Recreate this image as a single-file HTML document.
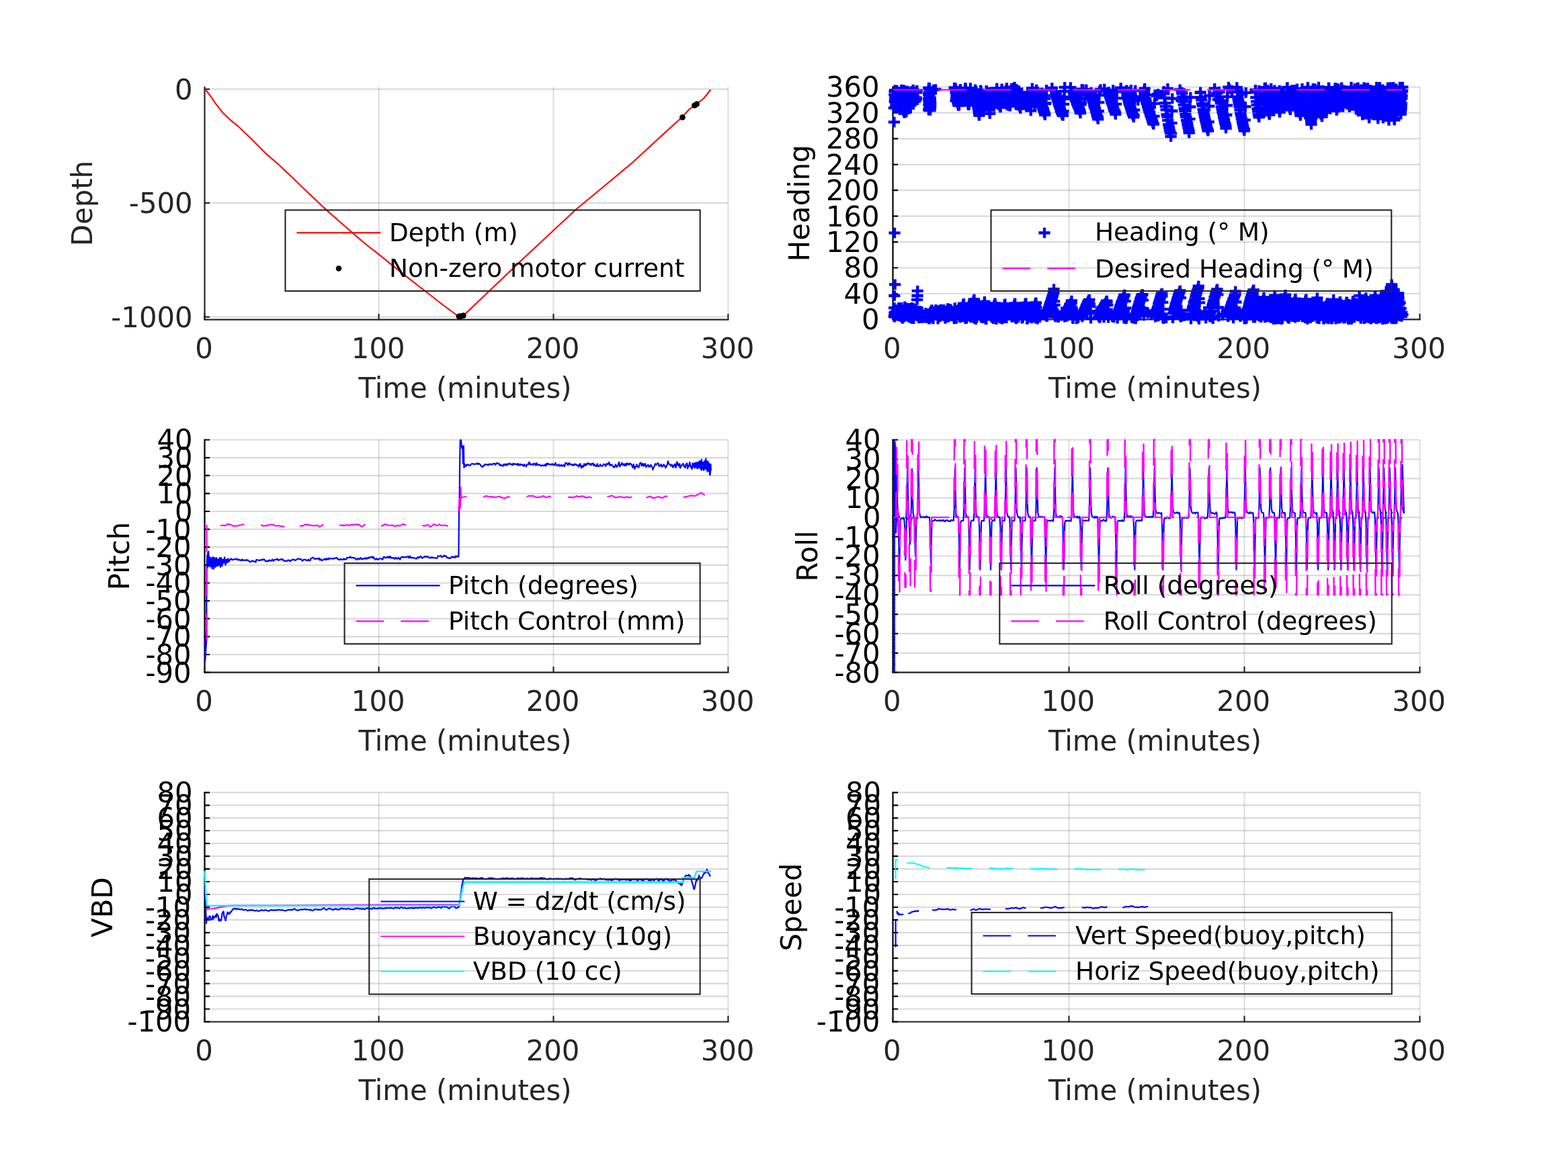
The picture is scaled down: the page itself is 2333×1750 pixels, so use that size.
<!DOCTYPE html>
<html><head><meta charset="utf-8"><title>Dive plots</title>
<style>html,body{margin:0;padding:0;background:#fff}svg{display:block}text{font-family:"DejaVu Sans","Liberation Sans",sans-serif}</style></head><body>
<svg xmlns="http://www.w3.org/2000/svg" width="2333" height="1750" viewBox="0 0 2333 1750">
<rect width="2333" height="1750" fill="#fff"/>
<g id="ax1">
<path d="M563.6 129.6V465.3M823.5 129.6V465.3M1083.4 129.6V465.3" stroke="#262626" stroke-opacity="0.14" stroke-width="2.2" fill="none"/>
<path d="M314.1 132.6H1083.4M314.1 302.1H1083.4M314.1 471.6H1083.4" stroke="#262626" stroke-opacity="0.17" stroke-width="2.2" fill="none"/>
<path d="M304.5 475.6H1083.4" stroke="#262626" stroke-width="2.2" fill="none" stroke-linecap="round"/>
<path d="M304.5 129.6V475.6" stroke="#262626" stroke-width="2.2" fill="none" stroke-linecap="round"/>
<path d="M304.5 475.6v-8.1M563.6 475.6v-8.1M823.5 475.6v-8.1M1083.4 475.6v-8.1" stroke="#262626" stroke-width="2.2" fill="none" stroke-linecap="round"/>
<path d="M304.5 132.6h7.0M304.5 302.1h7.0M304.5 471.6h7.0" stroke="#262626" stroke-width="2.2" fill="none" stroke-linecap="round"/>
<g font-size="41.75" fill="#262626" text-anchor="middle">
<text x="303.6" y="533.2">0</text>
<text x="562.7" y="533.2">100</text>
<text x="822.6" y="533.2">200</text>
<text x="1082.5" y="533.2">300</text>
<text x="692" y="592.4">Time (minutes)</text>
<text transform="translate(137 302.6) rotate(-90)" fill="#262626">Depth</text>
</g>
<g font-size="41.75" fill="#262626" text-anchor="end">
<text x="286.6" y="147.5">0</text>
<text x="286.6" y="317">-500</text>
<text x="286.6" y="486.5">-1000</text>
</g>
<path d="M305.3 132.6L313.6 143.5L321.7 155.3L332.5 168.8L342.5 178.3L354.2 187.8L372.3 205L396.7 229.4L417.5 247.5L439.2 268.3L458.6 287L485.5 312.4L524.3 346.4L543.7 363L563.1 378.2L601.9 409.4L632.4 433L660 454.5L679.5 469L684 471.3L688.5 470.3L692 467.4L727.5 433.5L774.1 389L822.9 343.5L856.6 312L886.9 287L939 243.7L991.1 195.9L1014.9 174.2L1025.8 162.3L1035.6 155.8L1047.5 146L1057.2 133.5" stroke="#f00" stroke-width="2.15" fill="none" stroke-linejoin="round" />
<circle cx="683" cy="470.9" r="4.4" fill="#000"/>
<circle cx="685.5" cy="470.7" r="4.4" fill="#000"/>
<circle cx="689.3" cy="469.6" r="4.4" fill="#000"/>
<circle cx="1015.4" cy="174.6" r="4.4" fill="#000"/>
<circle cx="1033.4" cy="156.8" r="4.4" fill="#000"/>
<circle cx="1036.6" cy="155.0" r="4.4" fill="#000"/>
<rect x="424.5" y="312.6" width="617.2" height="120.5" fill="none" stroke="#262626" stroke-width="2.1"/>
<path d="M441.5 346.3h125" stroke="#f00" stroke-width="2.2" fill="none"/>
<text x="578.9" y="359.3" font-size="37.45" fill="#000">Depth (m)</text>
<circle cx="504" cy="399.5" r="4.3" fill="#000"/>
<text x="578.9" y="412.1" font-size="37.45" fill="#000">Non-zero motor current</text>
</g>
<g id="ax2">
<path d="M1590.5 129.5V465.1M1851.5 129.5V465.1M2112.5 129.5V465.1" stroke="#262626" stroke-opacity="0.14" stroke-width="2.2" fill="none"/>
<path d="M1338.1 475.4H2112.5M1338.1 437H2112.5M1338.1 398.5H2112.5M1338.1 360.1H2112.5M1338.1 321.7H2112.5M1338.1 283.2H2112.5M1338.1 244.8H2112.5M1338.1 206.4H2112.5M1338.1 167.9H2112.5M1338.1 129.5H2112.5" stroke="#262626" stroke-opacity="0.17" stroke-width="2.2" fill="none"/>
<path d="M1328.5 475.4H2112.5" stroke="#262626" stroke-width="2.2" fill="none" stroke-linecap="round"/>
<path d="M1328.5 129.5V475.4" stroke="#000000" stroke-width="2.2" fill="none" stroke-linecap="round"/>
<path d="M1328.5 475.4v-8.1M1590.5 475.4v-8.1M1851.5 475.4v-8.1M2112.5 475.4v-8.1" stroke="#262626" stroke-width="2.2" fill="none" stroke-linecap="round"/>
<path d="M1328.5 475.4h7.0M1328.5 437h7.0M1328.5 398.5h7.0M1328.5 360.1h7.0M1328.5 321.7h7.0M1328.5 283.2h7.0M1328.5 244.8h7.0M1328.5 206.4h7.0M1328.5 167.9h7.0M1328.5 129.5h7.0" stroke="#000000" stroke-width="2.2" fill="none" stroke-linecap="round"/>
<g font-size="41.75" fill="#262626" text-anchor="middle">
<text x="1327.2" y="533">0</text>
<text x="1589.2" y="533">100</text>
<text x="1850.2" y="533">200</text>
<text x="2111.2" y="533">300</text>
<text x="1718.5" y="592.2">Time (minutes)</text>
<text transform="translate(1203.9 302.4) rotate(-90)" fill="#000000">Heading</text>
</g>
<g font-size="41.75" fill="#000000" text-anchor="end">
<text x="1308.7" y="490.3">0</text>
<text x="1308.7" y="451.9">40</text>
<text x="1308.7" y="413.4">80</text>
<text x="1308.7" y="375">120</text>
<text x="1308.7" y="336.6">160</text>
<text x="1308.7" y="298.1">200</text>
<text x="1308.7" y="259.7">240</text>
<text x="1308.7" y="221.3">280</text>
<text x="1308.7" y="182.8">320</text>
<text x="1308.7" y="144.4">360</text>
</g>
<path d="M1326.8 153.6h17.2m-8.6-7.8v15.6M1323.7 148.9h17.2m-8.6-7.8v15.6M1350.1 133.5h17.2m-8.6-7.8v15.6M1346.4 138.8h17.2m-8.6-7.8v15.6M1330.8 142.1h17.2m-8.6-7.8v15.6M1324.8 160.8h17.2m-8.6-7.8v15.6M1341.7 153.4h17.2m-8.6-7.8v15.6M1355.3 137.5h17.2m-8.6-7.8v15.6M1344.8 145.0h17.2m-8.6-7.8v15.6M1330.8 151.3h17.2m-8.6-7.8v15.6M1329.2 157.6h17.2m-8.6-7.8v15.6M1334.9 159.9h17.2m-8.6-7.8v15.6M1342.4 135.9h17.2m-8.6-7.8v15.6M1342.8 155.2h17.2m-8.6-7.8v15.6M1327.7 136.6h17.2m-8.6-7.8v15.6M1329.3 146.5h17.2m-8.6-7.8v15.6M1339.3 145.8h17.2m-8.6-7.8v15.6M1339.8 166.2h17.2m-8.6-7.8v15.6M1339.5 135.3h17.2m-8.6-7.8v15.6M1347.9 154.1h17.2m-8.6-7.8v15.6M1331.7 143.3h17.2m-8.6-7.8v15.6M1346.4 146.4h17.2m-8.6-7.8v15.6M1347.8 152.4h17.2m-8.6-7.8v15.6M1340.6 147.1h17.2m-8.6-7.8v15.6M1337.7 139.1h17.2m-8.6-7.8v15.6M1325.5 141.2h17.2m-8.6-7.8v15.6M1334.0 153.9h17.2m-8.6-7.8v15.6M1336.9 167.6h17.2m-8.6-7.8v15.6M1335.8 133.7h17.2m-8.6-7.8v15.6M1324.7 153.2h17.2m-8.6-7.8v15.6M1339.6 155.3h17.2m-8.6-7.8v15.6M1336.9 168.0h17.2m-8.6-7.8v15.6M1324.9 140.9h17.2m-8.6-7.8v15.6M1350.1 145.6h17.2m-8.6-7.8v15.6M1350.5 142.4h17.2m-8.6-7.8v15.6M1333.7 140.1h17.2m-8.6-7.8v15.6M1324.8 134.4h17.2m-8.6-7.8v15.6M1333.1 134.1h17.2m-8.6-7.8v15.6M1331.7 154.0h17.2m-8.6-7.8v15.6M1349.1 136.0h17.2m-8.6-7.8v15.6M1343.2 153.1h17.2m-8.6-7.8v15.6M1322.6 151.4h17.2m-8.6-7.8v15.6M1339.3 166.9h17.2m-8.6-7.8v15.6M1348.0 136.0h17.2m-8.6-7.8v15.6M1326.1 154.1h17.2m-8.6-7.8v15.6M1332.7 133.5h17.2m-8.6-7.8v15.6M1355.7 134.6h17.2m-8.6-7.8v15.6M1323.1 134.1h17.2m-8.6-7.8v15.6M1354.9 146.0h17.2m-8.6-7.8v15.6M1344.8 147.4h17.2m-8.6-7.8v15.6M1353.0 136.7h17.2m-8.6-7.8v15.6M1330.0 163.2h17.2m-8.6-7.8v15.6M1345.7 138.8h17.2m-8.6-7.8v15.6M1337.7 138.7h17.2m-8.6-7.8v15.6M1327.6 139.8h17.2m-8.6-7.8v15.6M1334.1 147.3h17.2m-8.6-7.8v15.6M1331.7 151.5h17.2m-8.6-7.8v15.6M1346.4 148.0h17.2m-8.6-7.8v15.6M1325.2 150.5h17.2m-8.6-7.8v15.6M1339.4 163.2h17.2m-8.6-7.8v15.6M1350.7 143.0h17.2m-8.6-7.8v15.6M1342.4 137.6h17.2m-8.6-7.8v15.6M1322.2 141.0h17.2m-8.6-7.8v15.6M1349.2 136.8h17.2m-8.6-7.8v15.6M1325.5 134.5h17.2m-8.6-7.8v15.6M1325.2 155.6h17.2m-8.6-7.8v15.6M1349.1 153.9h17.2m-8.6-7.8v15.6M1324.3 152.2h17.2m-8.6-7.8v15.6M1350.1 154.2h17.2m-8.6-7.8v15.6M1343.3 142.3h17.2m-8.6-7.8v15.6M1348.7 149.3h17.2m-8.6-7.8v15.6M1347.5 136.7h17.2m-8.6-7.8v15.6M1334.3 151.5h17.2m-8.6-7.8v15.6M1346.6 140.2h17.2m-8.6-7.8v15.6M1346.7 143.5h17.2m-8.6-7.8v15.6M1353.8 145.5h17.2m-8.6-7.8v15.6M1343.9 138.0h17.2m-8.6-7.8v15.6M1335.4 148.6h17.2m-8.6-7.8v15.6M1326.4 158.4h17.2m-8.6-7.8v15.6M1322.8 148.5h17.2m-8.6-7.8v15.6M1344.9 155.2h17.2m-8.6-7.8v15.6M1348.4 153.6h17.2m-8.6-7.8v15.6M1342.1 147.5h17.2m-8.6-7.8v15.6M1321.7 160.6h17.2m-8.6-7.8v15.6M1339.4 166.8h17.2m-8.6-7.8v15.6M1322.4 136.1h17.2m-8.6-7.8v15.6M1323.9 159.4h17.2m-8.6-7.8v15.6M1349.8 147.0h17.2m-8.6-7.8v15.6M1323.2 144.9h17.2m-8.6-7.8v15.6M1334.3 141.8h17.2m-8.6-7.8v15.6M1330.2 146.4h17.2m-8.6-7.8v15.6M1341.4 142.1h17.2m-8.6-7.8v15.6M1341.0 146.1h17.2m-8.6-7.8v15.6M1354.7 148.3h17.2m-8.6-7.8v15.6M1326.7 156.4h17.2m-8.6-7.8v15.6M1327.9 157.9h17.2m-8.6-7.8v15.6M1352.9 150.9h17.2m-8.6-7.8v15.6M1348.9 136.2h17.2m-8.6-7.8v15.6M1331.1 148.8h17.2m-8.6-7.8v15.6M1347.8 153.1h17.2m-8.6-7.8v15.6M1347.9 143.9h17.2m-8.6-7.8v15.6M1327.0 148.0h17.2m-8.6-7.8v15.6M1345.6 149.9h17.2m-8.6-7.8v15.6M1324.1 147.8h17.2m-8.6-7.8v15.6M1328.6 137.6h17.2m-8.6-7.8v15.6M1326.9 154.0h17.2m-8.6-7.8v15.6M1335.3 164.6h17.2m-8.6-7.8v15.6M1334.5 148.1h17.2m-8.6-7.8v15.6M1346.0 141.9h17.2m-8.6-7.8v15.6M1349.7 137.4h17.2m-8.6-7.8v15.6M1329.4 141.7h17.2m-8.6-7.8v15.6M1334.3 146.7h17.2m-8.6-7.8v15.6M1324.3 156.5h17.2m-8.6-7.8v15.6M1343.8 161.0h17.2m-8.6-7.8v15.6M1327.6 157.1h17.2m-8.6-7.8v15.6M1350.3 145.6h17.2m-8.6-7.8v15.6M1332.3 141.0h17.2m-8.6-7.8v15.6M1352.1 145.5h17.2m-8.6-7.8v15.6M1338.7 163.9h17.2m-8.6-7.8v15.6M1346.1 142.2h17.2m-8.6-7.8v15.6M1375.6 145.6h17.2m-8.6-7.8v15.6M1373.1 146.6h17.2m-8.6-7.8v15.6M1373.3 149.5h17.2m-8.6-7.8v15.6M1375.7 149.3h17.2m-8.6-7.8v15.6M1375.9 160.3h17.2m-8.6-7.8v15.6M1374.1 141.5h17.2m-8.6-7.8v15.6M1374.2 133.4h17.2m-8.6-7.8v15.6M1374.5 160.8h17.2m-8.6-7.8v15.6M1374.0 148.9h17.2m-8.6-7.8v15.6M1373.8 162.1h17.2m-8.6-7.8v15.6M1373.7 161.3h17.2m-8.6-7.8v15.6M1373.1 140.6h17.2m-8.6-7.8v15.6M1373.9 164.0h17.2m-8.6-7.8v15.6M1373.3 156.1h17.2m-8.6-7.8v15.6M1373.4 139.4h17.2m-8.6-7.8v15.6M1374.4 162.1h17.2m-8.6-7.8v15.6M1373.2 163.6h17.2m-8.6-7.8v15.6M1374.4 132.4h17.2m-8.6-7.8v15.6M1373.6 150.8h17.2m-8.6-7.8v15.6M1374.1 130.6h17.2m-8.6-7.8v15.6M1373.8 152.0h17.2m-8.6-7.8v15.6M1375.3 164.1h17.2m-8.6-7.8v15.6M1373.5 138.3h17.2m-8.6-7.8v15.6M1374.3 137.9h17.2m-8.6-7.8v15.6M1375.0 158.3h17.2m-8.6-7.8v15.6M1374.3 155.7h17.2m-8.6-7.8v15.6M1374.6 139.3h17.2m-8.6-7.8v15.6M1374.6 139.7h17.2m-8.6-7.8v15.6M1375.4 164.3h17.2m-8.6-7.8v15.6M1375.2 159.8h17.2m-8.6-7.8v15.6M1376.1 157.4h17.2m-8.6-7.8v15.6M1375.0 164.2h17.2m-8.6-7.8v15.6M1373.2 130.8h17.2m-8.6-7.8v15.6M1376.1 153.1h17.2m-8.6-7.8v15.6M1375.8 158.5h17.2m-8.6-7.8v15.6M1374.2 145.7h17.2m-8.6-7.8v15.6M1374.6 150.2h17.2m-8.6-7.8v15.6M1373.3 146.9h17.2m-8.6-7.8v15.6M1375.1 138.6h17.2m-8.6-7.8v15.6M1374.8 138.5h17.2m-8.6-7.8v15.6M1324.6 465.4h17.2m-8.6-7.8v15.6M1327.2 464.1h17.2m-8.6-7.8v15.6M1336.5 471.7h17.2m-8.6-7.8v15.6M1344.4 458.9h17.2m-8.6-7.8v15.6M1329.3 460.8h17.2m-8.6-7.8v15.6M1334.9 470.8h17.2m-8.6-7.8v15.6M1347.9 460.9h17.2m-8.6-7.8v15.6M1347.6 460.9h17.2m-8.6-7.8v15.6M1348.0 465.3h17.2m-8.6-7.8v15.6M1325.8 465.0h17.2m-8.6-7.8v15.6M1329.7 470.0h17.2m-8.6-7.8v15.6M1342.0 467.0h17.2m-8.6-7.8v15.6M1342.9 464.0h17.2m-8.6-7.8v15.6M1345.0 459.9h17.2m-8.6-7.8v15.6M1335.2 460.7h17.2m-8.6-7.8v15.6M1341.0 470.2h17.2m-8.6-7.8v15.6M1335.4 470.1h17.2m-8.6-7.8v15.6M1333.1 463.1h17.2m-8.6-7.8v15.6M1354.3 467.8h17.2m-8.6-7.8v15.6M1339.6 460.4h17.2m-8.6-7.8v15.6M1351.3 459.0h17.2m-8.6-7.8v15.6M1327.8 469.9h17.2m-8.6-7.8v15.6M1322.0 458.1h17.2m-8.6-7.8v15.6M1328.4 458.5h17.2m-8.6-7.8v15.6M1350.1 462.3h17.2m-8.6-7.8v15.6M1335.3 472.0h17.2m-8.6-7.8v15.6M1344.9 472.1h17.2m-8.6-7.8v15.6M1347.2 473.9h17.2m-8.6-7.8v15.6M1353.6 462.9h17.2m-8.6-7.8v15.6M1340.3 463.8h17.2m-8.6-7.8v15.6M1334.1 474.0h17.2m-8.6-7.8v15.6M1350.7 474.2h17.2m-8.6-7.8v15.6M1328.9 465.6h17.2m-8.6-7.8v15.6M1327.9 462.7h17.2m-8.6-7.8v15.6M1341.7 468.1h17.2m-8.6-7.8v15.6M1339.3 460.0h17.2m-8.6-7.8v15.6M1329.0 467.2h17.2m-8.6-7.8v15.6M1331.4 468.7h17.2m-8.6-7.8v15.6M1343.7 471.9h17.2m-8.6-7.8v15.6M1346.4 464.1h17.2m-8.6-7.8v15.6M1354.2 461.1h17.2m-8.6-7.8v15.6M1327.2 461.6h17.2m-8.6-7.8v15.6M1332.4 468.2h17.2m-8.6-7.8v15.6M1348.7 462.7h17.2m-8.6-7.8v15.6M1353.4 466.5h17.2m-8.6-7.8v15.6M1348.7 472.7h17.2m-8.6-7.8v15.6M1336.1 467.9h17.2m-8.6-7.8v15.6M1337.7 456.4h17.2m-8.6-7.8v15.6M1323.9 464.9h17.2m-8.6-7.8v15.6M1325.6 467.2h17.2m-8.6-7.8v15.6M1322.9 464.7h17.2m-8.6-7.8v15.6M1353.5 466.4h17.2m-8.6-7.8v15.6M1354.4 468.3h17.2m-8.6-7.8v15.6M1324.8 467.2h17.2m-8.6-7.8v15.6M1329.5 460.8h17.2m-8.6-7.8v15.6M1332.0 460.9h17.2m-8.6-7.8v15.6M1324.0 465.6h17.2m-8.6-7.8v15.6M1325.8 463.0h17.2m-8.6-7.8v15.6M1331.1 457.7h17.2m-8.6-7.8v15.6M1340.0 458.3h17.2m-8.6-7.8v15.6M1332.8 457.8h17.2m-8.6-7.8v15.6M1355.0 465.3h17.2m-8.6-7.8v15.6M1326.7 461.0h17.2m-8.6-7.8v15.6M1346.2 461.8h17.2m-8.6-7.8v15.6M1322.7 467.0h17.2m-8.6-7.8v15.6M1336.1 467.5h17.2m-8.6-7.8v15.6M1329.7 458.1h17.2m-8.6-7.8v15.6M1343.7 463.2h17.2m-8.6-7.8v15.6M1322.6 471.6h17.2m-8.6-7.8v15.6M1348.0 464.3h17.2m-8.6-7.8v15.6M1331.6 459.0h17.2m-8.6-7.8v15.6M1332.4 463.3h17.2m-8.6-7.8v15.6M1328.3 463.3h17.2m-8.6-7.8v15.6M1329.0 457.7h17.2m-8.6-7.8v15.6M1331.6 471.1h17.2m-8.6-7.8v15.6M1347.2 467.2h17.2m-8.6-7.8v15.6M1348.2 457.9h17.2m-8.6-7.8v15.6M1322.3 466.1h17.2m-8.6-7.8v15.6M1326.3 461.0h17.2m-8.6-7.8v15.6M1343.3 467.3h17.2m-8.6-7.8v15.6M1346.8 459.3h17.2m-8.6-7.8v15.6M1350.1 470.3h17.2m-8.6-7.8v15.6M1326.3 464.8h17.2m-8.6-7.8v15.6M1321.6 470.7h17.2m-8.6-7.8v15.6M1347.5 461.5h17.2m-8.6-7.8v15.6M1364.4 468.9h17.2m-8.6-7.8v15.6M1374.1 468.6h17.2m-8.6-7.8v15.6M1357.9 469.6h17.2m-8.6-7.8v15.6M1361.5 470.8h17.2m-8.6-7.8v15.6M1375.2 471.9h17.2m-8.6-7.8v15.6M1375.6 468.1h17.2m-8.6-7.8v15.6M1377.2 462.6h17.2m-8.6-7.8v15.6M1363.2 473.0h17.2m-8.6-7.8v15.6M1374.3 474.6h17.2m-8.6-7.8v15.6M1360.2 465.4h17.2m-8.6-7.8v15.6M1356.5 463.3h17.2m-8.6-7.8v15.6M1368.7 465.7h17.2m-8.6-7.8v15.6M1359.6 468.8h17.2m-8.6-7.8v15.6M1371.3 472.6h17.2m-8.6-7.8v15.6M1360.6 463.1h17.2m-8.6-7.8v15.6M1372.0 472.0h17.2m-8.6-7.8v15.6M1370.7 471.3h17.2m-8.6-7.8v15.6M1359.0 468.7h17.2m-8.6-7.8v15.6M1372.7 467.9h17.2m-8.6-7.8v15.6M1373.7 466.7h17.2m-8.6-7.8v15.6M1367.1 472.7h17.2m-8.6-7.8v15.6M1371.9 473.5h17.2m-8.6-7.8v15.6M1374.6 472.6h17.2m-8.6-7.8v15.6M1356.0 466.3h17.2m-8.6-7.8v15.6M1358.8 473.4h17.2m-8.6-7.8v15.6M1363.0 464.4h17.2m-8.6-7.8v15.6M1368.9 470.6h17.2m-8.6-7.8v15.6M1371.4 466.8h17.2m-8.6-7.8v15.6M1362.0 463.9h17.2m-8.6-7.8v15.6M1362.4 468.2h17.2m-8.6-7.8v15.6M1375.7 464.2h17.2m-8.6-7.8v15.6M1366.5 468.9h17.2m-8.6-7.8v15.6M1360.4 463.0h17.2m-8.6-7.8v15.6M1368.3 471.5h17.2m-8.6-7.8v15.6M1356.3 464.6h17.2m-8.6-7.8v15.6M1369.1 467.4h17.2m-8.6-7.8v15.6M1360.7 467.1h17.2m-8.6-7.8v15.6M1370.2 469.8h17.2m-8.6-7.8v15.6M1358.1 470.3h17.2m-8.6-7.8v15.6M1356.0 470.4h17.2m-8.6-7.8v15.6M1359.7 470.5h17.2m-8.6-7.8v15.6M1359.9 469.9h17.2m-8.6-7.8v15.6M1361.8 463.8h17.2m-8.6-7.8v15.6M1368.2 471.9h17.2m-8.6-7.8v15.6M1369.8 470.1h17.2m-8.6-7.8v15.6M1362.0 469.2h17.2m-8.6-7.8v15.6M1356.3 462.8h17.2m-8.6-7.8v15.6M1366.7 469.7h17.2m-8.6-7.8v15.6M1371.3 467.9h17.2m-8.6-7.8v15.6M1374.4 467.5h17.2m-8.6-7.8v15.6M1395.3 460.8h17.2m-8.6-7.8v15.6M1392.0 465.7h17.2m-8.6-7.8v15.6M1396.5 470.5h17.2m-8.6-7.8v15.6M1396.3 466.1h17.2m-8.6-7.8v15.6M1407.7 470.1h17.2m-8.6-7.8v15.6M1390.2 470.3h17.2m-8.6-7.8v15.6M1412.1 458.1h17.2m-8.6-7.8v15.6M1381.7 467.3h17.2m-8.6-7.8v15.6M1399.2 465.0h17.2m-8.6-7.8v15.6M1393.7 466.1h17.2m-8.6-7.8v15.6M1404.0 463.6h17.2m-8.6-7.8v15.6M1408.5 468.3h17.2m-8.6-7.8v15.6M1411.2 474.4h17.2m-8.6-7.8v15.6M1405.5 460.0h17.2m-8.6-7.8v15.6M1400.3 463.6h17.2m-8.6-7.8v15.6M1384.8 465.2h17.2m-8.6-7.8v15.6M1409.3 463.6h17.2m-8.6-7.8v15.6M1384.5 468.2h17.2m-8.6-7.8v15.6M1385.7 462.7h17.2m-8.6-7.8v15.6M1405.2 468.1h17.2m-8.6-7.8v15.6M1396.1 467.0h17.2m-8.6-7.8v15.6M1390.9 470.8h17.2m-8.6-7.8v15.6M1400.1 467.8h17.2m-8.6-7.8v15.6M1391.9 468.4h17.2m-8.6-7.8v15.6M1380.9 466.0h17.2m-8.6-7.8v15.6M1411.9 461.3h17.2m-8.6-7.8v15.6M1404.9 467.8h17.2m-8.6-7.8v15.6M1387.6 463.3h17.2m-8.6-7.8v15.6M1401.1 469.5h17.2m-8.6-7.8v15.6M1400.1 470.4h17.2m-8.6-7.8v15.6M1396.6 468.5h17.2m-8.6-7.8v15.6M1406.5 461.7h17.2m-8.6-7.8v15.6M1397.7 464.0h17.2m-8.6-7.8v15.6M1382.1 463.5h17.2m-8.6-7.8v15.6M1383.8 460.9h17.2m-8.6-7.8v15.6M1391.1 460.5h17.2m-8.6-7.8v15.6M1402.7 465.3h17.2m-8.6-7.8v15.6M1402.4 459.7h17.2m-8.6-7.8v15.6M1390.3 463.8h17.2m-8.6-7.8v15.6M1412.0 460.6h17.2m-8.6-7.8v15.6M1387.7 464.3h17.2m-8.6-7.8v15.6M1389.7 463.8h17.2m-8.6-7.8v15.6M1402.3 471.9h17.2m-8.6-7.8v15.6M1396.7 464.7h17.2m-8.6-7.8v15.6M1384.5 465.5h17.2m-8.6-7.8v15.6M1399.9 465.0h17.2m-8.6-7.8v15.6M1403.4 469.9h17.2m-8.6-7.8v15.6M1377.8 461.1h17.2m-8.6-7.8v15.6M1400.6 469.6h17.2m-8.6-7.8v15.6M1411.3 469.7h17.2m-8.6-7.8v15.6M1393.3 468.8h17.2m-8.6-7.8v15.6M1389.2 467.9h17.2m-8.6-7.8v15.6M1401.5 459.1h17.2m-8.6-7.8v15.6M1406.1 466.1h17.2m-8.6-7.8v15.6M1398.4 462.5h17.2m-8.6-7.8v15.6M1390.3 471.2h17.2m-8.6-7.8v15.6M1408.4 464.0h17.2m-8.6-7.8v15.6M1385.9 464.0h17.2m-8.6-7.8v15.6M1402.0 461.1h17.2m-8.6-7.8v15.6M1379.8 474.4h17.2m-8.6-7.8v15.6M1399.5 466.0h17.2m-8.6-7.8v15.6M1395.9 464.9h17.2m-8.6-7.8v15.6M1407.8 466.1h17.2m-8.6-7.8v15.6M1378.7 471.8h17.2m-8.6-7.8v15.6M1392.4 465.4h17.2m-8.6-7.8v15.6M1383.8 462.7h17.2m-8.6-7.8v15.6M1389.8 461.9h17.2m-8.6-7.8v15.6M1397.9 473.9h17.2m-8.6-7.8v15.6M1387.4 466.9h17.2m-8.6-7.8v15.6M1385.2 462.1h17.2m-8.6-7.8v15.6M1321.8 181.6h17.2m-8.6-7.8v15.6M1322.4 346.6h17.2m-8.6-7.8v15.6M1323.0 423.4h17.2m-8.6-7.8v15.6M1322.2 440.0h17.2m-8.6-7.8v15.6M1356.6 432.8h17.2m-8.6-7.8v15.6M1356.4 440.0h17.2m-8.6-7.8v15.6M1356.0 446.0h17.2m-8.6-7.8v15.6M1387.0 474.7h17.2m-8.6-7.8v15.6M1383.4 133.0h17.2m-8.6-7.8v15.6M1380.4 133.5h17.2m-8.6-7.8v15.6M1411.0 471.9h17.2m-8.6-7.8v15.6M1411.4 130.8h17.2m-8.6-7.8v15.6M1411.8 473.3h17.2m-8.6-7.8v15.6M1412.2 130.5h17.2m-8.6-7.8v15.6M1412.6 130.9h17.2m-8.6-7.8v15.6M1413.0 132.8h17.2m-8.6-7.8v15.6M1413.4 136.3h17.2m-8.6-7.8v15.6M1413.8 134.0h17.2m-8.6-7.8v15.6M1413.8 137.4h17.2m-8.6-7.8v15.6M1414.2 141.4h17.2m-8.6-7.8v15.6M1414.7 143.8h17.2m-8.6-7.8v15.6M1415.1 146.7h17.2m-8.6-7.8v15.6M1415.5 147.7h17.2m-8.6-7.8v15.6M1416.0 150.5h17.2m-8.6-7.8v15.6M1416.4 153.2h17.2m-8.6-7.8v15.6M1416.8 154.4h17.2m-8.6-7.8v15.6M1417.3 156.9h17.2m-8.6-7.8v15.6M1417.7 157.2h17.2m-8.6-7.8v15.6M1417.9 152.5h17.2m-8.6-7.8v15.6M1418.3 156.7h17.2m-8.6-7.8v15.6M1418.7 146.1h17.2m-8.6-7.8v15.6M1419.1 144.8h17.2m-8.6-7.8v15.6M1419.5 135.6h17.2m-8.6-7.8v15.6M1419.9 137.4h17.2m-8.6-7.8v15.6M1420.3 132.8h17.2m-8.6-7.8v15.6M1420.7 470.6h17.2m-8.6-7.8v15.6M1420.7 472.5h17.2m-8.6-7.8v15.6M1421.2 468.0h17.2m-8.6-7.8v15.6M1421.6 465.7h17.2m-8.6-7.8v15.6M1422.1 463.9h17.2m-8.6-7.8v15.6M1422.6 462.6h17.2m-8.6-7.8v15.6M1422.9 460.6h17.2m-8.6-7.8v15.6M1423.4 458.6h17.2m-8.6-7.8v15.6M1423.9 456.5h17.2m-8.6-7.8v15.6M1424.4 454.9h17.2m-8.6-7.8v15.6M1424.8 452.9h17.2m-8.6-7.8v15.6M1425.3 451.7h17.2m-8.6-7.8v15.6M1425.5 455.9h17.2m-8.6-7.8v15.6M1425.9 458.6h17.2m-8.6-7.8v15.6M1426.3 462.4h17.2m-8.6-7.8v15.6M1426.7 465.0h17.2m-8.6-7.8v15.6M1427.1 471.6h17.2m-8.6-7.8v15.6M1427.5 131.4h17.2m-8.6-7.8v15.6M1427.9 130.8h17.2m-8.6-7.8v15.6M1428.3 133.4h17.2m-8.6-7.8v15.6M1428.3 137.1h17.2m-8.6-7.8v15.6M1428.8 139.6h17.2m-8.6-7.8v15.6M1429.2 143.1h17.2m-8.6-7.8v15.6M1429.7 145.2h17.2m-8.6-7.8v15.6M1430.1 145.4h17.2m-8.6-7.8v15.6M1430.5 148.5h17.2m-8.6-7.8v15.6M1430.9 149.5h17.2m-8.6-7.8v15.6M1431.4 151.3h17.2m-8.6-7.8v15.6M1431.9 154.0h17.2m-8.6-7.8v15.6M1432.2 155.8h17.2m-8.6-7.8v15.6M1432.7 156.5h17.2m-8.6-7.8v15.6M1432.9 155.3h17.2m-8.6-7.8v15.6M1433.3 154.3h17.2m-8.6-7.8v15.6M1433.7 147.9h17.2m-8.6-7.8v15.6M1434.1 139.8h17.2m-8.6-7.8v15.6M1434.5 139.8h17.2m-8.6-7.8v15.6M1434.9 136.5h17.2m-8.6-7.8v15.6M1435.3 131.1h17.2m-8.6-7.8v15.6M1435.7 472.5h17.2m-8.6-7.8v15.6M1435.7 471.7h17.2m-8.6-7.8v15.6M1436.2 467.8h17.2m-8.6-7.8v15.6M1436.6 464.3h17.2m-8.6-7.8v15.6M1437.0 462.3h17.2m-8.6-7.8v15.6M1437.5 460.5h17.2m-8.6-7.8v15.6M1438.0 457.3h17.2m-8.6-7.8v15.6M1438.5 455.1h17.2m-8.6-7.8v15.6M1438.9 452.6h17.2m-8.6-7.8v15.6M1439.3 451.3h17.2m-8.6-7.8v15.6M1439.8 449.1h17.2m-8.6-7.8v15.6M1440.2 448.2h17.2m-8.6-7.8v15.6M1440.7 445.5h17.2m-8.6-7.8v15.6M1440.9 446.8h17.2m-8.6-7.8v15.6M1441.3 456.6h17.2m-8.6-7.8v15.6M1441.7 454.8h17.2m-8.6-7.8v15.6M1442.1 459.5h17.2m-8.6-7.8v15.6M1442.5 466.7h17.2m-8.6-7.8v15.6M1442.9 473.1h17.2m-8.6-7.8v15.6M1443.3 475.1h17.2m-8.6-7.8v15.6M1443.7 135.9h17.2m-8.6-7.8v15.6M1443.7 137.9h17.2m-8.6-7.8v15.6M1444.2 143.3h17.2m-8.6-7.8v15.6M1444.6 146.0h17.2m-8.6-7.8v15.6M1445.0 149.7h17.2m-8.6-7.8v15.6M1445.5 154.3h17.2m-8.6-7.8v15.6M1446.0 157.4h17.2m-8.6-7.8v15.6M1446.5 159.6h17.2m-8.6-7.8v15.6M1446.9 162.7h17.2m-8.6-7.8v15.6M1447.4 165.3h17.2m-8.6-7.8v15.6M1447.8 168.4h17.2m-8.6-7.8v15.6M1448.3 171.9h17.2m-8.6-7.8v15.6M1448.5 164.5h17.2m-8.6-7.8v15.6M1448.9 166.7h17.2m-8.6-7.8v15.6M1449.3 158.8h17.2m-8.6-7.8v15.6M1449.7 153.3h17.2m-8.6-7.8v15.6M1450.1 146.1h17.2m-8.6-7.8v15.6M1450.5 134.4h17.2m-8.6-7.8v15.6M1450.9 136.1h17.2m-8.6-7.8v15.6M1451.3 472.5h17.2m-8.6-7.8v15.6M1451.3 471.7h17.2m-8.6-7.8v15.6M1451.8 469.1h17.2m-8.6-7.8v15.6M1452.3 465.2h17.2m-8.6-7.8v15.6M1452.7 464.6h17.2m-8.6-7.8v15.6M1453.2 461.8h17.2m-8.6-7.8v15.6M1453.7 460.9h17.2m-8.6-7.8v15.6M1454.2 458.4h17.2m-8.6-7.8v15.6M1454.6 456.3h17.2m-8.6-7.8v15.6M1455.1 456.0h17.2m-8.6-7.8v15.6M1455.6 453.6h17.2m-8.6-7.8v15.6M1456.1 452.3h17.2m-8.6-7.8v15.6M1456.3 448.8h17.2m-8.6-7.8v15.6M1456.7 453.3h17.2m-8.6-7.8v15.6M1457.3 461.2h17.2m-8.6-7.8v15.6M1457.7 469.8h17.2m-8.6-7.8v15.6M1458.1 475.0h17.2m-8.6-7.8v15.6M1458.7 475.3h17.2m-8.6-7.8v15.6M1459.1 134.9h17.2m-8.6-7.8v15.6M1459.1 136.9h17.2m-8.6-7.8v15.6M1459.5 141.7h17.2m-8.6-7.8v15.6M1460.1 145.2h17.2m-8.6-7.8v15.6M1460.6 147.4h17.2m-8.6-7.8v15.6M1461.1 150.1h17.2m-8.6-7.8v15.6M1461.5 152.8h17.2m-8.6-7.8v15.6M1462.0 155.3h17.2m-8.6-7.8v15.6M1462.4 157.4h17.2m-8.6-7.8v15.6M1463.0 160.1h17.2m-8.6-7.8v15.6M1463.5 163.2h17.2m-8.6-7.8v15.6M1463.9 164.3h17.2m-8.6-7.8v15.6M1464.1 169.2h17.2m-8.6-7.8v15.6M1464.5 158.4h17.2m-8.6-7.8v15.6M1465.1 145.0h17.2m-8.6-7.8v15.6M1465.5 140.2h17.2m-8.6-7.8v15.6M1466.0 139.1h17.2m-8.6-7.8v15.6M1466.4 137.4h17.2m-8.6-7.8v15.6M1466.9 472.2h17.2m-8.6-7.8v15.6M1466.9 471.1h17.2m-8.6-7.8v15.6M1467.3 467.6h17.2m-8.6-7.8v15.6M1467.8 466.0h17.2m-8.6-7.8v15.6M1468.3 463.7h17.2m-8.6-7.8v15.6M1468.9 462.4h17.2m-8.6-7.8v15.6M1469.3 460.4h17.2m-8.6-7.8v15.6M1469.8 458.4h17.2m-8.6-7.8v15.6M1470.3 456.2h17.2m-8.6-7.8v15.6M1470.8 455.0h17.2m-8.6-7.8v15.6M1471.2 453.7h17.2m-8.6-7.8v15.6M1471.7 451.7h17.2m-8.6-7.8v15.6M1471.9 451.3h17.2m-8.6-7.8v15.6M1472.4 454.4h17.2m-8.6-7.8v15.6M1472.9 462.7h17.2m-8.6-7.8v15.6M1473.3 467.4h17.2m-8.6-7.8v15.6M1473.8 475.3h17.2m-8.6-7.8v15.6M1474.2 136.7h17.2m-8.6-7.8v15.6M1474.7 139.0h17.2m-8.6-7.8v15.6M1474.7 136.9h17.2m-8.6-7.8v15.6M1475.2 141.4h17.2m-8.6-7.8v15.6M1475.8 144.6h17.2m-8.6-7.8v15.6M1476.3 147.0h17.2m-8.6-7.8v15.6M1476.9 149.5h17.2m-8.6-7.8v15.6M1477.3 151.5h17.2m-8.6-7.8v15.6M1477.9 153.2h17.2m-8.6-7.8v15.6M1478.5 155.3h17.2m-8.6-7.8v15.6M1479.0 157.2h17.2m-8.6-7.8v15.6M1479.5 159.8h17.2m-8.6-7.8v15.6M1479.7 159.7h17.2m-8.6-7.8v15.6M1480.1 159.6h17.2m-8.6-7.8v15.6M1480.7 143.6h17.2m-8.6-7.8v15.6M1481.1 143.8h17.2m-8.6-7.8v15.6M1481.6 136.4h17.2m-8.6-7.8v15.6M1482.0 132.3h17.2m-8.6-7.8v15.6M1482.5 474.7h17.2m-8.6-7.8v15.6M1482.5 471.6h17.2m-8.6-7.8v15.6M1483.0 467.7h17.2m-8.6-7.8v15.6M1483.5 465.1h17.2m-8.6-7.8v15.6M1484.1 462.2h17.2m-8.6-7.8v15.6M1484.6 460.2h17.2m-8.6-7.8v15.6M1485.1 458.2h17.2m-8.6-7.8v15.6M1485.6 456.6h17.2m-8.6-7.8v15.6M1486.2 454.1h17.2m-8.6-7.8v15.6M1486.7 452.2h17.2m-8.6-7.8v15.6M1486.9 455.2h17.2m-8.6-7.8v15.6M1487.3 460.8h17.2m-8.6-7.8v15.6M1487.9 460.3h17.2m-8.6-7.8v15.6M1488.3 468.2h17.2m-8.6-7.8v15.6M1488.8 470.3h17.2m-8.6-7.8v15.6M1489.3 130.8h17.2m-8.6-7.8v15.6M1489.7 135.9h17.2m-8.6-7.8v15.6M1489.8 137.4h17.2m-8.6-7.8v15.6M1490.2 140.3h17.2m-8.6-7.8v15.6M1490.8 144.5h17.2m-8.6-7.8v15.6M1491.3 146.9h17.2m-8.6-7.8v15.6M1491.9 149.4h17.2m-8.6-7.8v15.6M1492.4 152.2h17.2m-8.6-7.8v15.6M1492.9 153.8h17.2m-8.6-7.8v15.6M1493.5 155.9h17.2m-8.6-7.8v15.6M1494.0 158.0h17.2m-8.6-7.8v15.6M1494.2 156.7h17.2m-8.6-7.8v15.6M1494.6 155.6h17.2m-8.6-7.8v15.6M1495.2 146.0h17.2m-8.6-7.8v15.6M1495.7 137.5h17.2m-8.6-7.8v15.6M1496.1 136.6h17.2m-8.6-7.8v15.6M1496.6 131.6h17.2m-8.6-7.8v15.6M1497.0 467.9h17.2m-8.6-7.8v15.6M1497.1 471.9h17.2m-8.6-7.8v15.6M1497.5 468.0h17.2m-8.6-7.8v15.6M1498.1 464.6h17.2m-8.6-7.8v15.6M1498.7 462.8h17.2m-8.6-7.8v15.6M1499.1 460.2h17.2m-8.6-7.8v15.6M1499.8 457.7h17.2m-8.6-7.8v15.6M1500.4 455.4h17.2m-8.6-7.8v15.6M1500.9 453.5h17.2m-8.6-7.8v15.6M1501.4 451.4h17.2m-8.6-7.8v15.6M1501.6 453.5h17.2m-8.6-7.8v15.6M1502.1 458.1h17.2m-8.6-7.8v15.6M1502.5 464.7h17.2m-8.6-7.8v15.6M1503.0 465.4h17.2m-8.6-7.8v15.6M1503.5 474.4h17.2m-8.6-7.8v15.6M1504.0 133.1h17.2m-8.6-7.8v15.6M1504.4 134.9h17.2m-8.6-7.8v15.6M1504.4 136.9h17.2m-8.6-7.8v15.6M1504.9 140.2h17.2m-8.6-7.8v15.6M1505.5 143.6h17.2m-8.6-7.8v15.6M1506.0 145.9h17.2m-8.6-7.8v15.6M1506.5 149.9h17.2m-8.6-7.8v15.6M1507.0 151.1h17.2m-8.6-7.8v15.6M1507.5 152.7h17.2m-8.6-7.8v15.6M1508.1 155.3h17.2m-8.6-7.8v15.6M1508.6 158.1h17.2m-8.6-7.8v15.6M1509.1 158.6h17.2m-8.6-7.8v15.6M1509.6 161.5h17.2m-8.6-7.8v15.6M1509.8 158.5h17.2m-8.6-7.8v15.6M1510.3 154.6h17.2m-8.6-7.8v15.6M1510.7 147.0h17.2m-8.6-7.8v15.6M1511.2 147.4h17.2m-8.6-7.8v15.6M1511.6 138.1h17.2m-8.6-7.8v15.6M1512.2 473.8h17.2m-8.6-7.8v15.6M1512.5 473.0h17.2m-8.6-7.8v15.6M1512.6 471.7h17.2m-8.6-7.8v15.6M1513.1 468.7h17.2m-8.6-7.8v15.6M1513.6 466.7h17.2m-8.6-7.8v15.6M1514.2 463.3h17.2m-8.6-7.8v15.6M1514.8 461.7h17.2m-8.6-7.8v15.6M1515.3 460.2h17.2m-8.6-7.8v15.6M1515.8 457.7h17.2m-8.6-7.8v15.6M1516.4 455.5h17.2m-8.6-7.8v15.6M1517.0 452.8h17.2m-8.6-7.8v15.6M1517.5 452.7h17.2m-8.6-7.8v15.6M1517.7 451.0h17.2m-8.6-7.8v15.6M1518.2 459.3h17.2m-8.6-7.8v15.6M1518.6 463.6h17.2m-8.6-7.8v15.6M1519.1 463.4h17.2m-8.6-7.8v15.6M1519.5 474.9h17.2m-8.6-7.8v15.6M1520.0 474.1h17.2m-8.6-7.8v15.6M1520.4 140.6h17.2m-8.6-7.8v15.6M1520.5 137.3h17.2m-8.6-7.8v15.6M1521.1 140.5h17.2m-8.6-7.8v15.6M1521.6 143.6h17.2m-8.6-7.8v15.6M1522.1 146.6h17.2m-8.6-7.8v15.6M1522.7 149.8h17.2m-8.6-7.8v15.6M1523.2 151.6h17.2m-8.6-7.8v15.6M1523.7 153.6h17.2m-8.6-7.8v15.6M1524.3 156.5h17.2m-8.6-7.8v15.6M1524.8 158.1h17.2m-8.6-7.8v15.6M1525.1 164.7h17.2m-8.6-7.8v15.6M1525.6 147.7h17.2m-8.6-7.8v15.6M1526.2 143.5h17.2m-8.6-7.8v15.6M1526.6 141.5h17.2m-8.6-7.8v15.6M1527.2 131.2h17.2m-8.6-7.8v15.6M1527.8 471.1h17.2m-8.6-7.8v15.6M1527.8 471.2h17.2m-8.6-7.8v15.6M1528.4 467.3h17.2m-8.6-7.8v15.6M1529.0 463.9h17.2m-8.6-7.8v15.6M1529.6 461.5h17.2m-8.6-7.8v15.6M1530.2 459.2h17.2m-8.6-7.8v15.6M1530.8 456.6h17.2m-8.6-7.8v15.6M1531.5 454.4h17.2m-8.6-7.8v15.6M1532.0 452.2h17.2m-8.6-7.8v15.6M1532.6 450.3h17.2m-8.6-7.8v15.6M1532.9 450.7h17.2m-8.6-7.8v15.6M1533.4 457.5h17.2m-8.6-7.8v15.6M1534.0 465.5h17.2m-8.6-7.8v15.6M1534.5 468.0h17.2m-8.6-7.8v15.6M1535.0 474.7h17.2m-8.6-7.8v15.6M1535.5 136.9h17.2m-8.6-7.8v15.6M1535.6 137.7h17.2m-8.6-7.8v15.6M1536.2 140.6h17.2m-8.6-7.8v15.6M1536.7 143.9h17.2m-8.6-7.8v15.6M1537.4 144.9h17.2m-8.6-7.8v15.6M1537.9 145.9h17.2m-8.6-7.8v15.6M1538.4 148.3h17.2m-8.6-7.8v15.6M1539.0 149.9h17.2m-8.6-7.8v15.6M1539.7 152.5h17.2m-8.6-7.8v15.6M1540.2 154.5h17.2m-8.6-7.8v15.6M1540.7 155.5h17.2m-8.6-7.8v15.6M1541.4 158.0h17.2m-8.6-7.8v15.6M1542.0 159.2h17.2m-8.6-7.8v15.6M1542.5 160.0h17.2m-8.6-7.8v15.6M1543.2 162.2h17.2m-8.6-7.8v15.6M1543.7 161.7h17.2m-8.6-7.8v15.6M1544.2 164.7h17.2m-8.6-7.8v15.6M1544.9 166.5h17.2m-8.6-7.8v15.6M1545.4 167.9h17.2m-8.6-7.8v15.6M1546.0 169.0h17.2m-8.6-7.8v15.6M1546.2 171.2h17.2m-8.6-7.8v15.6M1546.8 154.4h17.2m-8.6-7.8v15.6M1547.4 153.4h17.2m-8.6-7.8v15.6M1547.9 142.4h17.2m-8.6-7.8v15.6M1548.4 133.9h17.2m-8.6-7.8v15.6M1549.0 471.1h17.2m-8.6-7.8v15.6M1549.1 470.4h17.2m-8.6-7.8v15.6M1549.6 468.0h17.2m-8.6-7.8v15.6M1550.2 464.5h17.2m-8.6-7.8v15.6M1550.8 462.2h17.2m-8.6-7.8v15.6M1551.4 459.9h17.2m-8.6-7.8v15.6M1552.0 457.3h17.2m-8.6-7.8v15.6M1552.6 455.7h17.2m-8.6-7.8v15.6M1553.2 454.0h17.2m-8.6-7.8v15.6M1553.7 451.5h17.2m-8.6-7.8v15.6M1554.4 450.1h17.2m-8.6-7.8v15.6M1555.1 448.1h17.2m-8.6-7.8v15.6M1555.7 446.4h17.2m-8.6-7.8v15.6M1556.3 443.9h17.2m-8.6-7.8v15.6M1556.8 443.3h17.2m-8.6-7.8v15.6M1557.4 440.5h17.2m-8.6-7.8v15.6M1557.9 439.8h17.2m-8.6-7.8v15.6M1558.7 436.5h17.2m-8.6-7.8v15.6M1559.2 435.8h17.2m-8.6-7.8v15.6M1559.4 430.2h17.2m-8.6-7.8v15.6M1560.0 448.3h17.2m-8.6-7.8v15.6M1560.5 453.8h17.2m-8.6-7.8v15.6M1561.1 464.1h17.2m-8.6-7.8v15.6M1561.6 471.5h17.2m-8.6-7.8v15.6M1562.2 136.3h17.2m-8.6-7.8v15.6M1562.2 137.5h17.2m-8.6-7.8v15.6M1562.8 141.3h17.2m-8.6-7.8v15.6M1563.5 143.8h17.2m-8.6-7.8v15.6M1564.1 146.7h17.2m-8.6-7.8v15.6M1564.7 148.6h17.2m-8.6-7.8v15.6M1565.2 149.9h17.2m-8.6-7.8v15.6M1565.8 151.6h17.2m-8.6-7.8v15.6M1566.5 154.7h17.2m-8.6-7.8v15.6M1567.1 156.7h17.2m-8.6-7.8v15.6M1567.6 157.8h17.2m-8.6-7.8v15.6M1568.3 160.1h17.2m-8.6-7.8v15.6M1569.0 161.9h17.2m-8.6-7.8v15.6M1569.6 164.8h17.2m-8.6-7.8v15.6M1570.1 165.7h17.2m-8.6-7.8v15.6M1570.8 167.5h17.2m-8.6-7.8v15.6M1571.4 169.6h17.2m-8.6-7.8v15.6M1572.0 169.7h17.2m-8.6-7.8v15.6M1572.6 172.0h17.2m-8.6-7.8v15.6M1572.9 171.7h17.2m-8.6-7.8v15.6M1573.3 165.4h17.2m-8.6-7.8v15.6M1573.9 155.2h17.2m-8.6-7.8v15.6M1574.4 147.1h17.2m-8.6-7.8v15.6M1575.1 135.8h17.2m-8.6-7.8v15.6M1575.6 129.8h17.2m-8.6-7.8v15.6M1575.6 471.8h17.2m-8.6-7.8v15.6M1576.3 468.4h17.2m-8.6-7.8v15.6M1576.9 467.4h17.2m-8.6-7.8v15.6M1577.5 466.1h17.2m-8.6-7.8v15.6M1578.1 464.4h17.2m-8.6-7.8v15.6M1578.7 463.3h17.2m-8.6-7.8v15.6M1579.3 462.5h17.2m-8.6-7.8v15.6M1579.9 460.6h17.2m-8.6-7.8v15.6M1580.7 458.7h17.2m-8.6-7.8v15.6M1581.2 458.5h17.2m-8.6-7.8v15.6M1581.9 456.8h17.2m-8.6-7.8v15.6M1582.4 455.9h17.2m-8.6-7.8v15.6M1583.1 453.0h17.2m-8.6-7.8v15.6M1583.8 452.6h17.2m-8.6-7.8v15.6M1584.3 452.6h17.2m-8.6-7.8v15.6M1584.9 451.5h17.2m-8.6-7.8v15.6M1585.6 450.3h17.2m-8.6-7.8v15.6M1585.8 447.5h17.2m-8.6-7.8v15.6M1586.3 457.5h17.2m-8.6-7.8v15.6M1586.9 460.9h17.2m-8.6-7.8v15.6M1587.5 473.3h17.2m-8.6-7.8v15.6M1588.0 474.3h17.2m-8.6-7.8v15.6M1588.6 137.6h17.2m-8.6-7.8v15.6M1588.6 136.3h17.2m-8.6-7.8v15.6M1589.2 140.5h17.2m-8.6-7.8v15.6M1589.9 142.6h17.2m-8.6-7.8v15.6M1590.5 144.3h17.2m-8.6-7.8v15.6M1591.2 146.7h17.2m-8.6-7.8v15.6M1591.8 148.8h17.2m-8.6-7.8v15.6M1592.3 150.3h17.2m-8.6-7.8v15.6M1593.0 151.5h17.2m-8.6-7.8v15.6M1593.7 154.6h17.2m-8.6-7.8v15.6M1594.3 155.4h17.2m-8.6-7.8v15.6M1594.9 156.8h17.2m-8.6-7.8v15.6M1595.5 158.9h17.2m-8.6-7.8v15.6M1596.2 160.3h17.2m-8.6-7.8v15.6M1596.8 160.6h17.2m-8.6-7.8v15.6M1597.5 163.3h17.2m-8.6-7.8v15.6M1598.0 164.0h17.2m-8.6-7.8v15.6M1598.7 166.5h17.2m-8.6-7.8v15.6M1598.9 168.4h17.2m-8.6-7.8v15.6M1599.5 155.6h17.2m-8.6-7.8v15.6M1600.0 152.6h17.2m-8.6-7.8v15.6M1600.5 140.9h17.2m-8.6-7.8v15.6M1601.2 132.7h17.2m-8.6-7.8v15.6M1601.7 466.2h17.2m-8.6-7.8v15.6M1601.7 471.5h17.2m-8.6-7.8v15.6M1602.4 469.0h17.2m-8.6-7.8v15.6M1603.0 466.4h17.2m-8.6-7.8v15.6M1603.6 464.9h17.2m-8.6-7.8v15.6M1604.3 462.8h17.2m-8.6-7.8v15.6M1604.9 461.5h17.2m-8.6-7.8v15.6M1605.6 459.9h17.2m-8.6-7.8v15.6M1606.2 458.5h17.2m-8.6-7.8v15.6M1606.8 457.4h17.2m-8.6-7.8v15.6M1607.6 454.7h17.2m-8.6-7.8v15.6M1608.2 454.0h17.2m-8.6-7.8v15.6M1608.7 452.7h17.2m-8.6-7.8v15.6M1609.4 451.2h17.2m-8.6-7.8v15.6M1610.1 449.4h17.2m-8.6-7.8v15.6M1610.7 448.5h17.2m-8.6-7.8v15.6M1611.4 446.9h17.2m-8.6-7.8v15.6M1612.0 445.9h17.2m-8.6-7.8v15.6M1612.2 446.4h17.2m-8.6-7.8v15.6M1612.7 451.8h17.2m-8.6-7.8v15.6M1613.3 456.1h17.2m-8.6-7.8v15.6M1613.9 466.0h17.2m-8.6-7.8v15.6M1614.4 473.8h17.2m-8.6-7.8v15.6M1615.0 143.8h17.2m-8.6-7.8v15.6M1615.0 137.6h17.2m-8.6-7.8v15.6M1615.6 141.6h17.2m-8.6-7.8v15.6M1616.4 145.2h17.2m-8.6-7.8v15.6M1617.0 148.6h17.2m-8.6-7.8v15.6M1617.6 150.2h17.2m-8.6-7.8v15.6M1618.2 152.5h17.2m-8.6-7.8v15.6M1619.0 156.3h17.2m-8.6-7.8v15.6M1619.6 159.3h17.2m-8.6-7.8v15.6M1620.3 160.3h17.2m-8.6-7.8v15.6M1620.9 161.6h17.2m-8.6-7.8v15.6M1621.7 164.7h17.2m-8.6-7.8v15.6M1622.2 166.9h17.2m-8.6-7.8v15.6M1622.9 168.9h17.2m-8.6-7.8v15.6M1623.6 172.6h17.2m-8.6-7.8v15.6M1624.2 173.3h17.2m-8.6-7.8v15.6M1624.9 175.5h17.2m-8.6-7.8v15.6M1625.1 177.3h17.2m-8.6-7.8v15.6M1625.7 165.3h17.2m-8.6-7.8v15.6M1626.2 152.4h17.2m-8.6-7.8v15.6M1626.8 141.6h17.2m-8.6-7.8v15.6M1627.4 135.7h17.2m-8.6-7.8v15.6M1627.9 465.7h17.2m-8.6-7.8v15.6M1628.0 470.9h17.2m-8.6-7.8v15.6M1628.7 468.7h17.2m-8.6-7.8v15.6M1629.4 466.6h17.2m-8.6-7.8v15.6M1630.0 464.4h17.2m-8.6-7.8v15.6M1630.7 463.4h17.2m-8.6-7.8v15.6M1631.3 461.4h17.2m-8.6-7.8v15.6M1632.0 460.7h17.2m-8.6-7.8v15.6M1632.6 459.0h17.2m-8.6-7.8v15.6M1633.4 457.3h17.2m-8.6-7.8v15.6M1634.1 455.4h17.2m-8.6-7.8v15.6M1634.8 453.9h17.2m-8.6-7.8v15.6M1635.4 452.6h17.2m-8.6-7.8v15.6M1636.1 451.5h17.2m-8.6-7.8v15.6M1636.8 451.3h17.2m-8.6-7.8v15.6M1637.4 448.8h17.2m-8.6-7.8v15.6M1638.1 447.6h17.2m-8.6-7.8v15.6M1638.4 449.2h17.2m-8.6-7.8v15.6M1639.1 454.0h17.2m-8.6-7.8v15.6M1639.9 464.2h17.2m-8.6-7.8v15.6M1640.4 472.7h17.2m-8.6-7.8v15.6M1641.1 137.1h17.2m-8.6-7.8v15.6M1641.2 137.4h17.2m-8.6-7.8v15.6M1641.9 141.2h17.2m-8.6-7.8v15.6M1642.6 143.6h17.2m-8.6-7.8v15.6M1643.2 145.5h17.2m-8.6-7.8v15.6M1644.0 148.0h17.2m-8.6-7.8v15.6M1644.8 150.2h17.2m-8.6-7.8v15.6M1645.3 152.8h17.2m-8.6-7.8v15.6M1646.2 154.8h17.2m-8.6-7.8v15.6M1646.7 155.9h17.2m-8.6-7.8v15.6M1647.5 158.6h17.2m-8.6-7.8v15.6M1648.2 161.1h17.2m-8.6-7.8v15.6M1649.0 164.4h17.2m-8.6-7.8v15.6M1649.6 164.5h17.2m-8.6-7.8v15.6M1650.3 165.5h17.2m-8.6-7.8v15.6M1651.0 168.0h17.2m-8.6-7.8v15.6M1651.2 170.2h17.2m-8.6-7.8v15.6M1651.9 154.9h17.2m-8.6-7.8v15.6M1652.6 146.1h17.2m-8.6-7.8v15.6M1653.2 136.3h17.2m-8.6-7.8v15.6M1654.0 473.6h17.2m-8.6-7.8v15.6M1654.1 471.7h17.2m-8.6-7.8v15.6M1654.6 467.9h17.2m-8.6-7.8v15.6M1655.5 464.2h17.2m-8.6-7.8v15.6M1656.2 462.4h17.2m-8.6-7.8v15.6M1656.8 459.8h17.2m-8.6-7.8v15.6M1657.5 458.4h17.2m-8.6-7.8v15.6M1658.2 455.0h17.2m-8.6-7.8v15.6M1658.9 453.8h17.2m-8.6-7.8v15.6M1659.7 451.3h17.2m-8.6-7.8v15.6M1660.3 449.5h17.2m-8.6-7.8v15.6M1661.1 447.8h17.2m-8.6-7.8v15.6M1661.8 446.7h17.2m-8.6-7.8v15.6M1662.5 444.0h17.2m-8.6-7.8v15.6M1663.1 442.5h17.2m-8.6-7.8v15.6M1663.9 440.1h17.2m-8.6-7.8v15.6M1664.5 438.6h17.2m-8.6-7.8v15.6M1664.7 439.1h17.2m-8.6-7.8v15.6M1665.5 448.2h17.2m-8.6-7.8v15.6M1666.1 458.5h17.2m-8.6-7.8v15.6M1666.9 474.4h17.2m-8.6-7.8v15.6M1667.5 136.9h17.2m-8.6-7.8v15.6M1667.5 137.1h17.2m-8.6-7.8v15.6M1668.3 141.4h17.2m-8.6-7.8v15.6M1668.9 144.7h17.2m-8.6-7.8v15.6M1669.7 147.3h17.2m-8.6-7.8v15.6M1670.3 149.5h17.2m-8.6-7.8v15.6M1671.1 153.3h17.2m-8.6-7.8v15.6M1671.8 155.1h17.2m-8.6-7.8v15.6M1672.4 156.6h17.2m-8.6-7.8v15.6M1673.1 159.1h17.2m-8.6-7.8v15.6M1673.9 161.7h17.2m-8.6-7.8v15.6M1674.6 163.5h17.2m-8.6-7.8v15.6M1675.4 166.5h17.2m-8.6-7.8v15.6M1676.1 168.2h17.2m-8.6-7.8v15.6M1676.8 170.8h17.2m-8.6-7.8v15.6M1677.5 171.6h17.2m-8.6-7.8v15.6M1678.1 174.4h17.2m-8.6-7.8v15.6M1678.5 171.3h17.2m-8.6-7.8v15.6M1679.1 163.6h17.2m-8.6-7.8v15.6M1679.8 148.5h17.2m-8.6-7.8v15.6M1680.6 134.6h17.2m-8.6-7.8v15.6M1681.1 474.4h17.2m-8.6-7.8v15.6M1681.2 471.4h17.2m-8.6-7.8v15.6M1681.9 466.6h17.2m-8.6-7.8v15.6M1682.8 463.4h17.2m-8.6-7.8v15.6M1683.5 460.9h17.2m-8.6-7.8v15.6M1684.2 457.5h17.2m-8.6-7.8v15.6M1685.0 455.6h17.2m-8.6-7.8v15.6M1685.7 453.5h17.2m-8.6-7.8v15.6M1686.5 450.2h17.2m-8.6-7.8v15.6M1687.3 448.3h17.2m-8.6-7.8v15.6M1688.0 445.0h17.2m-8.6-7.8v15.6M1688.8 443.2h17.2m-8.6-7.8v15.6M1689.5 441.7h17.2m-8.6-7.8v15.6M1690.2 439.4h17.2m-8.6-7.8v15.6M1691.0 438.1h17.2m-8.6-7.8v15.6M1691.3 438.3h17.2m-8.6-7.8v15.6M1691.9 446.7h17.2m-8.6-7.8v15.6M1692.6 459.4h17.2m-8.6-7.8v15.6M1693.3 469.5h17.2m-8.6-7.8v15.6M1694.0 134.2h17.2m-8.6-7.8v15.6M1694.0 137.4h17.2m-8.6-7.8v15.6M1694.8 141.2h17.2m-8.6-7.8v15.6M1695.5 146.5h17.2m-8.6-7.8v15.6M1696.3 149.0h17.2m-8.6-7.8v15.6M1697.3 152.6h17.2m-8.6-7.8v15.6M1698.0 154.9h17.2m-8.6-7.8v15.6M1698.9 158.9h17.2m-8.6-7.8v15.6M1699.6 159.5h17.2m-8.6-7.8v15.6M1700.3 163.3h17.2m-8.6-7.8v15.6M1701.2 166.0h17.2m-8.6-7.8v15.6M1701.9 167.9h17.2m-8.6-7.8v15.6M1702.9 171.3h17.2m-8.6-7.8v15.6M1703.5 172.8h17.2m-8.6-7.8v15.6M1704.4 175.4h17.2m-8.6-7.8v15.6M1705.3 177.5h17.2m-8.6-7.8v15.6M1706.0 180.4h17.2m-8.6-7.8v15.6M1706.8 182.8h17.2m-8.6-7.8v15.6M1707.6 184.9h17.2m-8.6-7.8v15.6M1707.8 184.1h17.2m-8.6-7.8v15.6M1708.4 172.8h17.2m-8.6-7.8v15.6M1709.2 154.2h17.2m-8.6-7.8v15.6M1709.9 141.1h17.2m-8.6-7.8v15.6M1710.6 471.7h17.2m-8.6-7.8v15.6M1710.7 470.9h17.2m-8.6-7.8v15.6M1711.5 466.7h17.2m-8.6-7.8v15.6M1712.4 462.0h17.2m-8.6-7.8v15.6M1713.3 459.0h17.2m-8.6-7.8v15.6M1714.0 456.6h17.2m-8.6-7.8v15.6M1715.1 452.2h17.2m-8.6-7.8v15.6M1715.9 449.7h17.2m-8.6-7.8v15.6M1716.7 447.3h17.2m-8.6-7.8v15.6M1717.5 444.4h17.2m-8.6-7.8v15.6M1718.4 441.4h17.2m-8.6-7.8v15.6M1719.3 437.8h17.2m-8.6-7.8v15.6M1720.2 436.5h17.2m-8.6-7.8v15.6M1720.4 440.6h17.2m-8.6-7.8v15.6M1721.2 449.8h17.2m-8.6-7.8v15.6M1721.8 460.1h17.2m-8.6-7.8v15.6M1722.6 474.0h17.2m-8.6-7.8v15.6M1723.2 135.9h17.2m-8.6-7.8v15.6M1723.3 139.3h17.2m-8.6-7.8v15.6M1724.0 145.7h17.2m-8.6-7.8v15.6M1724.9 153.4h17.2m-8.6-7.8v15.6M1725.8 158.4h17.2m-8.6-7.8v15.6M1726.5 163.4h17.2m-8.6-7.8v15.6M1727.5 170.7h17.2m-8.6-7.8v15.6M1728.3 173.8h17.2m-8.6-7.8v15.6M1729.1 179.1h17.2m-8.6-7.8v15.6M1730.0 185.5h17.2m-8.6-7.8v15.6M1731.0 189.9h17.2m-8.6-7.8v15.6M1731.8 194.1h17.2m-8.6-7.8v15.6M1732.6 197.5h17.2m-8.6-7.8v15.6M1733.5 203.2h17.2m-8.6-7.8v15.6M1733.8 198.4h17.2m-8.6-7.8v15.6M1734.4 183.2h17.2m-8.6-7.8v15.6M1735.1 165.0h17.2m-8.6-7.8v15.6M1735.7 146.6h17.2m-8.6-7.8v15.6M1736.4 473.2h17.2m-8.6-7.8v15.6M1736.5 471.3h17.2m-8.6-7.8v15.6M1737.3 466.2h17.2m-8.6-7.8v15.6M1738.2 461.8h17.2m-8.6-7.8v15.6M1739.0 459.1h17.2m-8.6-7.8v15.6M1739.7 456.5h17.2m-8.6-7.8v15.6M1740.6 452.5h17.2m-8.6-7.8v15.6M1741.3 451.3h17.2m-8.6-7.8v15.6M1742.2 448.1h17.2m-8.6-7.8v15.6M1743.1 444.8h17.2m-8.6-7.8v15.6M1743.8 443.0h17.2m-8.6-7.8v15.6M1744.7 439.7h17.2m-8.6-7.8v15.6M1745.5 437.3h17.2m-8.6-7.8v15.6M1746.3 434.7h17.2m-8.6-7.8v15.6M1747.0 433.2h17.2m-8.6-7.8v15.6M1747.3 432.5h17.2m-8.6-7.8v15.6M1747.9 443.2h17.2m-8.6-7.8v15.6M1748.8 461.6h17.2m-8.6-7.8v15.6M1749.4 470.9h17.2m-8.6-7.8v15.6M1750.1 138.8h17.2m-8.6-7.8v15.6M1750.1 137.5h17.2m-8.6-7.8v15.6M1750.9 143.9h17.2m-8.6-7.8v15.6M1751.9 151.2h17.2m-8.6-7.8v15.6M1752.6 156.1h17.2m-8.6-7.8v15.6M1753.5 161.3h17.2m-8.6-7.8v15.6M1754.3 165.1h17.2m-8.6-7.8v15.6M1755.3 170.2h17.2m-8.6-7.8v15.6M1756.1 173.8h17.2m-8.6-7.8v15.6M1756.9 178.8h17.2m-8.6-7.8v15.6M1757.9 183.0h17.2m-8.6-7.8v15.6M1758.6 186.8h17.2m-8.6-7.8v15.6M1759.5 190.9h17.2m-8.6-7.8v15.6M1760.4 194.2h17.2m-8.6-7.8v15.6M1760.6 197.7h17.2m-8.6-7.8v15.6M1761.3 177.2h17.2m-8.6-7.8v15.6M1762.0 159.0h17.2m-8.6-7.8v15.6M1762.7 144.8h17.2m-8.6-7.8v15.6M1763.4 474.8h17.2m-8.6-7.8v15.6M1763.4 471.1h17.2m-8.6-7.8v15.6M1764.2 466.9h17.2m-8.6-7.8v15.6M1765.0 462.0h17.2m-8.6-7.8v15.6M1765.9 457.5h17.2m-8.6-7.8v15.6M1766.9 454.4h17.2m-8.6-7.8v15.6M1767.7 449.9h17.2m-8.6-7.8v15.6M1768.5 448.4h17.2m-8.6-7.8v15.6M1769.3 445.6h17.2m-8.6-7.8v15.6M1770.3 441.2h17.2m-8.6-7.8v15.6M1771.2 438.1h17.2m-8.6-7.8v15.6M1772.0 435.2h17.2m-8.6-7.8v15.6M1772.9 432.4h17.2m-8.6-7.8v15.6M1773.7 430.6h17.2m-8.6-7.8v15.6M1774.5 427.9h17.2m-8.6-7.8v15.6M1774.7 425.6h17.2m-8.6-7.8v15.6M1775.4 444.5h17.2m-8.6-7.8v15.6M1776.0 450.4h17.2m-8.6-7.8v15.6M1776.8 467.4h17.2m-8.6-7.8v15.6M1777.5 137.8h17.2m-8.6-7.8v15.6M1777.5 137.2h17.2m-8.6-7.8v15.6M1778.4 144.9h17.2m-8.6-7.8v15.6M1779.1 148.9h17.2m-8.6-7.8v15.6M1779.9 154.2h17.2m-8.6-7.8v15.6M1780.7 157.3h17.2m-8.6-7.8v15.6M1781.5 162.9h17.2m-8.6-7.8v15.6M1782.3 166.5h17.2m-8.6-7.8v15.6M1783.1 170.1h17.2m-8.6-7.8v15.6M1783.8 174.1h17.2m-8.6-7.8v15.6M1784.7 178.5h17.2m-8.6-7.8v15.6M1785.5 181.8h17.2m-8.6-7.8v15.6M1786.4 185.1h17.2m-8.6-7.8v15.6M1787.2 189.1h17.2m-8.6-7.8v15.6M1787.9 191.8h17.2m-8.6-7.8v15.6M1788.6 194.8h17.2m-8.6-7.8v15.6M1789.0 193.8h17.2m-8.6-7.8v15.6M1789.6 181.3h17.2m-8.6-7.8v15.6M1790.2 158.0h17.2m-8.6-7.8v15.6M1791.0 142.4h17.2m-8.6-7.8v15.6M1791.7 471.8h17.2m-8.6-7.8v15.6M1791.7 470.9h17.2m-8.6-7.8v15.6M1792.6 465.5h17.2m-8.6-7.8v15.6M1793.3 462.8h17.2m-8.6-7.8v15.6M1794.3 458.1h17.2m-8.6-7.8v15.6M1795.1 455.0h17.2m-8.6-7.8v15.6M1795.9 452.4h17.2m-8.6-7.8v15.6M1796.7 449.2h17.2m-8.6-7.8v15.6M1797.5 446.9h17.2m-8.6-7.8v15.6M1798.4 442.4h17.2m-8.6-7.8v15.6M1799.1 441.3h17.2m-8.6-7.8v15.6M1800.0 437.7h17.2m-8.6-7.8v15.6M1800.7 436.4h17.2m-8.6-7.8v15.6M1801.5 432.6h17.2m-8.6-7.8v15.6M1802.3 430.4h17.2m-8.6-7.8v15.6M1802.6 432.1h17.2m-8.6-7.8v15.6M1803.2 438.3h17.2m-8.6-7.8v15.6M1804.0 457.5h17.2m-8.6-7.8v15.6M1804.7 470.7h17.2m-8.6-7.8v15.6M1805.4 136.6h17.2m-8.6-7.8v15.6M1805.4 137.1h17.2m-8.6-7.8v15.6M1806.2 143.8h17.2m-8.6-7.8v15.6M1807.0 149.6h17.2m-8.6-7.8v15.6M1807.8 153.4h17.2m-8.6-7.8v15.6M1808.8 158.6h17.2m-8.6-7.8v15.6M1809.6 162.8h17.2m-8.6-7.8v15.6M1810.3 166.5h17.2m-8.6-7.8v15.6M1811.2 170.1h17.2m-8.6-7.8v15.6M1812.0 174.5h17.2m-8.6-7.8v15.6M1812.9 177.9h17.2m-8.6-7.8v15.6M1813.7 182.2h17.2m-8.6-7.8v15.6M1814.4 184.5h17.2m-8.6-7.8v15.6M1815.3 187.7h17.2m-8.6-7.8v15.6M1815.5 190.8h17.2m-8.6-7.8v15.6M1816.2 171.1h17.2m-8.6-7.8v15.6M1816.9 156.8h17.2m-8.6-7.8v15.6M1817.6 143.9h17.2m-8.6-7.8v15.6M1818.3 469.0h17.2m-8.6-7.8v15.6M1818.4 471.2h17.2m-8.6-7.8v15.6M1819.0 467.9h17.2m-8.6-7.8v15.6M1819.9 464.3h17.2m-8.6-7.8v15.6M1820.7 461.9h17.2m-8.6-7.8v15.6M1821.4 459.1h17.2m-8.6-7.8v15.6M1822.2 456.6h17.2m-8.6-7.8v15.6M1823.1 454.4h17.2m-8.6-7.8v15.6M1823.9 451.3h17.2m-8.6-7.8v15.6M1824.7 449.8h17.2m-8.6-7.8v15.6M1825.4 448.0h17.2m-8.6-7.8v15.6M1826.3 445.2h17.2m-8.6-7.8v15.6M1826.9 444.2h17.2m-8.6-7.8v15.6M1827.9 441.6h17.2m-8.6-7.8v15.6M1828.5 439.8h17.2m-8.6-7.8v15.6M1829.4 438.4h17.2m-8.6-7.8v15.6M1829.6 433.5h17.2m-8.6-7.8v15.6M1830.4 449.5h17.2m-8.6-7.8v15.6M1831.0 461.1h17.2m-8.6-7.8v15.6M1831.7 130.1h17.2m-8.6-7.8v15.6M1832.4 134.6h17.2m-8.6-7.8v15.6M1832.4 136.9h17.2m-8.6-7.8v15.6M1833.1 144.2h17.2m-8.6-7.8v15.6M1834.1 151.0h17.2m-8.6-7.8v15.6M1834.9 155.1h17.2m-8.6-7.8v15.6M1835.6 159.1h17.2m-8.6-7.8v15.6M1836.4 163.7h17.2m-8.6-7.8v15.6M1837.2 168.7h17.2m-8.6-7.8v15.6M1837.9 171.9h17.2m-8.6-7.8v15.6M1838.7 176.2h17.2m-8.6-7.8v15.6M1839.6 180.4h17.2m-8.6-7.8v15.6M1840.3 183.6h17.2m-8.6-7.8v15.6M1841.0 187.1h17.2m-8.6-7.8v15.6M1841.8 190.7h17.2m-8.6-7.8v15.6M1842.7 194.5h17.2m-8.6-7.8v15.6M1842.9 192.3h17.2m-8.6-7.8v15.6M1843.6 178.7h17.2m-8.6-7.8v15.6M1844.3 158.7h17.2m-8.6-7.8v15.6M1845.1 137.9h17.2m-8.6-7.8v15.6M1845.6 472.7h17.2m-8.6-7.8v15.6M1845.7 471.9h17.2m-8.6-7.8v15.6M1846.6 466.0h17.2m-8.6-7.8v15.6M1847.4 462.4h17.2m-8.6-7.8v15.6M1848.1 459.4h17.2m-8.6-7.8v15.6M1849.0 456.3h17.2m-8.6-7.8v15.6M1849.9 452.4h17.2m-8.6-7.8v15.6M1850.7 449.5h17.2m-8.6-7.8v15.6M1851.5 446.9h17.2m-8.6-7.8v15.6M1852.4 443.2h17.2m-8.6-7.8v15.6M1853.3 440.6h17.2m-8.6-7.8v15.6M1853.9 438.6h17.2m-8.6-7.8v15.6M1854.8 435.5h17.2m-8.6-7.8v15.6M1855.7 433.5h17.2m-8.6-7.8v15.6M1856.5 431.3h17.2m-8.6-7.8v15.6M1856.7 431.4h17.2m-8.6-7.8v15.6M1857.4 446.9h17.2m-8.6-7.8v15.6M1858.1 457.2h17.2m-8.6-7.8v15.6M1858.9 469.0h17.2m-8.6-7.8v15.6M1859.5 134.9h17.2m-8.6-7.8v15.6M1859.5 137.3h17.2m-8.6-7.8v15.6M1860.2 145.0h17.2m-8.6-7.8v15.6M1860.9 151.2h17.2m-8.6-7.8v15.6M1861.7 156.2h17.2m-8.6-7.8v15.6M1862.4 161.9h17.2m-8.6-7.8v15.6M1863.1 165.6h17.2m-8.6-7.8v15.6M1863.7 170.4h17.2m-8.6-7.8v15.6M1864.5 174.4h17.2m-8.6-7.8v15.6M1864.7 173.9h17.2m-8.6-7.8v15.6M1865.3 160.9h17.2m-8.6-7.8v15.6M1865.8 153.7h17.2m-8.6-7.8v15.6M1866.4 146.4h17.2m-8.6-7.8v15.6M1867.0 139.0h17.2m-8.6-7.8v15.6M1867.5 472.3h17.2m-8.6-7.8v15.6M1867.5 472.3h17.2m-8.6-7.8v15.6M1868.2 465.0h17.2m-8.6-7.8v15.6M1868.7 460.8h17.2m-8.6-7.8v15.6M1869.5 456.1h17.2m-8.6-7.8v15.6M1870.1 452.8h17.2m-8.6-7.8v15.6M1870.6 449.9h17.2m-8.6-7.8v15.6M1871.2 446.1h17.2m-8.6-7.8v15.6M1871.9 442.5h17.2m-8.6-7.8v15.6M1872.1 444.0h17.2m-8.6-7.8v15.6M1872.7 449.5h17.2m-8.6-7.8v15.6M1873.2 451.3h17.2m-8.6-7.8v15.6M1873.8 464.5h17.2m-8.6-7.8v15.6M1874.3 130.2h17.2m-8.6-7.8v15.6M1874.9 134.6h17.2m-8.6-7.8v15.6M1874.9 138.1h17.2m-8.6-7.8v15.6M1875.4 142.9h17.2m-8.6-7.8v15.6M1876.1 146.7h17.2m-8.6-7.8v15.6M1876.7 151.5h17.2m-8.6-7.8v15.6M1877.2 155.0h17.2m-8.6-7.8v15.6M1877.8 158.5h17.2m-8.6-7.8v15.6M1878.4 162.0h17.2m-8.6-7.8v15.6M1879.0 165.9h17.2m-8.6-7.8v15.6M1879.5 168.4h17.2m-8.6-7.8v15.6M1880.0 170.8h17.2m-8.6-7.8v15.6M1880.3 169.8h17.2m-8.6-7.8v15.6M1880.9 161.4h17.2m-8.6-7.8v15.6M1881.5 150.4h17.2m-8.6-7.8v15.6M1881.9 145.1h17.2m-8.6-7.8v15.6M1882.6 131.5h17.2m-8.6-7.8v15.6M1883.1 470.8h17.2m-8.6-7.8v15.6M1883.1 471.8h17.2m-8.6-7.8v15.6M1883.6 467.3h17.2m-8.6-7.8v15.6M1884.2 463.0h17.2m-8.6-7.8v15.6M1884.7 460.1h17.2m-8.6-7.8v15.6M1885.2 456.4h17.2m-8.6-7.8v15.6M1885.8 453.9h17.2m-8.6-7.8v15.6M1886.3 451.5h17.2m-8.6-7.8v15.6M1886.9 448.5h17.2m-8.6-7.8v15.6M1887.4 445.6h17.2m-8.6-7.8v15.6M1887.9 443.3h17.2m-8.6-7.8v15.6M1888.1 439.6h17.2m-8.6-7.8v15.6M1888.6 449.2h17.2m-8.6-7.8v15.6M1889.0 457.6h17.2m-8.6-7.8v15.6M1889.5 467.7h17.2m-8.6-7.8v15.6M1890.0 471.8h17.2m-8.6-7.8v15.6M1890.4 474.6h17.2m-8.6-7.8v15.6M1890.9 138.1h17.2m-8.6-7.8v15.6M1890.9 137.4h17.2m-8.6-7.8v15.6M1891.4 143.0h17.2m-8.6-7.8v15.6M1891.9 145.8h17.2m-8.6-7.8v15.6M1892.4 149.3h17.2m-8.6-7.8v15.6M1892.9 152.1h17.2m-8.6-7.8v15.6M1893.5 156.2h17.2m-8.6-7.8v15.6M1893.9 158.9h17.2m-8.6-7.8v15.6M1894.5 161.6h17.2m-8.6-7.8v15.6M1895.0 164.8h17.2m-8.6-7.8v15.6M1895.5 167.2h17.2m-8.6-7.8v15.6M1895.8 164.3h17.2m-8.6-7.8v15.6M1896.2 157.1h17.2m-8.6-7.8v15.6M1896.7 155.0h17.2m-8.6-7.8v15.6M1897.1 146.1h17.2m-8.6-7.8v15.6M1897.6 144.3h17.2m-8.6-7.8v15.6M1898.0 475.3h17.2m-8.6-7.8v15.6M1898.5 468.7h17.2m-8.6-7.8v15.6M1898.5 471.9h17.2m-8.6-7.8v15.6M1899.0 467.3h17.2m-8.6-7.8v15.6M1899.4 463.6h17.2m-8.6-7.8v15.6M1900.0 460.6h17.2m-8.6-7.8v15.6M1900.4 457.4h17.2m-8.6-7.8v15.6M1900.9 453.6h17.2m-8.6-7.8v15.6M1901.4 451.8h17.2m-8.6-7.8v15.6M1901.8 449.2h17.2m-8.6-7.8v15.6M1902.3 446.7h17.2m-8.6-7.8v15.6M1902.9 444.6h17.2m-8.6-7.8v15.6M1903.3 442.1h17.2m-8.6-7.8v15.6M1903.8 439.9h17.2m-8.6-7.8v15.6M1904.0 438.7h17.2m-8.6-7.8v15.6M1904.4 445.3h17.2m-8.6-7.8v15.6M1904.8 451.8h17.2m-8.6-7.8v15.6M1905.2 459.8h17.2m-8.6-7.8v15.6M1905.6 466.7h17.2m-8.6-7.8v15.6M1906.0 469.2h17.2m-8.6-7.8v15.6M1906.4 130.1h17.2m-8.6-7.8v15.6M1906.8 130.0h17.2m-8.6-7.8v15.6M1906.8 136.9h17.2m-8.6-7.8v15.6M1907.3 141.5h17.2m-8.6-7.8v15.6M1907.8 144.7h17.2m-8.6-7.8v15.6M1908.3 149.1h17.2m-8.6-7.8v15.6M1908.7 150.9h17.2m-8.6-7.8v15.6M1909.2 152.4h17.2m-8.6-7.8v15.6M1909.7 156.8h17.2m-8.6-7.8v15.6M1910.1 158.9h17.2m-8.6-7.8v15.6M1910.6 161.1h17.2m-8.6-7.8v15.6M1911.0 162.7h17.2m-8.6-7.8v15.6M1911.3 163.5h17.2m-8.6-7.8v15.6M1911.7 155.9h17.2m-8.6-7.8v15.6M1912.1 153.1h17.2m-8.6-7.8v15.6M1912.5 151.4h17.2m-8.6-7.8v15.6M1912.9 142.1h17.2m-8.6-7.8v15.6M1913.3 138.1h17.2m-8.6-7.8v15.6M1913.7 134.1h17.2m-8.6-7.8v15.6M1914.1 466.8h17.2m-8.6-7.8v15.6M1914.1 471.1h17.2m-8.6-7.8v15.6M1914.6 467.3h17.2m-8.6-7.8v15.6M1915.0 464.6h17.2m-8.6-7.8v15.6M1915.5 461.4h17.2m-8.6-7.8v15.6M1916.0 458.7h17.2m-8.6-7.8v15.6M1916.4 456.3h17.2m-8.6-7.8v15.6M1916.8 454.6h17.2m-8.6-7.8v15.6M1917.4 451.9h17.2m-8.6-7.8v15.6M1917.7 449.0h17.2m-8.6-7.8v15.6M1918.3 447.1h17.2m-8.6-7.8v15.6M1918.7 445.1h17.2m-8.6-7.8v15.6M1918.9 444.7h17.2m-8.6-7.8v15.6M1919.3 449.2h17.2m-8.6-7.8v15.6M1919.7 457.5h17.2m-8.6-7.8v15.6M1920.1 462.7h17.2m-8.6-7.8v15.6M1920.5 465.5h17.2m-8.6-7.8v15.6M1920.9 470.5h17.2m-8.6-7.8v15.6M1921.3 132.2h17.2m-8.6-7.8v15.6M1921.7 140.1h17.2m-8.6-7.8v15.6M1921.7 137.7h17.2m-8.6-7.8v15.6M1922.2 143.5h17.2m-8.6-7.8v15.6M1922.6 146.1h17.2m-8.6-7.8v15.6M1923.0 150.0h17.2m-8.6-7.8v15.6M1923.6 153.3h17.2m-8.6-7.8v15.6M1924.0 157.6h17.2m-8.6-7.8v15.6M1924.5 160.4h17.2m-8.6-7.8v15.6M1924.9 162.4h17.2m-8.6-7.8v15.6M1925.3 165.4h17.2m-8.6-7.8v15.6M1925.8 169.1h17.2m-8.6-7.8v15.6M1926.3 172.0h17.2m-8.6-7.8v15.6M1926.5 168.4h17.2m-8.6-7.8v15.6M1926.9 164.4h17.2m-8.6-7.8v15.6M1927.3 164.1h17.2m-8.6-7.8v15.6M1927.7 150.9h17.2m-8.6-7.8v15.6M1928.1 149.8h17.2m-8.6-7.8v15.6M1928.5 136.3h17.2m-8.6-7.8v15.6M1928.9 131.9h17.2m-8.6-7.8v15.6M1929.3 466.5h17.2m-8.6-7.8v15.6M1929.3 471.6h17.2m-8.6-7.8v15.6M1929.7 467.9h17.2m-8.6-7.8v15.6M1930.1 465.9h17.2m-8.6-7.8v15.6M1930.6 464.3h17.2m-8.6-7.8v15.6M1931.1 460.5h17.2m-8.6-7.8v15.6M1931.5 458.7h17.2m-8.6-7.8v15.6M1931.9 456.4h17.2m-8.6-7.8v15.6M1932.4 454.4h17.2m-8.6-7.8v15.6M1932.8 452.8h17.2m-8.6-7.8v15.6M1933.3 451.0h17.2m-8.6-7.8v15.6M1933.7 448.6h17.2m-8.6-7.8v15.6M1934.1 447.4h17.2m-8.6-7.8v15.6M1934.6 445.4h17.2m-8.6-7.8v15.6M1934.8 445.8h17.2m-8.6-7.8v15.6M1935.2 451.5h17.2m-8.6-7.8v15.6M1935.6 453.1h17.2m-8.6-7.8v15.6M1936.0 464.0h17.2m-8.6-7.8v15.6M1936.4 462.3h17.2m-8.6-7.8v15.6M1936.8 475.0h17.2m-8.6-7.8v15.6M1937.2 129.8h17.2m-8.6-7.8v15.6M1937.6 132.5h17.2m-8.6-7.8v15.6M1937.7 138.9h17.2m-8.6-7.8v15.6M1938.0 144.2h17.2m-8.6-7.8v15.6M1938.4 148.2h17.2m-8.6-7.8v15.6M1938.8 152.2h17.2m-8.6-7.8v15.6M1939.3 157.3h17.2m-8.6-7.8v15.6M1939.7 160.9h17.2m-8.6-7.8v15.6M1940.1 165.2h17.2m-8.6-7.8v15.6M1940.5 168.5h17.2m-8.6-7.8v15.6M1941.0 171.6h17.2m-8.6-7.8v15.6M1941.3 175.7h17.2m-8.6-7.8v15.6M1941.8 179.0h17.2m-8.6-7.8v15.6M1942.2 181.9h17.2m-8.6-7.8v15.6M1942.4 185.1h17.2m-8.6-7.8v15.6M1942.7 176.6h17.2m-8.6-7.8v15.6M1943.1 166.2h17.2m-8.6-7.8v15.6M1943.4 164.8h17.2m-8.6-7.8v15.6M1943.8 150.8h17.2m-8.6-7.8v15.6M1944.1 151.4h17.2m-8.6-7.8v15.6M1944.5 140.5h17.2m-8.6-7.8v15.6M1944.9 134.4h17.2m-8.6-7.8v15.6M1945.2 131.8h17.2m-8.6-7.8v15.6M1945.2 470.9h17.2m-8.6-7.8v15.6M1945.5 468.8h17.2m-8.6-7.8v15.6M1946.0 467.0h17.2m-8.6-7.8v15.6M1946.4 464.6h17.2m-8.6-7.8v15.6M1946.8 462.4h17.2m-8.6-7.8v15.6M1947.1 461.6h17.2m-8.6-7.8v15.6M1947.6 459.1h17.2m-8.6-7.8v15.6M1948.0 457.8h17.2m-8.6-7.8v15.6M1948.4 456.3h17.2m-8.6-7.8v15.6M1948.8 455.1h17.2m-8.6-7.8v15.6M1949.1 454.2h17.2m-8.6-7.8v15.6M1949.5 452.3h17.2m-8.6-7.8v15.6M1949.9 450.1h17.2m-8.6-7.8v15.6M1950.4 449.9h17.2m-8.6-7.8v15.6M1950.7 447.7h17.2m-8.6-7.8v15.6M1951.1 447.1h17.2m-8.6-7.8v15.6M1951.3 443.3h17.2m-8.6-7.8v15.6M1951.7 450.8h17.2m-8.6-7.8v15.6M1952.0 460.4h17.2m-8.6-7.8v15.6M1952.3 457.0h17.2m-8.6-7.8v15.6M1952.7 465.9h17.2m-8.6-7.8v15.6M1953.1 468.2h17.2m-8.6-7.8v15.6M1953.4 129.5h17.2m-8.6-7.8v15.6M1953.7 135.1h17.2m-8.6-7.8v15.6M1954.1 141.2h17.2m-8.6-7.8v15.6M1954.1 137.3h17.2m-8.6-7.8v15.6M1954.5 142.0h17.2m-8.6-7.8v15.6M1954.9 146.4h17.2m-8.6-7.8v15.6M1955.2 150.9h17.2m-8.6-7.8v15.6M1955.6 153.8h17.2m-8.6-7.8v15.6M1956.0 156.6h17.2m-8.6-7.8v15.6M1956.3 160.4h17.2m-8.6-7.8v15.6M1956.7 162.7h17.2m-8.6-7.8v15.6M1957.1 165.4h17.2m-8.6-7.8v15.6M1957.4 167.4h17.2m-8.6-7.8v15.6M1957.9 169.9h17.2m-8.6-7.8v15.6M1958.2 173.3h17.2m-8.6-7.8v15.6M1958.4 173.8h17.2m-8.6-7.8v15.6M1958.7 169.9h17.2m-8.6-7.8v15.6M1959.1 159.2h17.2m-8.6-7.8v15.6M1959.4 158.5h17.2m-8.6-7.8v15.6M1959.8 149.1h17.2m-8.6-7.8v15.6M1960.2 137.0h17.2m-8.6-7.8v15.6M1960.5 137.5h17.2m-8.6-7.8v15.6M1960.8 475.0h17.2m-8.6-7.8v15.6M1961.2 471.7h17.2m-8.6-7.8v15.6M1961.2 471.6h17.2m-8.6-7.8v15.6M1961.5 470.2h17.2m-8.6-7.8v15.6M1961.9 467.7h17.2m-8.6-7.8v15.6M1962.3 465.1h17.2m-8.6-7.8v15.6M1962.7 464.9h17.2m-8.6-7.8v15.6M1963.1 463.8h17.2m-8.6-7.8v15.6M1963.5 461.7h17.2m-8.6-7.8v15.6M1963.8 460.3h17.2m-8.6-7.8v15.6M1964.2 460.0h17.2m-8.6-7.8v15.6M1964.5 457.1h17.2m-8.6-7.8v15.6M1964.9 456.8h17.2m-8.6-7.8v15.6M1965.3 455.1h17.2m-8.6-7.8v15.6M1965.6 453.9h17.2m-8.6-7.8v15.6M1966.0 453.1h17.2m-8.6-7.8v15.6M1966.2 451.1h17.2m-8.6-7.8v15.6M1966.5 460.7h17.2m-8.6-7.8v15.6M1966.8 460.1h17.2m-8.6-7.8v15.6M1967.1 460.2h17.2m-8.6-7.8v15.6M1967.4 465.3h17.2m-8.6-7.8v15.6M1967.7 468.6h17.2m-8.6-7.8v15.6M1968.0 474.5h17.2m-8.6-7.8v15.6M1968.4 130.2h17.2m-8.6-7.8v15.6M1968.7 132.1h17.2m-8.6-7.8v15.6M1969.0 138.5h17.2m-8.6-7.8v15.6M1969.0 136.9h17.2m-8.6-7.8v15.6M1969.4 145.8h17.2m-8.6-7.8v15.6M1969.7 151.0h17.2m-8.6-7.8v15.6M1970.0 156.9h17.2m-8.6-7.8v15.6M1970.4 162.3h17.2m-8.6-7.8v15.6M1970.6 161.8h17.2m-8.6-7.8v15.6M1970.9 158.0h17.2m-8.6-7.8v15.6M1971.2 153.9h17.2m-8.6-7.8v15.6M1971.6 146.5h17.2m-8.6-7.8v15.6M1971.9 144.0h17.2m-8.6-7.8v15.6M1972.1 142.5h17.2m-8.6-7.8v15.6M1972.4 144.6h17.2m-8.6-7.8v15.6M1972.7 474.6h17.2m-8.6-7.8v15.6M1973.1 469.5h17.2m-8.6-7.8v15.6M1973.4 473.8h17.2m-8.6-7.8v15.6M1973.4 471.8h17.2m-8.6-7.8v15.6M1973.7 467.9h17.2m-8.6-7.8v15.6M1974.1 462.8h17.2m-8.6-7.8v15.6M1974.4 458.9h17.2m-8.6-7.8v15.6M1974.7 456.4h17.2m-8.6-7.8v15.6M1975.1 452.6h17.2m-8.6-7.8v15.6M1975.4 449.9h17.2m-8.6-7.8v15.6M1975.6 445.8h17.2m-8.6-7.8v15.6M1975.9 456.5h17.2m-8.6-7.8v15.6M1976.2 461.4h17.2m-8.6-7.8v15.6M1976.6 459.6h17.2m-8.6-7.8v15.6M1976.8 461.8h17.2m-8.6-7.8v15.6M1977.1 465.4h17.2m-8.6-7.8v15.6M1977.5 467.3h17.2m-8.6-7.8v15.6M1977.8 131.6h17.2m-8.6-7.8v15.6M1978.1 134.0h17.2m-8.6-7.8v15.6M1978.4 130.7h17.2m-8.6-7.8v15.6M1978.4 137.7h17.2m-8.6-7.8v15.6M1978.7 144.3h17.2m-8.6-7.8v15.6M1979.1 150.3h17.2m-8.6-7.8v15.6M1979.4 153.8h17.2m-8.6-7.8v15.6M1979.7 159.2h17.2m-8.6-7.8v15.6M1980.1 164.0h17.2m-8.6-7.8v15.6M1980.3 164.1h17.2m-8.6-7.8v15.6M1980.5 161.4h17.2m-8.6-7.8v15.6M1980.9 156.0h17.2m-8.6-7.8v15.6M1981.1 148.3h17.2m-8.6-7.8v15.6M1981.4 145.9h17.2m-8.6-7.8v15.6M1981.7 146.7h17.2m-8.6-7.8v15.6M1982.0 142.3h17.2m-8.6-7.8v15.6M1982.3 136.6h17.2m-8.6-7.8v15.6M1982.5 132.1h17.2m-8.6-7.8v15.6M1982.8 132.3h17.2m-8.6-7.8v15.6M1983.1 469.9h17.2m-8.6-7.8v15.6M1983.1 471.5h17.2m-8.6-7.8v15.6M1983.4 466.6h17.2m-8.6-7.8v15.6M1983.8 462.4h17.2m-8.6-7.8v15.6M1984.1 458.5h17.2m-8.6-7.8v15.6M1984.5 455.9h17.2m-8.6-7.8v15.6M1984.8 452.7h17.2m-8.6-7.8v15.6M1985.1 449.6h17.2m-8.6-7.8v15.6M1985.3 448.7h17.2m-8.6-7.8v15.6M1985.6 451.4h17.2m-8.6-7.8v15.6M1985.9 456.7h17.2m-8.6-7.8v15.6M1986.2 460.2h17.2m-8.6-7.8v15.6M1986.4 463.3h17.2m-8.6-7.8v15.6M1986.7 465.5h17.2m-8.6-7.8v15.6M1987.0 470.5h17.2m-8.6-7.8v15.6M1987.2 470.9h17.2m-8.6-7.8v15.6M1987.6 133.5h17.2m-8.6-7.8v15.6M1987.8 133.6h17.2m-8.6-7.8v15.6M1988.1 136.9h17.2m-8.6-7.8v15.6M1988.1 137.4h17.2m-8.6-7.8v15.6M1988.4 142.9h17.2m-8.6-7.8v15.6M1988.6 147.8h17.2m-8.6-7.8v15.6M1988.9 151.7h17.2m-8.6-7.8v15.6M1989.2 154.8h17.2m-8.6-7.8v15.6M1989.5 159.0h17.2m-8.6-7.8v15.6M1989.7 157.6h17.2m-8.6-7.8v15.6M1990.0 153.1h17.2m-8.6-7.8v15.6M1990.3 149.2h17.2m-8.6-7.8v15.6M1990.5 150.5h17.2m-8.6-7.8v15.6M1990.8 144.5h17.2m-8.6-7.8v15.6M1991.1 142.2h17.2m-8.6-7.8v15.6M1991.4 136.8h17.2m-8.6-7.8v15.6M1991.6 136.1h17.2m-8.6-7.8v15.6M1992.0 134.5h17.2m-8.6-7.8v15.6M1992.2 473.3h17.2m-8.6-7.8v15.6M1992.5 473.2h17.2m-8.6-7.8v15.6M1992.5 470.9h17.2m-8.6-7.8v15.6M1992.8 467.0h17.2m-8.6-7.8v15.6M1993.1 463.6h17.2m-8.6-7.8v15.6M1993.4 461.4h17.2m-8.6-7.8v15.6M1993.8 457.9h17.2m-8.6-7.8v15.6M1994.1 455.7h17.2m-8.6-7.8v15.6M1994.3 453.6h17.2m-8.6-7.8v15.6M1994.7 451.1h17.2m-8.6-7.8v15.6M1995.0 449.3h17.2m-8.6-7.8v15.6M1995.2 451.2h17.2m-8.6-7.8v15.6M1995.5 449.5h17.2m-8.6-7.8v15.6M1995.7 455.8h17.2m-8.6-7.8v15.6M1995.9 456.6h17.2m-8.6-7.8v15.6M1996.2 464.2h17.2m-8.6-7.8v15.6M1996.5 465.7h17.2m-8.6-7.8v15.6M1996.7 463.0h17.2m-8.6-7.8v15.6M1997.0 467.4h17.2m-8.6-7.8v15.6M1997.2 468.9h17.2m-8.6-7.8v15.6M1997.5 475.3h17.2m-8.6-7.8v15.6M1997.7 137.0h17.2m-8.6-7.8v15.6M1998.0 136.1h17.2m-8.6-7.8v15.6M1998.0 137.6h17.2m-8.6-7.8v15.6M1998.3 144.6h17.2m-8.6-7.8v15.6M1998.6 149.5h17.2m-8.6-7.8v15.6M1998.9 154.0h17.2m-8.6-7.8v15.6M1999.2 158.7h17.2m-8.6-7.8v15.6M1999.4 159.2h17.2m-8.6-7.8v15.6M1999.7 157.2h17.2m-8.6-7.8v15.6M1999.9 154.8h17.2m-8.6-7.8v15.6M2000.2 149.0h17.2m-8.6-7.8v15.6M2000.4 147.1h17.2m-8.6-7.8v15.6M2000.7 145.5h17.2m-8.6-7.8v15.6M2000.9 141.3h17.2m-8.6-7.8v15.6M2001.2 140.6h17.2m-8.6-7.8v15.6M2001.4 136.3h17.2m-8.6-7.8v15.6M2001.7 475.1h17.2m-8.6-7.8v15.6M2001.9 129.6h17.2m-8.6-7.8v15.6M2002.2 474.8h17.2m-8.6-7.8v15.6M2002.2 471.4h17.2m-8.6-7.8v15.6M2002.5 467.8h17.2m-8.6-7.8v15.6M2002.8 463.6h17.2m-8.6-7.8v15.6M2003.0 460.8h17.2m-8.6-7.8v15.6M2003.3 458.1h17.2m-8.6-7.8v15.6M2003.6 455.0h17.2m-8.6-7.8v15.6M2003.9 453.2h17.2m-8.6-7.8v15.6M2004.1 450.6h17.2m-8.6-7.8v15.6M2004.4 448.3h17.2m-8.6-7.8v15.6M2004.6 447.9h17.2m-8.6-7.8v15.6M2004.8 452.1h17.2m-8.6-7.8v15.6M2005.1 453.7h17.2m-8.6-7.8v15.6M2005.3 457.6h17.2m-8.6-7.8v15.6M2005.6 462.0h17.2m-8.6-7.8v15.6M2005.9 460.2h17.2m-8.6-7.8v15.6M2006.1 464.4h17.2m-8.6-7.8v15.6M2006.4 472.8h17.2m-8.6-7.8v15.6M2006.6 468.4h17.2m-8.6-7.8v15.6M2006.9 134.2h17.2m-8.6-7.8v15.6M2007.1 131.8h17.2m-8.6-7.8v15.6M2007.4 138.2h17.2m-8.6-7.8v15.6M2007.4 137.0h17.2m-8.6-7.8v15.6M2007.7 142.8h17.2m-8.6-7.8v15.6M2008.0 147.7h17.2m-8.6-7.8v15.6M2008.3 151.8h17.2m-8.6-7.8v15.6M2008.5 155.8h17.2m-8.6-7.8v15.6M2008.8 158.8h17.2m-8.6-7.8v15.6M2009.1 162.6h17.2m-8.6-7.8v15.6M2009.3 160.3h17.2m-8.6-7.8v15.6M2009.6 153.7h17.2m-8.6-7.8v15.6M2009.8 155.2h17.2m-8.6-7.8v15.6M2010.1 153.1h17.2m-8.6-7.8v15.6M2010.3 150.2h17.2m-8.6-7.8v15.6M2010.6 147.8h17.2m-8.6-7.8v15.6M2010.8 141.7h17.2m-8.6-7.8v15.6M2011.1 139.3h17.2m-8.6-7.8v15.6M2011.3 134.3h17.2m-8.6-7.8v15.6M2011.6 130.7h17.2m-8.6-7.8v15.6M2011.9 130.2h17.2m-8.6-7.8v15.6M2012.1 469.1h17.2m-8.6-7.8v15.6M2012.1 470.5h17.2m-8.6-7.8v15.6M2012.4 465.6h17.2m-8.6-7.8v15.6M2012.7 460.8h17.2m-8.6-7.8v15.6M2013.0 456.1h17.2m-8.6-7.8v15.6M2013.2 453.0h17.2m-8.6-7.8v15.6M2013.5 449.8h17.2m-8.6-7.8v15.6M2013.8 446.3h17.2m-8.6-7.8v15.6M2014.0 440.2h17.2m-8.6-7.8v15.6M2014.2 449.2h17.2m-8.6-7.8v15.6M2014.5 449.5h17.2m-8.6-7.8v15.6M2014.8 455.1h17.2m-8.6-7.8v15.6M2015.0 463.0h17.2m-8.6-7.8v15.6M2015.3 463.3h17.2m-8.6-7.8v15.6M2015.5 465.2h17.2m-8.6-7.8v15.6M2015.8 468.3h17.2m-8.6-7.8v15.6M2016.1 473.8h17.2m-8.6-7.8v15.6M2016.3 473.4h17.2m-8.6-7.8v15.6M2016.5 133.3h17.2m-8.6-7.8v15.6M2016.8 138.7h17.2m-8.6-7.8v15.6M2016.8 137.7h17.2m-8.6-7.8v15.6M2017.1 145.3h17.2m-8.6-7.8v15.6M2017.3 149.3h17.2m-8.6-7.8v15.6M2017.6 155.2h17.2m-8.6-7.8v15.6M2018.0 160.3h17.2m-8.6-7.8v15.6M2018.2 165.4h17.2m-8.6-7.8v15.6M2018.5 169.2h17.2m-8.6-7.8v15.6M2018.7 171.1h17.2m-8.6-7.8v15.6M2019.0 164.9h17.2m-8.6-7.8v15.6M2019.2 159.2h17.2m-8.6-7.8v15.6M2019.5 159.1h17.2m-8.6-7.8v15.6M2019.7 152.4h17.2m-8.6-7.8v15.6M2020.0 152.0h17.2m-8.6-7.8v15.6M2020.2 148.0h17.2m-8.6-7.8v15.6M2020.5 145.5h17.2m-8.6-7.8v15.6M2020.7 135.0h17.2m-8.6-7.8v15.6M2021.0 130.1h17.2m-8.6-7.8v15.6M2021.3 133.0h17.2m-8.6-7.8v15.6M2021.5 474.3h17.2m-8.6-7.8v15.6M2021.5 471.1h17.2m-8.6-7.8v15.6M2021.8 466.8h17.2m-8.6-7.8v15.6M2022.0 462.5h17.2m-8.6-7.8v15.6M2022.3 459.0h17.2m-8.6-7.8v15.6M2022.6 454.5h17.2m-8.6-7.8v15.6M2022.9 451.8h17.2m-8.6-7.8v15.6M2023.1 449.3h17.2m-8.6-7.8v15.6M2023.4 445.9h17.2m-8.6-7.8v15.6M2023.7 443.0h17.2m-8.6-7.8v15.6M2023.9 446.2h17.2m-8.6-7.8v15.6M2024.1 446.2h17.2m-8.6-7.8v15.6M2024.4 447.3h17.2m-8.6-7.8v15.6M2024.6 453.0h17.2m-8.6-7.8v15.6M2024.9 455.4h17.2m-8.6-7.8v15.6M2025.1 461.1h17.2m-8.6-7.8v15.6M2025.3 464.1h17.2m-8.6-7.8v15.6M2025.5 466.6h17.2m-8.6-7.8v15.6M2025.8 469.1h17.2m-8.6-7.8v15.6M2026.0 471.1h17.2m-8.6-7.8v15.6M2026.3 130.8h17.2m-8.6-7.8v15.6M2026.5 133.1h17.2m-8.6-7.8v15.6M2026.7 136.1h17.2m-8.6-7.8v15.6M2026.7 138.1h17.2m-8.6-7.8v15.6M2027.0 146.4h17.2m-8.6-7.8v15.6M2027.2 151.6h17.2m-8.6-7.8v15.6M2027.5 157.9h17.2m-8.6-7.8v15.6M2027.8 165.1h17.2m-8.6-7.8v15.6M2028.1 170.2h17.2m-8.6-7.8v15.6M2028.4 174.3h17.2m-8.6-7.8v15.6M2028.6 175.6h17.2m-8.6-7.8v15.6M2028.8 172.9h17.2m-8.6-7.8v15.6M2029.1 163.5h17.2m-8.6-7.8v15.6M2029.3 163.4h17.2m-8.6-7.8v15.6M2029.6 158.5h17.2m-8.6-7.8v15.6M2029.8 153.6h17.2m-8.6-7.8v15.6M2030.0 150.9h17.2m-8.6-7.8v15.6M2030.2 143.2h17.2m-8.6-7.8v15.6M2030.4 140.9h17.2m-8.6-7.8v15.6M2030.7 135.5h17.2m-8.6-7.8v15.6M2030.9 134.1h17.2m-8.6-7.8v15.6M2031.2 474.6h17.2m-8.6-7.8v15.6M2031.4 471.4h17.2m-8.6-7.8v15.6M2031.4 470.8h17.2m-8.6-7.8v15.6M2031.7 469.5h17.2m-8.6-7.8v15.6M2031.9 466.9h17.2m-8.6-7.8v15.6M2032.2 466.5h17.2m-8.6-7.8v15.6M2032.4 466.1h17.2m-8.6-7.8v15.6M2032.7 462.7h17.2m-8.6-7.8v15.6M2033.0 462.0h17.2m-8.6-7.8v15.6M2033.2 459.4h17.2m-8.6-7.8v15.6M2033.5 459.1h17.2m-8.6-7.8v15.6M2033.7 458.1h17.2m-8.6-7.8v15.6M2033.9 457.0h17.2m-8.6-7.8v15.6M2034.2 455.7h17.2m-8.6-7.8v15.6M2034.5 454.6h17.2m-8.6-7.8v15.6M2034.7 454.0h17.2m-8.6-7.8v15.6M2035.0 452.5h17.2m-8.6-7.8v15.6M2035.3 451.0h17.2m-8.6-7.8v15.6M2035.5 450.2h17.2m-8.6-7.8v15.6M2035.8 449.0h17.2m-8.6-7.8v15.6M2036.0 448.2h17.2m-8.6-7.8v15.6M2036.3 447.8h17.2m-8.6-7.8v15.6M2036.6 445.9h17.2m-8.6-7.8v15.6M2036.8 444.7h17.2m-8.6-7.8v15.6M2037.1 444.5h17.2m-8.6-7.8v15.6M2037.3 443.3h17.2m-8.6-7.8v15.6M2037.5 440.0h17.2m-8.6-7.8v15.6M2037.7 443.9h17.2m-8.6-7.8v15.6M2038.0 451.1h17.2m-8.6-7.8v15.6M2038.2 451.9h17.2m-8.6-7.8v15.6M2038.4 454.7h17.2m-8.6-7.8v15.6M2038.7 461.2h17.2m-8.6-7.8v15.6M2038.9 460.8h17.2m-8.6-7.8v15.6M2039.1 465.6h17.2m-8.6-7.8v15.6M2039.4 470.5h17.2m-8.6-7.8v15.6M2039.6 129.5h17.2m-8.6-7.8v15.6M2039.8 130.8h17.2m-8.6-7.8v15.6M2040.1 134.0h17.2m-8.6-7.8v15.6M2040.3 138.0h17.2m-8.6-7.8v15.6M2040.3 137.1h17.2m-8.6-7.8v15.6M2040.5 146.9h17.2m-8.6-7.8v15.6M2040.8 155.1h17.2m-8.6-7.8v15.6M2041.0 162.2h17.2m-8.6-7.8v15.6M2041.3 168.8h17.2m-8.6-7.8v15.6M2041.5 172.8h17.2m-8.6-7.8v15.6M2041.7 176.8h17.2m-8.6-7.8v15.6M2041.9 170.6h17.2m-8.6-7.8v15.6M2042.1 170.0h17.2m-8.6-7.8v15.6M2042.4 161.9h17.2m-8.6-7.8v15.6M2042.6 154.2h17.2m-8.6-7.8v15.6M2042.9 151.6h17.2m-8.6-7.8v15.6M2043.1 149.8h17.2m-8.6-7.8v15.6M2043.3 145.7h17.2m-8.6-7.8v15.6M2043.5 144.3h17.2m-8.6-7.8v15.6M2043.8 137.6h17.2m-8.6-7.8v15.6M2044.0 137.2h17.2m-8.6-7.8v15.6M2044.2 129.7h17.2m-8.6-7.8v15.6M2044.5 469.2h17.2m-8.6-7.8v15.6M2044.5 471.9h17.2m-8.6-7.8v15.6M2044.8 465.7h17.2m-8.6-7.8v15.6M2045.0 461.5h17.2m-8.6-7.8v15.6M2045.2 457.5h17.2m-8.6-7.8v15.6M2045.5 454.3h17.2m-8.6-7.8v15.6M2045.7 450.5h17.2m-8.6-7.8v15.6M2046.0 447.0h17.2m-8.6-7.8v15.6M2046.2 444.3h17.2m-8.6-7.8v15.6M2046.4 440.7h17.2m-8.6-7.8v15.6M2046.6 444.8h17.2m-8.6-7.8v15.6M2046.9 450.3h17.2m-8.6-7.8v15.6M2047.1 454.8h17.2m-8.6-7.8v15.6M2047.3 460.5h17.2m-8.6-7.8v15.6M2047.6 460.4h17.2m-8.6-7.8v15.6M2047.8 463.8h17.2m-8.6-7.8v15.6M2048.1 464.0h17.2m-8.6-7.8v15.6M2048.3 470.7h17.2m-8.6-7.8v15.6M2048.5 475.3h17.2m-8.6-7.8v15.6M2048.7 133.2h17.2m-8.6-7.8v15.6M2049.0 136.8h17.2m-8.6-7.8v15.6M2049.2 138.7h17.2m-8.6-7.8v15.6M2049.3 175.7h17.2m-8.6-7.8v15.6M2049.5 167.7h17.2m-8.6-7.8v15.6M2049.7 166.5h17.2m-8.6-7.8v15.6M2049.9 165.6h17.2m-8.6-7.8v15.6M2050.1 158.5h17.2m-8.6-7.8v15.6M2050.4 158.7h17.2m-8.6-7.8v15.6M2050.6 152.3h17.2m-8.6-7.8v15.6M2050.8 149.2h17.2m-8.6-7.8v15.6M2051.0 146.2h17.2m-8.6-7.8v15.6M2051.3 142.6h17.2m-8.6-7.8v15.6M2051.5 136.8h17.2m-8.6-7.8v15.6M2051.7 473.8h17.2m-8.6-7.8v15.6M2051.9 471.6h17.2m-8.6-7.8v15.6M2052.1 473.8h17.2m-8.6-7.8v15.6M2052.1 471.3h17.2m-8.6-7.8v15.6M2052.3 464.4h17.2m-8.6-7.8v15.6M2052.6 458.2h17.2m-8.6-7.8v15.6M2052.9 453.4h17.2m-8.6-7.8v15.6M2053.1 449.9h17.2m-8.6-7.8v15.6M2053.3 444.1h17.2m-8.6-7.8v15.6M2053.6 440.4h17.2m-8.6-7.8v15.6M2053.8 437.0h17.2m-8.6-7.8v15.6M2054.0 433.4h17.2m-8.6-7.8v15.6M2054.2 439.4h17.2m-8.6-7.8v15.6M2054.4 442.9h17.2m-8.6-7.8v15.6M2054.6 449.4h17.2m-8.6-7.8v15.6M2054.9 454.1h17.2m-8.6-7.8v15.6M2055.1 457.3h17.2m-8.6-7.8v15.6M2055.3 456.9h17.2m-8.6-7.8v15.6M2055.5 460.1h17.2m-8.6-7.8v15.6M2055.7 464.0h17.2m-8.6-7.8v15.6M2055.9 468.0h17.2m-8.6-7.8v15.6M2056.1 473.7h17.2m-8.6-7.8v15.6M2056.3 130.2h17.2m-8.6-7.8v15.6M2056.6 133.2h17.2m-8.6-7.8v15.6M2056.8 137.0h17.2m-8.6-7.8v15.6M2056.8 138.1h17.2m-8.6-7.8v15.6M2057.0 149.1h17.2m-8.6-7.8v15.6M2057.3 159.9h17.2m-8.6-7.8v15.6M2057.5 168.0h17.2m-8.6-7.8v15.6M2057.7 175.8h17.2m-8.6-7.8v15.6M2057.9 179.1h17.2m-8.6-7.8v15.6M2058.1 172.7h17.2m-8.6-7.8v15.6M2058.3 167.7h17.2m-8.6-7.8v15.6M2058.6 160.6h17.2m-8.6-7.8v15.6M2058.8 164.2h17.2m-8.6-7.8v15.6M2059.0 153.7h17.2m-8.6-7.8v15.6M2059.2 151.8h17.2m-8.6-7.8v15.6M2059.4 148.7h17.2m-8.6-7.8v15.6M2059.6 142.9h17.2m-8.6-7.8v15.6M2059.9 143.3h17.2m-8.6-7.8v15.6M2060.1 138.4h17.2m-8.6-7.8v15.6M2060.3 132.8h17.2m-8.6-7.8v15.6M2060.5 134.6h17.2m-8.6-7.8v15.6M2060.7 470.0h17.2m-8.6-7.8v15.6M2060.7 470.6h17.2m-8.6-7.8v15.6M2061.0 457.6h17.2m-8.6-7.8v15.6M2061.2 446.8h17.2m-8.6-7.8v15.6M2061.4 439.8h17.2m-8.6-7.8v15.6M2061.7 431.2h17.2m-8.6-7.8v15.6M2061.9 423.4h17.2m-8.6-7.8v15.6M2062.1 429.6h17.2m-8.6-7.8v15.6M2062.3 425.6h17.2m-8.6-7.8v15.6M2062.6 434.8h17.2m-8.6-7.8v15.6M2062.7 436.2h17.2m-8.6-7.8v15.6M2063.0 441.3h17.2m-8.6-7.8v15.6M2063.2 447.4h17.2m-8.6-7.8v15.6M2063.4 452.2h17.2m-8.6-7.8v15.6M2063.6 453.9h17.2m-8.6-7.8v15.6M2063.8 458.2h17.2m-8.6-7.8v15.6M2064.0 459.6h17.2m-8.6-7.8v15.6M2064.3 469.6h17.2m-8.6-7.8v15.6M2064.4 130.5h17.2m-8.6-7.8v15.6M2064.7 129.9h17.2m-8.6-7.8v15.6M2064.9 140.3h17.2m-8.6-7.8v15.6M2064.9 137.2h17.2m-8.6-7.8v15.6M2065.1 146.6h17.2m-8.6-7.8v15.6M2065.3 156.5h17.2m-8.6-7.8v15.6M2065.6 164.2h17.2m-8.6-7.8v15.6M2065.8 170.2h17.2m-8.6-7.8v15.6M2066.0 177.1h17.2m-8.6-7.8v15.6M2066.2 178.7h17.2m-8.6-7.8v15.6M2066.4 175.7h17.2m-8.6-7.8v15.6M2066.7 169.9h17.2m-8.6-7.8v15.6M2066.8 166.4h17.2m-8.6-7.8v15.6M2067.1 161.7h17.2m-8.6-7.8v15.6M2067.3 158.5h17.2m-8.6-7.8v15.6M2067.5 153.6h17.2m-8.6-7.8v15.6M2067.7 151.6h17.2m-8.6-7.8v15.6M2067.9 145.8h17.2m-8.6-7.8v15.6M2068.1 138.9h17.2m-8.6-7.8v15.6M2068.3 135.6h17.2m-8.6-7.8v15.6M2068.6 132.3h17.2m-8.6-7.8v15.6M2068.8 132.6h17.2m-8.6-7.8v15.6M2069.0 473.3h17.2m-8.6-7.8v15.6M2069.0 471.0h17.2m-8.6-7.8v15.6M2069.2 467.1h17.2m-8.6-7.8v15.6M2069.5 463.0h17.2m-8.6-7.8v15.6M2069.7 460.2h17.2m-8.6-7.8v15.6M2069.9 457.0h17.2m-8.6-7.8v15.6M2070.1 453.8h17.2m-8.6-7.8v15.6M2070.4 451.4h17.2m-8.6-7.8v15.6M2070.6 449.3h17.2m-8.6-7.8v15.6M2070.8 447.7h17.2m-8.6-7.8v15.6M2071.1 444.6h17.2m-8.6-7.8v15.6M2071.3 442.2h17.2m-8.6-7.8v15.6M2071.6 439.6h17.2m-8.6-7.8v15.6M2071.8 437.7h17.2m-8.6-7.8v15.6M2072.0 436.5h17.2m-8.6-7.8v15.6M2072.2 442.1h17.2m-8.6-7.8v15.6M2072.4 444.4h17.2m-8.6-7.8v15.6M2072.6 452.0h17.2m-8.6-7.8v15.6M2072.8 449.1h17.2m-8.6-7.8v15.6M2073.0 453.2h17.2m-8.6-7.8v15.6M2073.2 458.4h17.2m-8.6-7.8v15.6M2073.4 460.3h17.2m-8.6-7.8v15.6M2073.6 463.2h17.2m-8.6-7.8v15.6M2073.8 466.7h17.2m-8.6-7.8v15.6M2074.0 470.3h17.2m-8.6-7.8v15.6M2074.2 133.0h17.2m-8.6-7.8v15.6M2074.4 129.5h17.2m-8.6-7.8v15.6M2074.6 138.3h17.2m-8.6-7.8v15.6M2074.8 139.0h17.2m-8.6-7.8v15.6M2074.8 137.4h17.2m-8.6-7.8v15.6M2075.0 150.2h17.2m-8.6-7.8v15.6M2075.2 159.4h17.2m-8.6-7.8v15.6M2075.4 168.2h17.2m-8.6-7.8v15.6M2075.6 170.0h17.2m-8.6-7.8v15.6M2075.8 167.1h17.2m-8.6-7.8v15.6M2076.0 162.8h17.2m-8.6-7.8v15.6M2076.2 163.7h17.2m-8.6-7.8v15.6M2076.4 158.5h17.2m-8.6-7.8v15.6M2076.6 155.1h17.2m-8.6-7.8v15.6M2076.8 154.0h17.2m-8.6-7.8v15.6M2077.0 146.8h17.2m-8.6-7.8v15.6M2077.2 144.4h17.2m-8.6-7.8v15.6M2077.4 142.4h17.2m-8.6-7.8v15.6M2077.6 136.3h17.2m-8.6-7.8v15.6M2077.8 134.8h17.2m-8.6-7.8v15.6M2078.0 134.8h17.2m-8.6-7.8v15.6M2078.2 129.6h17.2m-8.6-7.8v15.6M2078.4 468.1h17.2m-8.6-7.8v15.6M1412.6 471.1h17.2m-8.6-7.8v15.6M1414.1 473.9h17.2m-8.6-7.8v15.6M1415.4 463.2h17.2m-8.6-7.8v15.6M1416.3 465.6h17.2m-8.6-7.8v15.6M1417.2 136.2h17.2m-8.6-7.8v15.6M1419.2 471.9h17.2m-8.6-7.8v15.6M1421.0 136.9h17.2m-8.6-7.8v15.6M1422.4 466.1h17.2m-8.6-7.8v15.6M1422.9 141.8h17.2m-8.6-7.8v15.6M1424.2 471.3h17.2m-8.6-7.8v15.6M1424.6 463.2h17.2m-8.6-7.8v15.6M1425.5 463.8h17.2m-8.6-7.8v15.6M1427.9 474.1h17.2m-8.6-7.8v15.6M1428.0 149.4h17.2m-8.6-7.8v15.6M1429.1 474.2h17.2m-8.6-7.8v15.6M1432.9 470.5h17.2m-8.6-7.8v15.6M1432.6 143.2h17.2m-8.6-7.8v15.6M1434.3 465.1h17.2m-8.6-7.8v15.6M1434.1 138.0h17.2m-8.6-7.8v15.6M1434.6 464.5h17.2m-8.6-7.8v15.6M1436.1 471.8h17.2m-8.6-7.8v15.6M1436.0 139.5h17.2m-8.6-7.8v15.6M1439.5 466.3h17.2m-8.6-7.8v15.6M1440.6 473.8h17.2m-8.6-7.8v15.6M1442.3 145.1h17.2m-8.6-7.8v15.6M1443.2 137.4h17.2m-8.6-7.8v15.6M1442.5 133.3h17.2m-8.6-7.8v15.6M1444.6 472.5h17.2m-8.6-7.8v15.6M1446.8 468.2h17.2m-8.6-7.8v15.6M1448.1 463.5h17.2m-8.6-7.8v15.6M1449.9 465.3h17.2m-8.6-7.8v15.6M1449.8 146.2h17.2m-8.6-7.8v15.6M1451.3 466.6h17.2m-8.6-7.8v15.6M1452.9 139.6h17.2m-8.6-7.8v15.6M1454.3 466.6h17.2m-8.6-7.8v15.6M1454.4 140.8h17.2m-8.6-7.8v15.6M1456.9 473.3h17.2m-8.6-7.8v15.6M1460.5 466.1h17.2m-8.6-7.8v15.6M1462.1 137.5h17.2m-8.6-7.8v15.6M1463.1 467.1h17.2m-8.6-7.8v15.6M1464.1 465.9h17.2m-8.6-7.8v15.6M1464.5 149.3h17.2m-8.6-7.8v15.6M1465.9 145.9h17.2m-8.6-7.8v15.6M1469.3 474.1h17.2m-8.6-7.8v15.6M1470.3 138.9h17.2m-8.6-7.8v15.6M1474.6 131.3h17.2m-8.6-7.8v15.6M1476.2 468.3h17.2m-8.6-7.8v15.6M1477.3 472.1h17.2m-8.6-7.8v15.6M1477.3 139.7h17.2m-8.6-7.8v15.6M1480.0 473.7h17.2m-8.6-7.8v15.6M1480.7 467.9h17.2m-8.6-7.8v15.6M1483.3 140.6h17.2m-8.6-7.8v15.6M1483.8 468.2h17.2m-8.6-7.8v15.6M1484.7 464.4h17.2m-8.6-7.8v15.6M1486.4 473.3h17.2m-8.6-7.8v15.6M1488.1 134.4h17.2m-8.6-7.8v15.6M1489.0 464.5h17.2m-8.6-7.8v15.6M1489.7 464.6h17.2m-8.6-7.8v15.6M1492.4 135.4h17.2m-8.6-7.8v15.6M1492.9 469.0h17.2m-8.6-7.8v15.6M1493.0 144.4h17.2m-8.6-7.8v15.6M1497.0 472.0h17.2m-8.6-7.8v15.6M1498.2 468.2h17.2m-8.6-7.8v15.6M1499.0 470.3h17.2m-8.6-7.8v15.6M1499.9 131.1h17.2m-8.6-7.8v15.6M1500.9 129.5h17.2m-8.6-7.8v15.6M1502.0 472.6h17.2m-8.6-7.8v15.6M1504.7 471.3h17.2m-8.6-7.8v15.6M1506.6 472.1h17.2m-8.6-7.8v15.6M1509.6 468.8h17.2m-8.6-7.8v15.6M1511.9 145.6h17.2m-8.6-7.8v15.6M1513.0 472.1h17.2m-8.6-7.8v15.6M1517.5 465.9h17.2m-8.6-7.8v15.6M1519.8 464.3h17.2m-8.6-7.8v15.6M1523.4 470.6h17.2m-8.6-7.8v15.6M1524.0 472.1h17.2m-8.6-7.8v15.6M1523.7 137.4h17.2m-8.6-7.8v15.6M1526.6 473.5h17.2m-8.6-7.8v15.6M1527.1 138.4h17.2m-8.6-7.8v15.6M1527.8 149.7h17.2m-8.6-7.8v15.6M1530.3 141.8h17.2m-8.6-7.8v15.6M1532.7 473.1h17.2m-8.6-7.8v15.6M1534.0 464.5h17.2m-8.6-7.8v15.6M1533.5 133.6h17.2m-8.6-7.8v15.6M1535.3 464.5h17.2m-8.6-7.8v15.6M1536.0 468.6h17.2m-8.6-7.8v15.6M1537.5 472.1h17.2m-8.6-7.8v15.6M1538.5 472.0h17.2m-8.6-7.8v15.6M1539.6 468.1h17.2m-8.6-7.8v15.6M1541.4 138.2h17.2m-8.6-7.8v15.6M1543.9 467.2h17.2m-8.6-7.8v15.6M1546.4 465.1h17.2m-8.6-7.8v15.6M1546.2 146.9h17.2m-8.6-7.8v15.6M1547.7 470.0h17.2m-8.6-7.8v15.6M1556.7 130.8h17.2m-8.6-7.8v15.6M1561.5 466.4h17.2m-8.6-7.8v15.6M1562.8 463.9h17.2m-8.6-7.8v15.6M1564.6 466.6h17.2m-8.6-7.8v15.6M1566.1 472.2h17.2m-8.6-7.8v15.6M1570.7 469.7h17.2m-8.6-7.8v15.6M1571.5 464.2h17.2m-8.6-7.8v15.6M1574.9 144.5h17.2m-8.6-7.8v15.6M1579.2 470.7h17.2m-8.6-7.8v15.6M1584.2 130.1h17.2m-8.6-7.8v15.6M1585.8 468.7h17.2m-8.6-7.8v15.6M1591.2 467.4h17.2m-8.6-7.8v15.6M1593.2 474.4h17.2m-8.6-7.8v15.6M1594.0 470.1h17.2m-8.6-7.8v15.6M1595.6 472.9h17.2m-8.6-7.8v15.6M1598.5 138.6h17.2m-8.6-7.8v15.6M1599.8 468.0h17.2m-8.6-7.8v15.6M1602.8 133.5h17.2m-8.6-7.8v15.6M1605.3 147.0h17.2m-8.6-7.8v15.6M1607.7 133.2h17.2m-8.6-7.8v15.6M1623.2 465.8h17.2m-8.6-7.8v15.6M1624.8 462.9h17.2m-8.6-7.8v15.6M1626.2 471.0h17.2m-8.6-7.8v15.6M1627.6 472.9h17.2m-8.6-7.8v15.6M1628.8 133.0h17.2m-8.6-7.8v15.6M1633.8 472.4h17.2m-8.6-7.8v15.6M1634.6 135.4h17.2m-8.6-7.8v15.6M1634.6 132.5h17.2m-8.6-7.8v15.6M1636.8 463.1h17.2m-8.6-7.8v15.6M1637.8 468.1h17.2m-8.6-7.8v15.6M1640.8 466.2h17.2m-8.6-7.8v15.6M1643.1 468.3h17.2m-8.6-7.8v15.6M1645.0 466.2h17.2m-8.6-7.8v15.6M1646.5 471.2h17.2m-8.6-7.8v15.6M1647.7 134.0h17.2m-8.6-7.8v15.6M1648.6 472.4h17.2m-8.6-7.8v15.6M1653.2 465.7h17.2m-8.6-7.8v15.6M1655.1 468.6h17.2m-8.6-7.8v15.6M1659.0 130.7h17.2m-8.6-7.8v15.6M1663.8 473.8h17.2m-8.6-7.8v15.6M1667.7 471.6h17.2m-8.6-7.8v15.6M1667.7 134.3h17.2m-8.6-7.8v15.6M1669.3 468.4h17.2m-8.6-7.8v15.6M1670.2 468.0h17.2m-8.6-7.8v15.6M1672.1 136.9h17.2m-8.6-7.8v15.6M1674.2 133.8h17.2m-8.6-7.8v15.6M1675.3 472.6h17.2m-8.6-7.8v15.6M1674.8 142.3h17.2m-8.6-7.8v15.6M1676.4 144.6h17.2m-8.6-7.8v15.6M1677.5 473.8h17.2m-8.6-7.8v15.6M1683.5 470.2h17.2m-8.6-7.8v15.6M1684.7 149.5h17.2m-8.6-7.8v15.6M1693.2 143.6h17.2m-8.6-7.8v15.6M1693.6 463.4h17.2m-8.6-7.8v15.6M1694.6 131.6h17.2m-8.6-7.8v15.6M1696.8 464.2h17.2m-8.6-7.8v15.6M1699.2 465.9h17.2m-8.6-7.8v15.6M1704.1 467.9h17.2m-8.6-7.8v15.6M1712.5 142.7h17.2m-8.6-7.8v15.6M1714.2 467.0h17.2m-8.6-7.8v15.6M1714.4 139.9h17.2m-8.6-7.8v15.6M1714.7 470.5h17.2m-8.6-7.8v15.6M1717.5 467.1h17.2m-8.6-7.8v15.6M1721.8 473.2h17.2m-8.6-7.8v15.6M1722.8 474.1h17.2m-8.6-7.8v15.6M1726.5 473.1h17.2m-8.6-7.8v15.6M1728.8 131.9h17.2m-8.6-7.8v15.6M1744.4 466.8h17.2m-8.6-7.8v15.6M1746.9 464.7h17.2m-8.6-7.8v15.6M1747.0 133.3h17.2m-8.6-7.8v15.6M1747.9 471.8h17.2m-8.6-7.8v15.6M1749.5 149.8h17.2m-8.6-7.8v15.6M1753.3 146.4h17.2m-8.6-7.8v15.6M1753.5 469.9h17.2m-8.6-7.8v15.6M1768.9 469.9h17.2m-8.6-7.8v15.6M1771.9 469.8h17.2m-8.6-7.8v15.6M1773.9 471.8h17.2m-8.6-7.8v15.6M1774.7 465.7h17.2m-8.6-7.8v15.6M1775.4 474.9h17.2m-8.6-7.8v15.6M1783.7 463.6h17.2m-8.6-7.8v15.6M1785.6 473.5h17.2m-8.6-7.8v15.6M1790.8 468.2h17.2m-8.6-7.8v15.6M1796.1 474.3h17.2m-8.6-7.8v15.6M1798.6 131.7h17.2m-8.6-7.8v15.6M1802.1 138.7h17.2m-8.6-7.8v15.6M1803.8 148.2h17.2m-8.6-7.8v15.6M1810.1 469.2h17.2m-8.6-7.8v15.6M1810.7 467.6h17.2m-8.6-7.8v15.6M1819.3 129.6h17.2m-8.6-7.8v15.6M1820.5 469.2h17.2m-8.6-7.8v15.6M1820.6 132.2h17.2m-8.6-7.8v15.6M1824.6 134.9h17.2m-8.6-7.8v15.6M1826.5 473.4h17.2m-8.6-7.8v15.6M1827.7 465.5h17.2m-8.6-7.8v15.6M1830.4 467.6h17.2m-8.6-7.8v15.6M1833.6 147.8h17.2m-8.6-7.8v15.6M1835.3 463.6h17.2m-8.6-7.8v15.6M1835.5 467.4h17.2m-8.6-7.8v15.6M1836.9 471.2h17.2m-8.6-7.8v15.6M1839.2 139.8h17.2m-8.6-7.8v15.6M1843.1 474.8h17.2m-8.6-7.8v15.6M1845.4 474.4h17.2m-8.6-7.8v15.6M1845.9 473.1h17.2m-8.6-7.8v15.6M1851.1 463.2h17.2m-8.6-7.8v15.6M1853.0 467.3h17.2m-8.6-7.8v15.6M1856.3 472.5h17.2m-8.6-7.8v15.6M1858.4 472.7h17.2m-8.6-7.8v15.6M1859.4 133.7h17.2m-8.6-7.8v15.6M1864.5 470.5h17.2m-8.6-7.8v15.6M1864.8 134.9h17.2m-8.6-7.8v15.6M1869.3 469.2h17.2m-8.6-7.8v15.6M1870.0 464.0h17.2m-8.6-7.8v15.6M1870.9 467.6h17.2m-8.6-7.8v15.6M1873.3 471.5h17.2m-8.6-7.8v15.6M1873.1 130.9h17.2m-8.6-7.8v15.6M1873.8 472.4h17.2m-8.6-7.8v15.6M1877.2 471.4h17.2m-8.6-7.8v15.6M1877.5 134.1h17.2m-8.6-7.8v15.6M1880.3 471.0h17.2m-8.6-7.8v15.6M1882.2 473.0h17.2m-8.6-7.8v15.6M1883.7 471.9h17.2m-8.6-7.8v15.6M1884.4 472.9h17.2m-8.6-7.8v15.6M1884.8 149.8h17.2m-8.6-7.8v15.6M1885.6 468.2h17.2m-8.6-7.8v15.6M1886.9 468.6h17.2m-8.6-7.8v15.6M1887.7 134.2h17.2m-8.6-7.8v15.6M1890.1 467.7h17.2m-8.6-7.8v15.6M1891.9 466.7h17.2m-8.6-7.8v15.6M1894.1 143.2h17.2m-8.6-7.8v15.6M1895.1 134.6h17.2m-8.6-7.8v15.6M1895.6 145.0h17.2m-8.6-7.8v15.6M1897.4 465.4h17.2m-8.6-7.8v15.6M1896.7 142.0h17.2m-8.6-7.8v15.6M1898.2 145.3h17.2m-8.6-7.8v15.6M1899.4 474.2h17.2m-8.6-7.8v15.6M1900.1 137.4h17.2m-8.6-7.8v15.6M1904.0 463.0h17.2m-8.6-7.8v15.6M1905.1 469.4h17.2m-8.6-7.8v15.6M1906.2 471.0h17.2m-8.6-7.8v15.6M1907.9 468.7h17.2m-8.6-7.8v15.6M1909.2 474.0h17.2m-8.6-7.8v15.6M1909.2 142.0h17.2m-8.6-7.8v15.6M1910.0 465.1h17.2m-8.6-7.8v15.6M1911.0 469.4h17.2m-8.6-7.8v15.6M1911.6 142.2h17.2m-8.6-7.8v15.6M1912.8 144.3h17.2m-8.6-7.8v15.6M1914.1 466.7h17.2m-8.6-7.8v15.6M1914.5 145.2h17.2m-8.6-7.8v15.6M1917.1 471.2h17.2m-8.6-7.8v15.6M1917.0 149.5h17.2m-8.6-7.8v15.6M1918.4 472.8h17.2m-8.6-7.8v15.6M1918.0 133.7h17.2m-8.6-7.8v15.6M1920.0 471.0h17.2m-8.6-7.8v15.6M1923.4 471.2h17.2m-8.6-7.8v15.6M1925.5 144.7h17.2m-8.6-7.8v15.6M1927.0 468.8h17.2m-8.6-7.8v15.6M1928.3 463.2h17.2m-8.6-7.8v15.6M1929.8 145.6h17.2m-8.6-7.8v15.6M1930.5 471.7h17.2m-8.6-7.8v15.6M1931.1 136.0h17.2m-8.6-7.8v15.6M1932.7 145.6h17.2m-8.6-7.8v15.6M1934.0 139.4h17.2m-8.6-7.8v15.6M1935.2 466.4h17.2m-8.6-7.8v15.6M1937.4 464.8h17.2m-8.6-7.8v15.6M1938.7 465.8h17.2m-8.6-7.8v15.6M1941.1 473.1h17.2m-8.6-7.8v15.6M1942.2 463.6h17.2m-8.6-7.8v15.6M1942.4 147.6h17.2m-8.6-7.8v15.6M1943.1 471.2h17.2m-8.6-7.8v15.6M1943.3 142.0h17.2m-8.6-7.8v15.6M1943.7 465.7h17.2m-8.6-7.8v15.6M1946.5 149.1h17.2m-8.6-7.8v15.6M1947.7 469.4h17.2m-8.6-7.8v15.6M1948.2 132.2h17.2m-8.6-7.8v15.6M1950.9 473.8h17.2m-8.6-7.8v15.6M1951.0 143.1h17.2m-8.6-7.8v15.6M1952.2 150.2h17.2m-8.6-7.8v15.6M1953.2 472.6h17.2m-8.6-7.8v15.6M1953.9 474.4h17.2m-8.6-7.8v15.6M1954.3 148.2h17.2m-8.6-7.8v15.6M1954.6 467.2h17.2m-8.6-7.8v15.6M1956.1 140.1h17.2m-8.6-7.8v15.6M1956.7 470.0h17.2m-8.6-7.8v15.6M1960.2 467.5h17.2m-8.6-7.8v15.6M1960.1 134.7h17.2m-8.6-7.8v15.6M1962.4 469.7h17.2m-8.6-7.8v15.6M1962.1 139.4h17.2m-8.6-7.8v15.6M1963.0 143.3h17.2m-8.6-7.8v15.6M1964.0 473.5h17.2m-8.6-7.8v15.6M1965.0 471.7h17.2m-8.6-7.8v15.6M1966.3 467.4h17.2m-8.6-7.8v15.6M1967.1 470.3h17.2m-8.6-7.8v15.6M1966.6 135.5h17.2m-8.6-7.8v15.6M1968.1 465.7h17.2m-8.6-7.8v15.6M1970.3 471.5h17.2m-8.6-7.8v15.6M1971.4 471.1h17.2m-8.6-7.8v15.6M1971.5 138.3h17.2m-8.6-7.8v15.6M1973.3 474.2h17.2m-8.6-7.8v15.6M1974.6 140.5h17.2m-8.6-7.8v15.6M1976.2 470.7h17.2m-8.6-7.8v15.6M1976.1 148.3h17.2m-8.6-7.8v15.6M1977.7 469.8h17.2m-8.6-7.8v15.6M1978.0 137.3h17.2m-8.6-7.8v15.6M1980.1 463.6h17.2m-8.6-7.8v15.6M1981.3 473.0h17.2m-8.6-7.8v15.6M1982.1 473.7h17.2m-8.6-7.8v15.6M1982.2 142.0h17.2m-8.6-7.8v15.6M1982.8 467.3h17.2m-8.6-7.8v15.6M1982.8 140.6h17.2m-8.6-7.8v15.6M1983.7 473.8h17.2m-8.6-7.8v15.6M1983.9 136.4h17.2m-8.6-7.8v15.6M1985.0 148.0h17.2m-8.6-7.8v15.6M1985.9 472.7h17.2m-8.6-7.8v15.6M1985.5 136.6h17.2m-8.6-7.8v15.6M1986.9 147.8h17.2m-8.6-7.8v15.6M1987.9 466.6h17.2m-8.6-7.8v15.6M1987.6 130.4h17.2m-8.6-7.8v15.6M1989.2 466.2h17.2m-8.6-7.8v15.6M1989.8 469.4h17.2m-8.6-7.8v15.6M1989.4 138.8h17.2m-8.6-7.8v15.6M1990.9 473.8h17.2m-8.6-7.8v15.6M1992.1 467.1h17.2m-8.6-7.8v15.6M1992.8 464.8h17.2m-8.6-7.8v15.6M1994.0 465.0h17.2m-8.6-7.8v15.6M1994.3 136.5h17.2m-8.6-7.8v15.6M1996.0 469.5h17.2m-8.6-7.8v15.6M1995.6 145.0h17.2m-8.6-7.8v15.6M1998.3 466.3h17.2m-8.6-7.8v15.6M1998.1 149.1h17.2m-8.6-7.8v15.6M1998.5 463.9h17.2m-8.6-7.8v15.6M1998.6 145.5h17.2m-8.6-7.8v15.6M1999.5 472.3h17.2m-8.6-7.8v15.6M2001.0 467.6h17.2m-8.6-7.8v15.6M2001.8 466.9h17.2m-8.6-7.8v15.6M2003.1 472.6h17.2m-8.6-7.8v15.6M2004.4 471.7h17.2m-8.6-7.8v15.6M2004.9 471.8h17.2m-8.6-7.8v15.6M2004.6 139.7h17.2m-8.6-7.8v15.6M2005.6 466.6h17.2m-8.6-7.8v15.6M2007.2 467.4h17.2m-8.6-7.8v15.6M2007.6 464.2h17.2m-8.6-7.8v15.6M2008.4 466.1h17.2m-8.6-7.8v15.6M2011.3 469.4h17.2m-8.6-7.8v15.6M2010.6 142.6h17.2m-8.6-7.8v15.6M2011.7 466.1h17.2m-8.6-7.8v15.6M2012.4 137.0h17.2m-8.6-7.8v15.6M2013.6 466.6h17.2m-8.6-7.8v15.6M2013.5 145.6h17.2m-8.6-7.8v15.6M2015.2 467.7h17.2m-8.6-7.8v15.6M2015.2 137.2h17.2m-8.6-7.8v15.6M2016.1 469.9h17.2m-8.6-7.8v15.6M2016.0 135.9h17.2m-8.6-7.8v15.6M2016.9 150.4h17.2m-8.6-7.8v15.6M2018.8 468.9h17.2m-8.6-7.8v15.6M2020.3 465.6h17.2m-8.6-7.8v15.6M2019.9 142.0h17.2m-8.6-7.8v15.6M2020.6 134.9h17.2m-8.6-7.8v15.6M2021.9 464.3h17.2m-8.6-7.8v15.6M2021.6 133.7h17.2m-8.6-7.8v15.6M2023.4 463.6h17.2m-8.6-7.8v15.6M2023.5 467.3h17.2m-8.6-7.8v15.6M2023.9 147.0h17.2m-8.6-7.8v15.6M2025.3 467.5h17.2m-8.6-7.8v15.6M2026.1 470.1h17.2m-8.6-7.8v15.6M2026.0 142.1h17.2m-8.6-7.8v15.6M2025.5 131.8h17.2m-8.6-7.8v15.6M2028.1 473.1h17.2m-8.6-7.8v15.6M2027.5 138.5h17.2m-8.6-7.8v15.6M2028.9 470.1h17.2m-8.6-7.8v15.6M2030.1 466.5h17.2m-8.6-7.8v15.6M2031.1 141.4h17.2m-8.6-7.8v15.6M2032.1 467.2h17.2m-8.6-7.8v15.6M2032.2 136.8h17.2m-8.6-7.8v15.6M2032.4 471.4h17.2m-8.6-7.8v15.6M2032.9 137.6h17.2m-8.6-7.8v15.6M2033.7 463.3h17.2m-8.6-7.8v15.6M2035.3 472.8h17.2m-8.6-7.8v15.6M2035.3 135.0h17.2m-8.6-7.8v15.6M2035.5 472.5h17.2m-8.6-7.8v15.6M2036.9 471.7h17.2m-8.6-7.8v15.6M2038.2 463.0h17.2m-8.6-7.8v15.6M2037.4 135.9h17.2m-8.6-7.8v15.6M2039.3 474.4h17.2m-8.6-7.8v15.6M2039.1 145.3h17.2m-8.6-7.8v15.6M2041.9 464.9h17.2m-8.6-7.8v15.6M2042.2 136.0h17.2m-8.6-7.8v15.6M2043.3 473.0h17.2m-8.6-7.8v15.6M2043.9 149.2h17.2m-8.6-7.8v15.6M2046.2 464.7h17.2m-8.6-7.8v15.6M2045.6 146.3h17.2m-8.6-7.8v15.6M2046.7 465.8h17.2m-8.6-7.8v15.6M2047.0 146.0h17.2m-8.6-7.8v15.6M2048.0 149.7h17.2m-8.6-7.8v15.6M2048.8 467.9h17.2m-8.6-7.8v15.6M2048.9 140.2h17.2m-8.6-7.8v15.6M2051.3 473.5h17.2m-8.6-7.8v15.6M2051.4 149.1h17.2m-8.6-7.8v15.6M2051.6 472.9h17.2m-8.6-7.8v15.6M2052.0 149.3h17.2m-8.6-7.8v15.6M2052.7 466.4h17.2m-8.6-7.8v15.6M2052.9 474.6h17.2m-8.6-7.8v15.6M2053.6 469.1h17.2m-8.6-7.8v15.6M2054.6 463.2h17.2m-8.6-7.8v15.6M2055.1 150.2h17.2m-8.6-7.8v15.6M2056.4 141.1h17.2m-8.6-7.8v15.6M2057.0 464.3h17.2m-8.6-7.8v15.6M2058.0 471.3h17.2m-8.6-7.8v15.6M2059.8 467.9h17.2m-8.6-7.8v15.6M2060.0 130.0h17.2m-8.6-7.8v15.6M2060.7 463.9h17.2m-8.6-7.8v15.6M2061.9 473.6h17.2m-8.6-7.8v15.6M2062.8 467.5h17.2m-8.6-7.8v15.6M2062.5 148.0h17.2m-8.6-7.8v15.6M2063.3 474.5h17.2m-8.6-7.8v15.6M2063.8 466.7h17.2m-8.6-7.8v15.6M2063.5 146.6h17.2m-8.6-7.8v15.6M2064.6 145.1h17.2m-8.6-7.8v15.6M2066.2 470.7h17.2m-8.6-7.8v15.6M2065.8 136.5h17.2m-8.6-7.8v15.6M2067.4 138.2h17.2m-8.6-7.8v15.6M2067.5 474.4h17.2m-8.6-7.8v15.6M2068.1 144.1h17.2m-8.6-7.8v15.6M2068.9 473.6h17.2m-8.6-7.8v15.6M2069.8 467.8h17.2m-8.6-7.8v15.6M2070.1 150.1h17.2m-8.6-7.8v15.6M2070.9 467.1h17.2m-8.6-7.8v15.6M2070.8 138.3h17.2m-8.6-7.8v15.6M2071.5 467.4h17.2m-8.6-7.8v15.6M2071.9 140.6h17.2m-8.6-7.8v15.6M2072.9 147.3h17.2m-8.6-7.8v15.6M2073.7 467.0h17.2m-8.6-7.8v15.6M2075.1 465.6h17.2m-8.6-7.8v15.6M2074.5 139.4h17.2m-8.6-7.8v15.6M2075.6 466.1h17.2m-8.6-7.8v15.6M2075.7 136.6h17.2m-8.6-7.8v15.6M2076.8 471.0h17.2m-8.6-7.8v15.6M1971.8 146.3h17.2m-8.6-7.8v15.6M1992.8 143.3h17.2m-8.6-7.8v15.6M2014.2 141.7h17.2m-8.6-7.8v15.6M1962.8 138.5h17.2m-8.6-7.8v15.6M2045.7 159.2h17.2m-8.6-7.8v15.6M2058.6 150.7h17.2m-8.6-7.8v15.6M2072.9 146.9h17.2m-8.6-7.8v15.6M2023.4 159.9h17.2m-8.6-7.8v15.6M2073.3 162.7h17.2m-8.6-7.8v15.6M2068.4 138.0h17.2m-8.6-7.8v15.6M2006.7 153.5h17.2m-8.6-7.8v15.6M2055.2 158.2h17.2m-8.6-7.8v15.6M1983.5 159.8h17.2m-8.6-7.8v15.6M2043.5 144.4h17.2m-8.6-7.8v15.6M2049.9 145.5h17.2m-8.6-7.8v15.6M2053.2 155.8h17.2m-8.6-7.8v15.6M2028.3 155.2h17.2m-8.6-7.8v15.6M2049.8 165.9h17.2m-8.6-7.8v15.6M2053.1 169.6h17.2m-8.6-7.8v15.6M2025.3 165.7h17.2m-8.6-7.8v15.6M2048.4 146.8h17.2m-8.6-7.8v15.6M2052.1 146.0h17.2m-8.6-7.8v15.6M1976.1 146.0h17.2m-8.6-7.8v15.6M2029.8 164.3h17.2m-8.6-7.8v15.6M1965.8 154.6h17.2m-8.6-7.8v15.6M1967.2 154.6h17.2m-8.6-7.8v15.6M1969.0 148.5h17.2m-8.6-7.8v15.6M1971.4 157.8h17.2m-8.6-7.8v15.6M2037.2 148.9h17.2m-8.6-7.8v15.6M1971.6 154.7h17.2m-8.6-7.8v15.6M2051.2 140.9h17.2m-8.6-7.8v15.6M2051.3 154.8h17.2m-8.6-7.8v15.6M1964.1 158.2h17.2m-8.6-7.8v15.6M2004.5 156.4h17.2m-8.6-7.8v15.6M1971.7 139.2h17.2m-8.6-7.8v15.6M2040.0 152.5h17.2m-8.6-7.8v15.6M2051.3 160.0h17.2m-8.6-7.8v15.6M1976.9 140.6h17.2m-8.6-7.8v15.6M2025.3 159.7h17.2m-8.6-7.8v15.6M2020.9 158.9h17.2m-8.6-7.8v15.6M1998.3 148.9h17.2m-8.6-7.8v15.6M1965.6 145.7h17.2m-8.6-7.8v15.6M2071.7 162.0h17.2m-8.6-7.8v15.6M2008.8 140.3h17.2m-8.6-7.8v15.6M2049.4 147.9h17.2m-8.6-7.8v15.6M1997.3 146.6h17.2m-8.6-7.8v15.6M2060.6 156.8h17.2m-8.6-7.8v15.6M2021.2 138.8h17.2m-8.6-7.8v15.6M2007.7 136.9h17.2m-8.6-7.8v15.6M2017.3 139.9h17.2m-8.6-7.8v15.6M2020.4 161.0h17.2m-8.6-7.8v15.6M2023.2 165.3h17.2m-8.6-7.8v15.6M2016.2 139.7h17.2m-8.6-7.8v15.6M2057.1 164.5h17.2m-8.6-7.8v15.6M1965.3 162.8h17.2m-8.6-7.8v15.6M2002.5 148.0h17.2m-8.6-7.8v15.6M2015.9 158.2h17.2m-8.6-7.8v15.6M1989.4 141.7h17.2m-8.6-7.8v15.6M2001.0 142.5h17.2m-8.6-7.8v15.6M2057.5 151.7h17.2m-8.6-7.8v15.6M2035.7 140.4h17.2m-8.6-7.8v15.6M2071.2 150.4h17.2m-8.6-7.8v15.6M1984.2 147.3h17.2m-8.6-7.8v15.6M1985.1 148.8h17.2m-8.6-7.8v15.6M1956.8 170.1h17.2m-8.6-7.8v15.6M2019.2 165.2h17.2m-8.6-7.8v15.6M1995.6 139.6h17.2m-8.6-7.8v15.6M2053.6 155.5h17.2m-8.6-7.8v15.6M2015.4 142.8h17.2m-8.6-7.8v15.6M1976.5 149.0h17.2m-8.6-7.8v15.6M2072.3 151.4h17.2m-8.6-7.8v15.6M2016.2 140.0h17.2m-8.6-7.8v15.6M2050.0 169.8h17.2m-8.6-7.8v15.6M2015.3 158.1h17.2m-8.6-7.8v15.6M1979.7 157.9h17.2m-8.6-7.8v15.6M2005.3 156.8h17.2m-8.6-7.8v15.6M2057.4 168.2h17.2m-8.6-7.8v15.6M2043.2 143.2h17.2m-8.6-7.8v15.6M2038.5 156.3h17.2m-8.6-7.8v15.6M1989.0 149.4h17.2m-8.6-7.8v15.6M2076.0 140.7h17.2m-8.6-7.8v15.6M2014.7 161.6h17.2m-8.6-7.8v15.6M2045.7 164.5h17.2m-8.6-7.8v15.6M2061.0 137.3h17.2m-8.6-7.8v15.6M2061.5 171.8h17.2m-8.6-7.8v15.6M2050.8 149.9h17.2m-8.6-7.8v15.6M2044.8 164.9h17.2m-8.6-7.8v15.6M2008.7 157.8h17.2m-8.6-7.8v15.6M2054.8 137.8h17.2m-8.6-7.8v15.6M2015.8 160.7h17.2m-8.6-7.8v15.6M1974.0 157.7h17.2m-8.6-7.8v15.6M2048.4 146.4h17.2m-8.6-7.8v15.6M1962.1 154.6h17.2m-8.6-7.8v15.6M2058.1 145.3h17.2m-8.6-7.8v15.6M1979.5 153.3h17.2m-8.6-7.8v15.6M2054.2 149.4h17.2m-8.6-7.8v15.6M2000.7 155.7h17.2m-8.6-7.8v15.6M2005.5 139.5h17.2m-8.6-7.8v15.6M1974.9 153.7h17.2m-8.6-7.8v15.6M1987.8 146.2h17.2m-8.6-7.8v15.6M1998.4 152.3h17.2m-8.6-7.8v15.6M2029.1 137.0h17.2m-8.6-7.8v15.6M1997.5 137.5h17.2m-8.6-7.8v15.6M1972.0 137.0h17.2m-8.6-7.8v15.6M2023.5 148.9h17.2m-8.6-7.8v15.6M1999.6 147.0h17.2m-8.6-7.8v15.6M2057.2 160.8h17.2m-8.6-7.8v15.6M2053.3 149.1h17.2m-8.6-7.8v15.6M2076.5 161.1h17.2m-8.6-7.8v15.6M2057.4 145.4h17.2m-8.6-7.8v15.6M2023.9 153.1h17.2m-8.6-7.8v15.6M2049.2 159.7h17.2m-8.6-7.8v15.6M2048.6 138.4h17.2m-8.6-7.8v15.6M2055.5 159.6h17.2m-8.6-7.8v15.6M1995.2 152.7h17.2m-8.6-7.8v15.6M2053.9 154.0h17.2m-8.6-7.8v15.6M1978.6 149.0h17.2m-8.6-7.8v15.6M1975.2 159.5h17.2m-8.6-7.8v15.6M2058.5 167.2h17.2m-8.6-7.8v15.6M1958.3 141.7h17.2m-8.6-7.8v15.6M2023.5 163.9h17.2m-8.6-7.8v15.6M2029.5 146.0h17.2m-8.6-7.8v15.6M1964.6 157.5h17.2m-8.6-7.8v15.6M2010.7 138.2h17.2m-8.6-7.8v15.6M2053.0 143.0h17.2m-8.6-7.8v15.6M1982.2 154.6h17.2m-8.6-7.8v15.6M1958.9 147.9h17.2m-8.6-7.8v15.6M2048.4 163.7h17.2m-8.6-7.8v15.6M1992.5 137.5h17.2m-8.6-7.8v15.6M1979.7 146.5h17.2m-8.6-7.8v15.6M1965.8 154.5h17.2m-8.6-7.8v15.6M2005.0 146.0h17.2m-8.6-7.8v15.6M2015.2 161.3h17.2m-8.6-7.8v15.6M1963.1 150.8h17.2m-8.6-7.8v15.6M2015.7 161.6h17.2m-8.6-7.8v15.6M1963.6 156.0h17.2m-8.6-7.8v15.6M1971.2 143.4h17.2m-8.6-7.8v15.6M1992.1 137.0h17.2m-8.6-7.8v15.6M2054.8 163.3h17.2m-8.6-7.8v15.6M2052.2 157.2h17.2m-8.6-7.8v15.6M1995.5 155.5h17.2m-8.6-7.8v15.6M2004.2 152.2h17.2m-8.6-7.8v15.6M2023.7 166.9h17.2m-8.6-7.8v15.6M2009.2 159.4h17.2m-8.6-7.8v15.6M1969.8 138.4h17.2m-8.6-7.8v15.6M1999.3 153.5h17.2m-8.6-7.8v15.6M2025.6 169.9h17.2m-8.6-7.8v15.6M2042.1 155.0h17.2m-8.6-7.8v15.6M1963.3 153.3h17.2m-8.6-7.8v15.6M1974.5 145.6h17.2m-8.6-7.8v15.6M2048.6 155.5h17.2m-8.6-7.8v15.6M2044.5 138.6h17.2m-8.6-7.8v15.6M1974.1 142.7h17.2m-8.6-7.8v15.6M2062.1 139.7h17.2m-8.6-7.8v15.6M2064.0 171.0h17.2m-8.6-7.8v15.6M2061.5 142.0h17.2m-8.6-7.8v15.6M1999.6 144.3h17.2m-8.6-7.8v15.6M2012.5 157.1h17.2m-8.6-7.8v15.6M2037.3 136.9h17.2m-8.6-7.8v15.6M2026.3 141.8h17.2m-8.6-7.8v15.6M1996.6 150.1h17.2m-8.6-7.8v15.6M2066.4 144.7h17.2m-8.6-7.8v15.6M2009.5 141.2h17.2m-8.6-7.8v15.6M1973.5 152.7h17.2m-8.6-7.8v15.6M2030.7 149.4h17.2m-8.6-7.8v15.6M2029.0 168.9h17.2m-8.6-7.8v15.6M2025.8 144.8h17.2m-8.6-7.8v15.6M2059.6 138.4h17.2m-8.6-7.8v15.6M2043.8 144.0h17.2m-8.6-7.8v15.6M2069.2 153.7h17.2m-8.6-7.8v15.6M1975.3 139.0h17.2m-8.6-7.8v15.6M2019.9 161.3h17.2m-8.6-7.8v15.6M2075.2 142.7h17.2m-8.6-7.8v15.6M2033.7 155.3h17.2m-8.6-7.8v15.6M1975.7 148.4h17.2m-8.6-7.8v15.6M1966.1 151.8h17.2m-8.6-7.8v15.6M2051.5 156.5h17.2m-8.6-7.8v15.6M1963.9 160.2h17.2m-8.6-7.8v15.6M2016.9 142.7h17.2m-8.6-7.8v15.6M1964.0 142.9h17.2m-8.6-7.8v15.6M2003.5 149.3h17.2m-8.6-7.8v15.6M2019.1 146.8h17.2m-8.6-7.8v15.6M1987.2 145.4h17.2m-8.6-7.8v15.6M2016.0 154.6h17.2m-8.6-7.8v15.6M2074.5 158.3h17.2m-8.6-7.8v15.6M2029.3 138.3h17.2m-8.6-7.8v15.6M2038.0 156.0h17.2m-8.6-7.8v15.6M2047.2 159.7h17.2m-8.6-7.8v15.6M2007.0 148.3h17.2m-8.6-7.8v15.6M2051.1 148.8h17.2m-8.6-7.8v15.6M2062.0 170.9h17.2m-8.6-7.8v15.6M2000.6 150.1h17.2m-8.6-7.8v15.6M2052.3 140.8h17.2m-8.6-7.8v15.6M2037.1 156.8h17.2m-8.6-7.8v15.6M2056.7 161.0h17.2m-8.6-7.8v15.6M2044.2 150.9h17.2m-8.6-7.8v15.6M2001.4 154.2h17.2m-8.6-7.8v15.6M2070.9 137.7h17.2m-8.6-7.8v15.6M1962.4 158.5h17.2m-8.6-7.8v15.6M1960.5 166.9h17.2m-8.6-7.8v15.6M1963.4 471.3h17.2m-8.6-7.8v15.6M1995.0 461.0h17.2m-8.6-7.8v15.6M2057.2 452.4h17.2m-8.6-7.8v15.6M1982.2 455.6h17.2m-8.6-7.8v15.6M1980.2 465.2h17.2m-8.6-7.8v15.6M1960.5 458.0h17.2m-8.6-7.8v15.6M1968.2 455.3h17.2m-8.6-7.8v15.6M2041.0 470.0h17.2m-8.6-7.8v15.6M1993.0 467.8h17.2m-8.6-7.8v15.6M2045.5 468.2h17.2m-8.6-7.8v15.6M2073.7 465.3h17.2m-8.6-7.8v15.6M2037.2 461.1h17.2m-8.6-7.8v15.6M2004.0 468.5h17.2m-8.6-7.8v15.6M2059.8 445.4h17.2m-8.6-7.8v15.6M2034.6 464.6h17.2m-8.6-7.8v15.6M1996.4 463.7h17.2m-8.6-7.8v15.6M1972.1 470.3h17.2m-8.6-7.8v15.6M1977.2 462.2h17.2m-8.6-7.8v15.6M2004.1 458.5h17.2m-8.6-7.8v15.6M1981.0 473.3h17.2m-8.6-7.8v15.6M2038.6 457.9h17.2m-8.6-7.8v15.6M2069.9 458.9h17.2m-8.6-7.8v15.6M1989.6 455.0h17.2m-8.6-7.8v15.6M2023.5 472.8h17.2m-8.6-7.8v15.6M1988.3 462.1h17.2m-8.6-7.8v15.6M2052.2 449.4h17.2m-8.6-7.8v15.6M2038.6 467.3h17.2m-8.6-7.8v15.6M1991.2 468.0h17.2m-8.6-7.8v15.6M1975.9 459.7h17.2m-8.6-7.8v15.6M2010.7 458.0h17.2m-8.6-7.8v15.6M2052.6 460.8h17.2m-8.6-7.8v15.6M1986.0 467.5h17.2m-8.6-7.8v15.6M2026.2 448.1h17.2m-8.6-7.8v15.6M2035.0 451.9h17.2m-8.6-7.8v15.6M2019.3 464.8h17.2m-8.6-7.8v15.6M2039.3 454.4h17.2m-8.6-7.8v15.6M2002.8 460.6h17.2m-8.6-7.8v15.6M1968.3 464.9h17.2m-8.6-7.8v15.6M2011.9 464.0h17.2m-8.6-7.8v15.6M2068.8 437.6h17.2m-8.6-7.8v15.6M2040.6 467.5h17.2m-8.6-7.8v15.6M2033.9 465.6h17.2m-8.6-7.8v15.6M2053.2 442.5h17.2m-8.6-7.8v15.6M1972.9 460.4h17.2m-8.6-7.8v15.6M2038.9 467.2h17.2m-8.6-7.8v15.6M2028.5 454.5h17.2m-8.6-7.8v15.6M1968.9 466.4h17.2m-8.6-7.8v15.6M2005.6 458.2h17.2m-8.6-7.8v15.6M2004.7 465.9h17.2m-8.6-7.8v15.6M2067.5 450.8h17.2m-8.6-7.8v15.6M1996.6 463.6h17.2m-8.6-7.8v15.6M1957.7 461.5h17.2m-8.6-7.8v15.6M2012.4 457.1h17.2m-8.6-7.8v15.6M2039.1 467.8h17.2m-8.6-7.8v15.6M2045.7 470.8h17.2m-8.6-7.8v15.6M1965.1 472.3h17.2m-8.6-7.8v15.6M1958.4 467.5h17.2m-8.6-7.8v15.6M2035.6 455.7h17.2m-8.6-7.8v15.6M2043.9 447.9h17.2m-8.6-7.8v15.6M2056.7 453.8h17.2m-8.6-7.8v15.6M1970.6 460.9h17.2m-8.6-7.8v15.6M2007.6 450.7h17.2m-8.6-7.8v15.6M1982.8 465.1h17.2m-8.6-7.8v15.6M2030.7 459.1h17.2m-8.6-7.8v15.6M1958.3 462.7h17.2m-8.6-7.8v15.6M1999.4 459.8h17.2m-8.6-7.8v15.6M2070.6 450.5h17.2m-8.6-7.8v15.6M2045.6 465.5h17.2m-8.6-7.8v15.6M1986.8 464.8h17.2m-8.6-7.8v15.6M1980.2 455.3h17.2m-8.6-7.8v15.6M1978.9 474.8h17.2m-8.6-7.8v15.6M2016.5 456.9h17.2m-8.6-7.8v15.6M2019.1 451.2h17.2m-8.6-7.8v15.6M2019.0 466.1h17.2m-8.6-7.8v15.6M2054.1 447.2h17.2m-8.6-7.8v15.6M2000.8 461.6h17.2m-8.6-7.8v15.6M2041.4 467.1h17.2m-8.6-7.8v15.6M2013.5 458.6h17.2m-8.6-7.8v15.6M1994.4 468.8h17.2m-8.6-7.8v15.6M2044.2 456.7h17.2m-8.6-7.8v15.6M1965.8 460.5h17.2m-8.6-7.8v15.6M2062.7 439.3h17.2m-8.6-7.8v15.6M2065.2 465.0h17.2m-8.6-7.8v15.6M2054.1 445.4h17.2m-8.6-7.8v15.6M2059.0 461.3h17.2m-8.6-7.8v15.6M2055.0 439.8h17.2m-8.6-7.8v15.6M2038.2 459.4h17.2m-8.6-7.8v15.6M1992.0 462.7h17.2m-8.6-7.8v15.6M2039.1 458.9h17.2m-8.6-7.8v15.6M1978.6 453.1h17.2m-8.6-7.8v15.6M1998.0 452.8h17.2m-8.6-7.8v15.6M1961.5 467.6h17.2m-8.6-7.8v15.6M2067.8 451.4h17.2m-8.6-7.8v15.6M2075.6 459.0h17.2m-8.6-7.8v15.6M2048.1 456.1h17.2m-8.6-7.8v15.6M1997.8 472.2h17.2m-8.6-7.8v15.6M2042.8 473.4h17.2m-8.6-7.8v15.6M1970.6 461.7h17.2m-8.6-7.8v15.6M2039.3 466.6h17.2m-8.6-7.8v15.6M1977.1 457.3h17.2m-8.6-7.8v15.6M1958.9 469.7h17.2m-8.6-7.8v15.6M2069.7 443.3h17.2m-8.6-7.8v15.6M2016.7 474.0h17.2m-8.6-7.8v15.6M2011.9 467.4h17.2m-8.6-7.8v15.6M2023.9 468.7h17.2m-8.6-7.8v15.6M2069.0 461.0h17.2m-8.6-7.8v15.6M2018.8 458.1h17.2m-8.6-7.8v15.6M1987.6 453.2h17.2m-8.6-7.8v15.6M2054.6 441.9h17.2m-8.6-7.8v15.6M2037.8 462.6h17.2m-8.6-7.8v15.6M2074.5 450.6h17.2m-8.6-7.8v15.6M1966.4 457.7h17.2m-8.6-7.8v15.6M1993.7 470.8h17.2m-8.6-7.8v15.6M1993.4 468.7h17.2m-8.6-7.8v15.6M1976.2 468.2h17.2m-8.6-7.8v15.6M2061.4 449.3h17.2m-8.6-7.8v15.6M2054.4 451.7h17.2m-8.6-7.8v15.6M2054.4 442.4h17.2m-8.6-7.8v15.6M1994.2 455.4h17.2m-8.6-7.8v15.6M2038.3 466.0h17.2m-8.6-7.8v15.6M1966.1 455.9h17.2m-8.6-7.8v15.6M2002.9 464.9h17.2m-8.6-7.8v15.6M2030.1 470.9h17.2m-8.6-7.8v15.6M2055.2 453.8h17.2m-8.6-7.8v15.6M1986.2 468.7h17.2m-8.6-7.8v15.6M2020.6 461.3h17.2m-8.6-7.8v15.6M1977.0 457.7h17.2m-8.6-7.8v15.6M1963.1 467.2h17.2m-8.6-7.8v15.6M2063.0 438.8h17.2m-8.6-7.8v15.6M2042.6 448.4h17.2m-8.6-7.8v15.6M2024.1 468.1h17.2m-8.6-7.8v15.6M2031.9 472.4h17.2m-8.6-7.8v15.6M2032.0 453.9h17.2m-8.6-7.8v15.6M1963.4 455.6h17.2m-8.6-7.8v15.6M1966.0 458.8h17.2m-8.6-7.8v15.6M2028.3 469.8h17.2m-8.6-7.8v15.6M2040.2 468.2h17.2m-8.6-7.8v15.6M1994.6 465.7h17.2m-8.6-7.8v15.6M1980.5 470.7h17.2m-8.6-7.8v15.6M2012.1 455.2h17.2m-8.6-7.8v15.6M2009.1 465.8h17.2m-8.6-7.8v15.6M2012.1 465.0h17.2m-8.6-7.8v15.6M1988.1 457.4h17.2m-8.6-7.8v15.6M1997.0 464.2h17.2m-8.6-7.8v15.6M2036.5 468.1h17.2m-8.6-7.8v15.6M2002.4 470.1h17.2m-8.6-7.8v15.6M2047.1 447.3h17.2m-8.6-7.8v15.6M1998.4 461.0h17.2m-8.6-7.8v15.6M1968.1 462.8h17.2m-8.6-7.8v15.6M1995.7 463.4h17.2m-8.6-7.8v15.6M2064.8 437.8h17.2m-8.6-7.8v15.6M2077.0 464.7h17.2m-8.6-7.8v15.6M2065.6 434.8h17.2m-8.6-7.8v15.6M1980.9 458.5h17.2m-8.6-7.8v15.6M2012.3 458.0h17.2m-8.6-7.8v15.6M1985.5 462.9h17.2m-8.6-7.8v15.6M2069.8 458.3h17.2m-8.6-7.8v15.6M2032.3 467.8h17.2m-8.6-7.8v15.6M2016.1 472.2h17.2m-8.6-7.8v15.6M2061.1 436.5h17.2m-8.6-7.8v15.6M1996.0 467.9h17.2m-8.6-7.8v15.6M2012.0 465.5h17.2m-8.6-7.8v15.6M2004.8 452.2h17.2m-8.6-7.8v15.6M2031.7 473.3h17.2m-8.6-7.8v15.6M2066.2 468.4h17.2m-8.6-7.8v15.6M2028.1 463.1h17.2m-8.6-7.8v15.6M2050.8 469.6h17.2m-8.6-7.8v15.6M2061.3 441.9h17.2m-8.6-7.8v15.6M1959.5 469.5h17.2m-8.6-7.8v15.6M2028.5 455.6h17.2m-8.6-7.8v15.6M1899.5 146.7h17.2m-8.6-7.8v15.6M1929.1 146.9h17.2m-8.6-7.8v15.6M1922.8 143.8h17.2m-8.6-7.8v15.6M1875.6 165.1h17.2m-8.6-7.8v15.6M1900.9 151.4h17.2m-8.6-7.8v15.6M1927.3 153.9h17.2m-8.6-7.8v15.6M1925.1 145.8h17.2m-8.6-7.8v15.6M1912.7 139.7h17.2m-8.6-7.8v15.6M1881.6 150.4h17.2m-8.6-7.8v15.6M1942.1 161.4h17.2m-8.6-7.8v15.6M1939.1 147.2h17.2m-8.6-7.8v15.6M1901.9 145.8h17.2m-8.6-7.8v15.6M1891.3 139.6h17.2m-8.6-7.8v15.6M1885.6 146.5h17.2m-8.6-7.8v15.6M1898.4 148.0h17.2m-8.6-7.8v15.6M1914.5 150.6h17.2m-8.6-7.8v15.6M1949.6 170.9h17.2m-8.6-7.8v15.6M1908.2 146.5h17.2m-8.6-7.8v15.6M1909.3 139.5h17.2m-8.6-7.8v15.6M1930.9 139.9h17.2m-8.6-7.8v15.6M1872.6 149.9h17.2m-8.6-7.8v15.6M1904.0 150.5h17.2m-8.6-7.8v15.6M1880.5 161.3h17.2m-8.6-7.8v15.6M1915.4 152.6h17.2m-8.6-7.8v15.6M1942.2 175.0h17.2m-8.6-7.8v15.6M1910.2 155.2h17.2m-8.6-7.8v15.6M1933.5 169.7h17.2m-8.6-7.8v15.6M1920.7 150.7h17.2m-8.6-7.8v15.6M1947.5 137.7h17.2m-8.6-7.8v15.6M1911.0 138.0h17.2m-8.6-7.8v15.6M1955.9 158.7h17.2m-8.6-7.8v15.6M1882.9 154.7h17.2m-8.6-7.8v15.6M1938.8 138.1h17.2m-8.6-7.8v15.6M1922.2 148.5h17.2m-8.6-7.8v15.6M1913.4 142.5h17.2m-8.6-7.8v15.6M1949.4 142.4h17.2m-8.6-7.8v15.6M1953.1 151.9h17.2m-8.6-7.8v15.6M1929.2 159.5h17.2m-8.6-7.8v15.6M1953.6 147.1h17.2m-8.6-7.8v15.6M1874.8 153.6h17.2m-8.6-7.8v15.6M1913.0 147.9h17.2m-8.6-7.8v15.6M1909.5 152.5h17.2m-8.6-7.8v15.6M1921.8 140.5h17.2m-8.6-7.8v15.6M1911.5 138.5h17.2m-8.6-7.8v15.6M1875.3 150.3h17.2m-8.6-7.8v15.6M1901.1 145.1h17.2m-8.6-7.8v15.6M1872.7 166.8h17.2m-8.6-7.8v15.6M1951.0 162.2h17.2m-8.6-7.8v15.6M1890.5 142.4h17.2m-8.6-7.8v15.6M1899.4 137.5h17.2m-8.6-7.8v15.6M1932.2 165.4h17.2m-8.6-7.8v15.6M1908.5 144.1h17.2m-8.6-7.8v15.6M1943.5 157.1h17.2m-8.6-7.8v15.6M1941.8 170.5h17.2m-8.6-7.8v15.6M1939.1 166.8h17.2m-8.6-7.8v15.6M1946.9 139.7h17.2m-8.6-7.8v15.6M1922.3 147.8h17.2m-8.6-7.8v15.6M1877.4 148.0h17.2m-8.6-7.8v15.6M1898.5 149.4h17.2m-8.6-7.8v15.6M1902.9 147.0h17.2m-8.6-7.8v15.6M1910.5 143.3h17.2m-8.6-7.8v15.6M1939.4 164.3h17.2m-8.6-7.8v15.6M1900.7 159.5h17.2m-8.6-7.8v15.6M1908.5 140.5h17.2m-8.6-7.8v15.6M1877.6 140.2h17.2m-8.6-7.8v15.6M1903.0 149.4h17.2m-8.6-7.8v15.6M1946.9 150.2h17.2m-8.6-7.8v15.6M1879.0 165.4h17.2m-8.6-7.8v15.6M1873.8 162.1h17.2m-8.6-7.8v15.6M1902.2 147.6h17.2m-8.6-7.8v15.6M1927.9 458.3h17.2m-8.6-7.8v15.6M1909.3 451.5h17.2m-8.6-7.8v15.6M1936.2 465.5h17.2m-8.6-7.8v15.6M1952.8 468.4h17.2m-8.6-7.8v15.6M1901.8 451.1h17.2m-8.6-7.8v15.6M1941.8 471.4h17.2m-8.6-7.8v15.6M1955.6 458.2h17.2m-8.6-7.8v15.6M1862.0 444.1h17.2m-8.6-7.8v15.6M1922.3 455.0h17.2m-8.6-7.8v15.6M1936.7 456.2h17.2m-8.6-7.8v15.6M1886.0 471.4h17.2m-8.6-7.8v15.6M1922.1 456.3h17.2m-8.6-7.8v15.6M1946.3 464.8h17.2m-8.6-7.8v15.6M1948.8 458.0h17.2m-8.6-7.8v15.6M1923.7 455.0h17.2m-8.6-7.8v15.6M1873.5 448.1h17.2m-8.6-7.8v15.6M1871.3 447.7h17.2m-8.6-7.8v15.6M1898.7 471.9h17.2m-8.6-7.8v15.6M1879.0 452.5h17.2m-8.6-7.8v15.6M1944.6 471.3h17.2m-8.6-7.8v15.6M1887.6 451.1h17.2m-8.6-7.8v15.6M1912.6 464.8h17.2m-8.6-7.8v15.6M1911.2 454.3h17.2m-8.6-7.8v15.6M1880.4 470.9h17.2m-8.6-7.8v15.6M1954.9 463.3h17.2m-8.6-7.8v15.6M1862.2 459.3h17.2m-8.6-7.8v15.6M1879.3 466.2h17.2m-8.6-7.8v15.6M1921.6 461.4h17.2m-8.6-7.8v15.6M1892.0 473.9h17.2m-8.6-7.8v15.6M1890.3 457.7h17.2m-8.6-7.8v15.6M1880.5 448.9h17.2m-8.6-7.8v15.6M1905.9 446.9h17.2m-8.6-7.8v15.6M1944.4 471.1h17.2m-8.6-7.8v15.6M1862.8 468.6h17.2m-8.6-7.8v15.6M1891.7 453.9h17.2m-8.6-7.8v15.6M1901.9 466.7h17.2m-8.6-7.8v15.6M1869.2 467.3h17.2m-8.6-7.8v15.6M1914.0 458.0h17.2m-8.6-7.8v15.6M1867.8 471.4h17.2m-8.6-7.8v15.6M1905.9 463.8h17.2m-8.6-7.8v15.6M1886.5 475.2h17.2m-8.6-7.8v15.6M1926.0 465.0h17.2m-8.6-7.8v15.6M1934.3 469.5h17.2m-8.6-7.8v15.6M1909.6 453.7h17.2m-8.6-7.8v15.6M1935.9 452.2h17.2m-8.6-7.8v15.6M1874.3 465.6h17.2m-8.6-7.8v15.6M1887.0 462.7h17.2m-8.6-7.8v15.6M1931.8 457.3h17.2m-8.6-7.8v15.6M1902.2 469.2h17.2m-8.6-7.8v15.6M1921.9 469.1h17.2m-8.6-7.8v15.6M1917.4 467.2h17.2m-8.6-7.8v15.6M1899.2 448.0h17.2m-8.6-7.8v15.6M1884.1 450.5h17.2m-8.6-7.8v15.6M1928.1 462.5h17.2m-8.6-7.8v15.6M1908.2 473.1h17.2m-8.6-7.8v15.6M1861.6 463.8h17.2m-8.6-7.8v15.6M1894.4 474.5h17.2m-8.6-7.8v15.6M1933.8 473.4h17.2m-8.6-7.8v15.6M1937.9 458.0h17.2m-8.6-7.8v15.6M1881.7 449.4h17.2m-8.6-7.8v15.6M1880.3 452.0h17.2m-8.6-7.8v15.6M1930.7 463.0h17.2m-8.6-7.8v15.6M1898.2 468.1h17.2m-8.6-7.8v15.6M1946.4 461.4h17.2m-8.6-7.8v15.6M1932.4 464.7h17.2m-8.6-7.8v15.6M1892.5 458.9h17.2m-8.6-7.8v15.6M1876.6 448.8h17.2m-8.6-7.8v15.6M1898.6 470.7h17.2m-8.6-7.8v15.6M1882.8 466.5h17.2m-8.6-7.8v15.6M1888.9 449.9h17.2m-8.6-7.8v15.6M1526.6 144.7h17.2m-8.6-7.8v15.6M1461.1 153.0h17.2m-8.6-7.8v15.6M1506.3 156.7h17.2m-8.6-7.8v15.6M1530.9 155.4h17.2m-8.6-7.8v15.6M1521.5 151.8h17.2m-8.6-7.8v15.6M1475.7 145.5h17.2m-8.6-7.8v15.6M1522.9 138.1h17.2m-8.6-7.8v15.6M1461.2 149.3h17.2m-8.6-7.8v15.6M1488.5 152.5h17.2m-8.6-7.8v15.6M1452.6 145.6h17.2m-8.6-7.8v15.6M1506.6 151.5h17.2m-8.6-7.8v15.6M1519.9 155.9h17.2m-8.6-7.8v15.6M1515.7 146.1h17.2m-8.6-7.8v15.6M1501.7 149.0h17.2m-8.6-7.8v15.6M1440.0 139.8h17.2m-8.6-7.8v15.6M1440.7 153.6h17.2m-8.6-7.8v15.6M1464.4 140.1h17.2m-8.6-7.8v15.6M1466.4 151.5h17.2m-8.6-7.8v15.6M1463.6 141.8h17.2m-8.6-7.8v15.6M1466.5 144.8h17.2m-8.6-7.8v15.6M1474.0 148.9h17.2m-8.6-7.8v15.6M1452.4 145.6h17.2m-8.6-7.8v15.6M1532.0 152.3h17.2m-8.6-7.8v15.6M1424.5 143.7h17.2m-8.6-7.8v15.6M1432.0 144.5h17.2m-8.6-7.8v15.6M1472.3 148.8h17.2m-8.6-7.8v15.6M1498.8 140.6h17.2m-8.6-7.8v15.6M1425.2 140.2h17.2m-8.6-7.8v15.6M1414.1 146.1h17.2m-8.6-7.8v15.6M1490.9 156.6h17.2m-8.6-7.8v15.6M1445.0 155.4h17.2m-8.6-7.8v15.6M1519.0 145.1h17.2m-8.6-7.8v15.6M1430.5 139.4h17.2m-8.6-7.8v15.6M1429.6 150.7h17.2m-8.6-7.8v15.6M1422.7 141.3h17.2m-8.6-7.8v15.6M1528.0 153.2h17.2m-8.6-7.8v15.6M1433.9 145.6h17.2m-8.6-7.8v15.6M1419.1 148.6h17.2m-8.6-7.8v15.6M1413.5 149.9h17.2m-8.6-7.8v15.6M1480.1 138.5h17.2m-8.6-7.8v15.6M1424.4 143.6h17.2m-8.6-7.8v15.6M1476.6 155.6h17.2m-8.6-7.8v15.6M1455.8 155.7h17.2m-8.6-7.8v15.6M1479.0 138.1h17.2m-8.6-7.8v15.6M1512.3 144.7h17.2m-8.6-7.8v15.6M1489.9 156.7h17.2m-8.6-7.8v15.6M1476.7 150.8h17.2m-8.6-7.8v15.6M1441.5 139.3h17.2m-8.6-7.8v15.6M1476.6 154.2h17.2m-8.6-7.8v15.6M1469.1 138.2h17.2m-8.6-7.8v15.6M1467.5 469.6h17.2m-8.6-7.8v15.6M1434.7 460.8h17.2m-8.6-7.8v15.6M1510.2 466.8h17.2m-8.6-7.8v15.6M1428.6 473.0h17.2m-8.6-7.8v15.6M1416.0 461.8h17.2m-8.6-7.8v15.6M1462.3 463.6h17.2m-8.6-7.8v15.6M1528.9 470.3h17.2m-8.6-7.8v15.6M1448.2 462.4h17.2m-8.6-7.8v15.6M1438.8 465.2h17.2m-8.6-7.8v15.6M1500.3 464.5h17.2m-8.6-7.8v15.6M1441.7 467.9h17.2m-8.6-7.8v15.6M1465.5 466.7h17.2m-8.6-7.8v15.6M1498.6 462.5h17.2m-8.6-7.8v15.6M1488.1 461.8h17.2m-8.6-7.8v15.6M1467.2 466.0h17.2m-8.6-7.8v15.6M1453.4 473.3h17.2m-8.6-7.8v15.6M1470.0 469.5h17.2m-8.6-7.8v15.6M1509.0 467.6h17.2m-8.6-7.8v15.6M1486.0 472.9h17.2m-8.6-7.8v15.6M1502.3 471.2h17.2m-8.6-7.8v15.6M1435.9 469.1h17.2m-8.6-7.8v15.6M1419.6 462.2h17.2m-8.6-7.8v15.6M1417.7 468.0h17.2m-8.6-7.8v15.6M1510.1 461.7h17.2m-8.6-7.8v15.6M1501.1 470.7h17.2m-8.6-7.8v15.6M1437.7 467.4h17.2m-8.6-7.8v15.6M1416.6 465.3h17.2m-8.6-7.8v15.6M1454.0 466.1h17.2m-8.6-7.8v15.6M1478.7 463.5h17.2m-8.6-7.8v15.6M1488.8 473.3h17.2m-8.6-7.8v15.6M1517.3 460.5h17.2m-8.6-7.8v15.6M1430.9 465.3h17.2m-8.6-7.8v15.6M1532.0 473.5h17.2m-8.6-7.8v15.6M1494.8 462.7h17.2m-8.6-7.8v15.6M1466.2 467.3h17.2m-8.6-7.8v15.6M1494.6 462.3h17.2m-8.6-7.8v15.6M1436.4 462.6h17.2m-8.6-7.8v15.6M1527.5 470.7h17.2m-8.6-7.8v15.6M1465.9 466.3h17.2m-8.6-7.8v15.6M1487.8 471.7h17.2m-8.6-7.8v15.6M1429.5 472.5h17.2m-8.6-7.8v15.6M1431.6 461.8h17.2m-8.6-7.8v15.6M1417.7 460.3h17.2m-8.6-7.8v15.6M1472.4 462.2h17.2m-8.6-7.8v15.6M1412.5 462.8h17.2m-8.6-7.8v15.6M1488.1 462.6h17.2m-8.6-7.8v15.6M1455.6 471.3h17.2m-8.6-7.8v15.6M1412.5 474.3h17.2m-8.6-7.8v15.6M1442.7 463.0h17.2m-8.6-7.8v15.6M1505.7 466.1h17.2m-8.6-7.8v15.6M1518.4 462.9h17.2m-8.6-7.8v15.6M1502.4 461.4h17.2m-8.6-7.8v15.6M1473.2 462.0h17.2m-8.6-7.8v15.6M1428.7 463.6h17.2m-8.6-7.8v15.6M1516.4 461.0h17.2m-8.6-7.8v15.6M1425.5 470.3h17.2m-8.6-7.8v15.6M1436.4 462.9h17.2m-8.6-7.8v15.6M1468.6 467.2h17.2m-8.6-7.8v15.6M1468.6 472.4h17.2m-8.6-7.8v15.6M1419.0 465.7h17.2m-8.6-7.8v15.6" stroke="#00f" stroke-width="4.3" fill="none"/>
<path d="M1329.5 133.7H1371.2M1396.2 133.7H1437.8M1462.8 133.7H1504.5M1529.5 133.7H1571.2M1596.2 133.7H1637.9M1662.8 133.7H1704.5M1729.5 133.7H1771.2M1796.2 133.7H1837.9M1862.9 133.7H1904.5M1929.5 133.7H1971.2M1996.2 133.7H2037.9M2062.9 133.7H2086.5" stroke="#f0f" stroke-width="2.3" fill="none" stroke-linejoin="round" />
<rect x="1474.5" y="312.6" width="595.8" height="120.5" fill="none" stroke="#262626" stroke-width="2.1"/>
<path d="M1545.4 346.5h17.2M1554 338.7v15.6" stroke="#00f" stroke-width="4.3" fill="none"/>
<text x="1628.9" y="357.6" font-size="37.45" fill="#000">Heading (° M)</text>
<path d="M1491.5 399.4h41.7m25 0h41.7" stroke="#f0f" stroke-width="2.2" fill="none"/>
<text x="1628.9" y="412.5" font-size="37.45" fill="#000">Desired Heading (° M)</text>
</g>
<g id="ax3">
<path d="M563.6 654.5V990.3M823.5 654.5V990.3M1083.4 654.5V990.3" stroke="#262626" stroke-opacity="0.14" stroke-width="2.2" fill="none"/>
<path d="M314.1 1000.6H1083.4M314.1 974H1083.4M314.1 947.4H1083.4M314.1 920.7H1083.4M314.1 894.1H1083.4M314.1 867.5H1083.4M314.1 840.9H1083.4M314.1 814.2H1083.4M314.1 787.6H1083.4M314.1 761H1083.4M314.1 734.4H1083.4M314.1 707.7H1083.4M314.1 681.1H1083.4M314.1 654.5H1083.4" stroke="#262626" stroke-opacity="0.17" stroke-width="2.2" fill="none"/>
<path d="M304.5 1000.6H1083.4" stroke="#262626" stroke-width="2.2" fill="none" stroke-linecap="round"/>
<path d="M304.5 654.5V1000.6" stroke="#000000" stroke-width="2.2" fill="none" stroke-linecap="round"/>
<path d="M304.5 1000.6v-8.1M563.6 1000.6v-8.1M823.5 1000.6v-8.1M1083.4 1000.6v-8.1" stroke="#262626" stroke-width="2.2" fill="none" stroke-linecap="round"/>
<path d="M304.5 1000.6h7.0M304.5 974h7.0M304.5 947.4h7.0M304.5 920.7h7.0M304.5 894.1h7.0M304.5 867.5h7.0M304.5 840.9h7.0M304.5 814.2h7.0M304.5 787.6h7.0M304.5 761h7.0M304.5 734.4h7.0M304.5 707.7h7.0M304.5 681.1h7.0M304.5 654.5h7.0" stroke="#000000" stroke-width="2.2" fill="none" stroke-linecap="round"/>
<g font-size="41.75" fill="#262626" text-anchor="middle">
<text x="303.6" y="1058.2">0</text>
<text x="562.7" y="1058.2">100</text>
<text x="822.6" y="1058.2">200</text>
<text x="1082.5" y="1058.2">300</text>
<text x="692" y="1117.4">Time (minutes)</text>
<text transform="translate(192 827.5) rotate(-90)" fill="#000000">Pitch</text>
</g>
<g font-size="41.75" fill="#000000" text-anchor="end">
<text x="284.7" y="1015.5">-90</text>
<text x="284.7" y="988.9">-80</text>
<text x="284.7" y="962.3">-70</text>
<text x="284.7" y="935.6">-60</text>
<text x="284.7" y="909">-50</text>
<text x="284.7" y="882.4">-40</text>
<text x="284.7" y="855.8">-30</text>
<text x="284.7" y="829.1">-20</text>
<text x="284.7" y="802.5">-10</text>
<text x="286.6" y="775.9">0</text>
<text x="286.6" y="749.3">10</text>
<text x="286.6" y="722.6">20</text>
<text x="286.6" y="696">30</text>
<text x="286.6" y="669.4">40</text>
</g>
<path d="M305.2 984L307.4 950L305 983L307.4 940L305.1 980L307.5 946L305.2 982L307.5 938L305.1 976L307.5 944L305.1 970L307.6 937L304.9 960L307.3 936L307.3 900L307.6 850L307.9 838L308.3 826L308.8 845L309.3 822L309.8 843L310.3 820.5L310.8 840L311.4 828L312 842L312.6 830L313 843.4L314.2 830.2L315.5 846.2L316.8 828.8L318 846.6L319.2 829.8L320.5 844L321.8 829.8L323 842.4L324.2 832L325.5 841.7L326.8 829.8L328 844L329.2 830.1L330.5 842.3L331.8 832.4L333 837.9L334.2 829.2L335.5 840.9L336.8 832.6L338 837.5L339.2 831.4L340.5 836L341.8 832.7L342 833.8L342.7 832.7L343.4 831.9L344.1 831.3L344.8 832L345.5 833.1L346.2 832.9L346.9 832.6L347.6 832.7L348.3 832.7L349 832L349.7 831.7L350.4 832.1L351.1 831.7L351.8 831.8L352.5 832.5L353.2 833.4L353.9 832L354.6 832.2L355.3 833.4L356 833.4L356.7 833L357.4 833.2L358.1 833.7L358.8 834.5L359.5 833.7L360.2 832.4L360.9 832.8L361.6 833.9L362.3 833.6L363 833.6L363.7 833.8L364.4 833.4L365.1 833.7L365.8 834.1L366.5 833.2L367.2 832.8L367.9 834L368.6 833.7L369.3 834.3L370 834L370.7 835.1L371.4 836.1L372.1 836L372.8 836.1L373.5 835.6L374.2 834.8L374.9 834.6L375.6 834.6L376.3 835.2L377 835.5L377.7 834.9L378.4 835.2L379.1 836L379.8 836.1L380.5 836.7L381.2 833.2L381.9 832.8L382.6 833.2L383.3 833.2L384 833.4L384.7 834L385.4 833.9L386.1 833.9L386.8 834L387.5 833.4L388.2 833.5L388.9 832.8L389.6 833L390.3 833.5L391 832.5L391.7 832.2L392.4 833L393.1 832.8L393.8 832.6L394.5 834.5L395.2 835.2L395.9 835.6L396.6 834.8L397.3 835.1L398 835.1L398.7 834.5L399.4 835.2L400.1 834.2L400.8 833.3L401.5 833.8L402.2 834.4L402.9 834.5L403.6 834.7L404.3 834L405 832.6L405.7 832.8L406.4 834.1L407.1 835L407.8 833.4L408.5 832.9L409.2 833L409.9 832.8L410.6 832.5L411.3 832.7L412 832.2L412.7 831.3L413.4 832.7L414.1 833.9L414.8 833.3L415.5 833.1L416.2 833.4L416.9 832.9L417.6 832.1L418.3 832.5L419 832.2L419.7 832.5L420.4 833.1L421.1 832.2L421.8 834.5L422.5 834.6L423.2 834.4L423.9 834.6L424.6 835L425.3 835.3L426 834.6L426.7 834.6L427.4 834.8L428.1 833.6L428.8 833.9L429.5 833.9L430.2 833.5L430.9 834.7L431.6 835.5L432.3 834.8L433 833.9L433.7 834L434.4 833.2L435.1 832.3L435.8 832.9L436.5 832.6L437.2 832.9L437.9 832.8L438.6 833.8L439.3 833.6L440 833.8L440.7 833.1L441.4 832.4L442.1 832.3L442.8 831.4L443.5 831.6L444.2 831.7L444.9 831.5L445.6 832.2L446.3 832.3L447 831.8L447.7 831.9L448.4 832.7L449.1 833.8L449.8 834.8L450.5 834.5L451.2 833.5L451.9 832.6L452.6 832.9L453.3 833L454 832.9L454.7 832.7L455.4 833.5L456.1 834L456.8 833.9L457.5 834.3L458.2 833.4L458.9 832.3L459.6 833.5L460.3 834.3L461 834.2L461.7 833.9L462.4 831.3L463.1 831.2L463.8 830.5L464.5 830.3L465.2 829.5L465.9 829.8L466.6 830.7L467.3 830.7L468 831.7L468.7 832.1L469.4 831.1L470.1 831.4L470.8 831.5L471.5 831.6L472.2 831.3L472.9 830.9L473.6 831.9L474.3 831.5L475 830.6L475.7 833.4L476.4 833.1L477.1 831.9L477.8 832.7L478.5 834L479.2 834.2L479.9 833.7L480.6 832.9L481.3 832.9L482 832.6L482.7 831.6L483.4 831.5L484.1 832.9L484.8 833.1L485.5 831.2L486.2 830.9L486.9 832.2L487.6 832.6L488.3 832.5L489 830.7L489.7 830.6L490.4 831.7L491.1 831.4L491.8 831.5L492.5 831.2L493.2 830.9L493.9 831.3L494.6 831.4L495.3 831.3L496 831.7L496.7 831.3L497.4 830.5L498.1 830.5L498.8 830.8L499.5 830.6L500.2 830.2L500.9 830.5L501.6 829.9L502.3 832L503 832.1L503.7 832.3L504.4 832.7L505.1 833.3L505.8 833L506.5 831.6L507.2 831.9L507.9 832.6L508.6 832.6L509.3 832.6L510 833L510.7 832.7L511.4 831.3L512.1 831.5L512.8 832.7L513.5 832.5L514.2 831.9L514.9 831.6L515.6 832.1L516.3 829.7L517 829.7L517.7 829.8L518.4 829.8L519.1 829.6L519.8 830L520.5 829.9L521.2 828.2L521.9 829.3L522.6 830.2L523.3 829.8L524 830.1L524.7 830.1L525.4 829.7L526.1 829.8L526.8 830.5L527.5 830.1L528.2 830.8L528.9 831.5L529.6 832.3L530.3 832L531 833L531.7 831.9L532.4 830.8L533.1 831.3L533.8 831.6L534.5 831.8L535.2 832.3L535.9 831.1L536.6 829.9L537.3 830.8L538 831.7L538.7 832.4L539.4 831.8L540.1 831.5L540.8 831.7L541.5 831.3L542.2 831.4L542.9 830.2L543.6 831.1L544.3 831.9L545 830.8L545.7 830.4L546.4 831.4L547.1 831L547.8 829.5L548.5 829.6L549.2 830.7L549.9 829.8L550.6 829L551.3 829.3L552 829.4L552.7 828.9L553.4 828.3L554.1 830.2L554.8 830.4L555.5 828.7L556.2 829.3L556.9 831.5L557.6 831.5L558.3 832.6L559 832.6L559.7 831.7L560.4 831L561.1 832.1L561.8 832.6L562.5 832.4L563.2 832.6L563.9 831.8L564.6 831.4L565.3 831.1L566 831L566.7 831L567.4 831.6L568.1 832.4L568.8 832.4L569.5 832.5L570.2 829.5L570.9 828.7L571.6 828.6L572.3 829.6L573 830.2L573.7 829.7L574.4 830L575.1 829.4L575.8 828.8L576.5 830L577.2 829.4L577.9 828.2L578.6 829.6L579.3 830.1L580 828.3L580.7 827.9L581.4 829.8L582.1 830.6L582.8 829.9L583.5 830.4L584.2 830.1L584.9 830.4L585.6 830L586.3 831L587 831.9L587.7 830.8L588.4 830L589.1 829.7L589.8 831.2L590.5 831.7L591.2 831.5L591.9 830.8L592.6 829.5L593.3 830.6L594 831L594.7 832.7L595.4 832.5L596.1 831.1L596.8 829.2L597.5 828.8L598.2 828.5L598.9 829.1L599.6 829.3L600.3 828.8L601 829.3L601.7 829.3L602.4 829L603.1 828.7L603.8 829.2L604.5 829.4L605.2 828.9L605.9 828.7L606.6 828.2L607.3 827.8L608 829.6L608.7 830.4L609.4 828.4L610.1 827.4L610.8 829.8L611.5 829.9L612.2 829.8L612.9 830.4L613.6 830.2L614.3 829.6L615 830.1L615.7 830.1L616.4 830.3L617.1 830.7L617.8 830.8L618.5 831.2L619.2 831.6L619.9 831.4L620.6 830L621.3 828.8L622 829.6L622.7 830.5L623.4 830.1L624.1 828.8L624.8 828.9L625.5 827.6L626.2 827.8L626.9 829.1L627.6 830L628.3 830.7L629 829.7L629.7 829.1L630.4 829.3L631.1 829.2L631.8 828.6L632.5 827.6L633.2 828.3L633.9 829.2L634.6 828L635.3 828L636 828.5L636.7 828.1L637.4 830L638.1 829.9L638.8 829.5L639.5 830.1L640.2 829.8L640.9 830.2L641.6 829.9L642.3 828.8L643 830L643.7 829.7L644.4 829.6L645.1 830.3L645.8 829.8L646.5 830L647.2 830.2L647.9 830.3L648.6 830.8L649.3 830.9L650 830.6L650.7 830.2L651.4 827.3L652.1 827.5L652.8 827.6L653.5 827.7L654.2 827.5L654.9 827.2L655.6 826.7L656.3 827.4L657 829.1L657.7 828.7L658.4 827.9L659.1 828L659.8 828.2L660.5 826.9L661.2 826.4L661.9 827.4L662.6 827.9L663.3 827.7L664 827.4L664.7 829.8L665.4 829.8L666.1 829.8L666.8 830.5L667.5 829.9L668.2 830.6L668.9 830.9L669.6 830.5L670.3 830.8L671 829.6L671.7 828.8L672.4 828.3L673.1 828.8L673.8 829.7L674.5 828.7L675.2 828.3L675.9 829L676.6 830.1L677.3 829.5L678 827.4L678.7 827.5L679.4 828.3L680.1 828.9L680.8 827.6L681.5 827.4L682.2 828.4L682.4 828L682.9 770L683.3 745L683.6 752L684 700L684.4 672L684.8 655L685.3 654.6L686 655L686.6 661L687.2 667L687.8 664L688.4 668L689 690L689.3 664L689.9 663.5L690.4 696L690.9 690L691.4 692.2L692.1 692L692.8 694.2L693.5 693.3L694.2 691.4L694.9 691.9L695.6 692.1L696.3 691.2L697 691.9L697.7 692.6L698.4 692.4L699.1 692.7L699.8 692.6L700.5 691.6L701.2 690.6L701.9 690.3L702.6 690L703.3 690.3L704 690.3L704.7 690.5L705.4 690.8L706.1 690.9L706.8 690.8L707.5 690.6L708.2 689.9L708.9 690.3L709.6 690.5L710.3 689.2L711 690.7L711.7 690.6L712.4 689.8L713.1 689.9L713.8 690.9L714.5 691L715.2 692.7L715.9 693.6L716.6 694.2L717.3 695L718 694.3L718.7 693.3L719.4 693.9L720.1 692.7L720.8 691.6L721.5 691.9L722.2 690.8L722.9 691.2L723.6 691.8L724.3 691.2L725 691.4L725.7 691.9L726.4 692.3L727.1 691L727.8 690.5L728.5 691.6L729.2 690.7L729.9 690.4L730.6 690.9L731.3 691.1L732 691.6L732.7 691.3L733.4 690.1L734.1 690L734.8 690.2L735.5 689.6L736.2 690.1L736.9 691.8L737.6 691.4L738.3 689.8L739 688.8L739.7 689.5L740.4 690L741.1 689.9L741.8 690.1L742.5 689.5L743.2 692L743.9 692.7L744.6 692.7L745.3 691.7L746 692.7L746.7 692.4L747.4 693L748.1 693.8L748.8 692.2L749.5 690.8L750.2 691.6L750.9 692.2L751.6 690.6L752.3 690.9L753 692.6L753.7 692L754.4 690.3L755.1 691.4L755.8 691.6L756.5 690.6L757.2 689.5L757.9 690.2L758.6 690.8L759.3 689.9L760 690.4L760.7 691.1L761.4 691.1L762.1 692.5L762.8 691.9L763.5 689.5L764.2 690.1L764.9 691L765.6 690.3L766.3 690.2L767 691.1L767.7 690.7L768.4 690.8L769.1 691.6L769.8 690.3L770.5 689.9L771.2 692.7L771.9 691.8L772.6 690.6L773.3 692L774 692.5L774.7 690.7L775.4 690.9L776.1 691.5L776.8 692.3L777.5 691.9L778.2 691.7L778.9 693.6L779.6 692L780.3 691L781 693.1L781.7 692.7L782.4 692.9L783.1 694.5L783.8 691.9L784.5 690.9L785.2 691.2L785.9 691.3L786.6 689.8L787.3 687.7L788 688.5L788.7 691.7L789.4 691.2L790.1 690.6L790.8 691.4L791.5 691.5L792.2 690.3L792.9 691.4L793.6 692L794.3 690.3L795 689.5L795.7 689.6L796.4 691.1L797.1 692.6L797.8 692L798.5 689L799.2 690.7L799.9 691.9L800.6 692L801.3 691.9L802 691.6L802.7 691.3L803.4 691.6L804.1 693.2L804.8 693.2L805.5 692.9L806.2 693.1L806.9 692.6L807.6 692.1L808.3 692.6L809 693.2L809.7 692.8L810.4 692.3L811.1 691L811.8 691.9L812.5 693.6L813.2 690.1L813.9 689.5L814.6 691L815.3 690.6L816 689.8L816.7 691L817.4 691.5L818.1 691.2L818.8 691L819.5 690.7L820.2 690.6L820.9 691.9L821.6 691.3L822.3 690.1L823 691.3L823.7 691.7L824.4 691.2L825.1 692.3L825.8 691.2L826.5 688.5L827.2 691.2L827.9 692L828.6 693L829.3 693L830 691.8L830.7 692.5L831.4 691L832.1 692.4L832.8 693.7L833.5 693.2L834.2 692.9L834.9 691.5L835.6 693L836.3 693.8L837 692.6L837.7 692.7L838.4 691.9L839.1 693.1L839.8 694.2L840.5 692.7L841.2 688.8L841.9 689.4L842.6 689.8L843.3 689L844 690.2L844.7 692.1L845.4 692.2L846.1 689.5L846.8 688.9L847.5 689.7L848.2 691.1L848.9 691.5L849.6 690.6L850.3 691.1L851 691.9L851.7 692.6L852.4 691.4L853.1 692.5L853.8 692.4L854.5 690.6L855.2 691.6L855.9 691.4L856.6 690.6L857.3 691.4L858 692.5L858.7 692.4L859.4 692.4L860.1 692.1L860.8 694.6L861.5 693.9L862.2 691.3L862.9 690.3L863.6 690.2L864.3 694.4L865 696.4L865.7 694.7L866.4 693L867.1 693L867.8 695.1L868.5 693.8L869.2 690.3L869.9 692L870.6 692.7L871.3 691.1L872 690.2L872.7 692.4L873.4 690.9L874.1 689.4L874.8 689.5L875.5 689.3L876.2 690.7L876.9 691.1L877.6 690.1L878.3 690.4L879 692.4L879.7 692L880.4 689.8L881.1 690.4L881.8 689.8L882.5 689.3L883.2 692.8L883.9 692.1L884.6 691.1L885.3 693.2L886 693.3L886.7 693.6L887.4 694.2L888.1 691.3L888.8 690.1L889.5 692.2L890.2 693.8L890.9 693.5L891.6 693.6L892.3 693.5L893 691.1L893.7 691.6L894.4 693.4L895.1 693.5L895.8 693.4L896.5 693.6L897.2 692.2L897.9 690.9L898.6 690.5L899.3 691.3L900 691.9L900.7 693.5L901.4 693.8L902.1 690.8L902.8 689.8L903.5 690.8L904.2 691.1L904.9 690.6L905.6 688.8L906.3 687.9L907 691L907.7 693L908.4 691.2L909.1 691.5L909.8 692.2L910.5 691.5L911.2 692.9L911.9 693.1L912.6 694.8L913.3 695.6L914 695.5L914.7 694.7L915.4 692.4L916.1 691.2L916.8 692.8L917.5 695L918.2 694.4L918.9 693L919.6 692.9L920.3 689.6L921 687.8L921.7 692L922.4 694.5L923.1 691.7L923.8 691.6L924.5 691.1L925.2 688.5L925.9 690.6L926.6 692.4L927.3 691.6L928 690.3L928.7 691.7L929.4 692.8L930.1 690.4L930.8 691.6L931.5 693.3L932.2 690.3L932.9 689.2L933.6 689.5L934.3 691.4L935 691L935.7 690.3L936.4 691.5L937.1 689.3L937.8 690.1L938.5 690.4L939.2 690.8L939.9 691.8L940.6 693.5L941.3 695.8L942 694L942.7 690.9L943.4 694.1L944.1 697.8L944.8 697L945.5 694.2L946.2 694.4L946.9 693.2L947.6 691.2L948.3 694.3L949 694.9L949.7 694.6L950.4 695.7L951.1 692.4L951.8 690L952.5 689.2L953.2 688.5L953.9 689.9L954.6 693.2L955.3 692.3L956 689.9L956.7 690.5L957.4 693.6L958.1 693.1L958.8 690.9L959.5 690L960.2 690.2L960.9 694.6L961.6 695.3L962.3 693.3L963 692.9L963.7 692L964.4 691.7L965.1 694.1L965.8 694.7L966.5 693.5L967.2 694L967.9 692L968.6 691.7L969.3 694.4L970 694.7L970.7 696L971.4 699.1L972.1 696.4L972.8 694.5L973.5 694.3L974.2 691.7L974.9 690.1L975.6 691.4L976.3 691.8L977 691.1L977.7 689.9L978.4 689.1L979.1 689.1L979.8 690.7L980.5 693.7L981.2 693.4L981.9 693.2L982.6 692.3L983.3 690.8L984 692.4L984.7 694.7L985.4 694.4L986.1 692.8L986.8 692.4L987.5 691.2L988.2 693.3L988.9 692.5L989.6 693L990.3 696.2L991 695L991.7 693.2L992.4 692.6L993.1 690L993.8 686.3L994.5 688.1L995.2 690.5L995.9 690.6L996.6 691.4L997.3 691.3L998 693.4L998.7 693L999.4 691.4L1000.1 691.9L1000.8 694.7L1001.5 695.6L1002.2 693.3L1002.9 693.2L1003.6 691L1004.3 690.7L1005 695L1005.7 695.9L1006.4 692.4L1007.1 687.5L1007.8 687.9L1008.5 691.6L1009.2 692L1009.9 693.5L1010.6 690.4L1011.3 690.2L1012 696.7L1012.7 695L1013.4 693.6L1014.1 692.9L1014.8 691.5L1015.5 691.2L1016.2 689.8L1016.9 690.7L1017.6 694L1018.3 693.7L1019 695.3L1019.7 696L1020.4 691.2L1021.1 692.1L1021.8 689.3L1022.5 690.9L1023.2 697.4L1023.9 694.1L1024.6 693.3L1025.3 693.7L1026 687.9L1026.7 689.4L1027.4 694.1L1028.1 695.6L1028.8 694.5L1029.5 698.2L1030 693.8L1030.5 689.4L1030.9 695.4L1031.4 690.6L1031.8 693.8L1032.3 690.5L1032.7 693.4L1033.2 689.4L1033.6 696.4L1034.1 690L1034.5 695.7L1035 688.6L1035.4 694.6L1035.9 690L1036.3 693.7L1036.8 688.6L1037.2 697.2L1037.7 688.1L1038.1 694.9L1038.6 688L1039 696.5L1039.5 687.6L1039.9 695.9L1040.4 689.9L1040.8 695L1041.3 685.7L1041.7 696.4L1042.2 688.3L1042.6 697.5L1043.1 686.5L1043.5 699.8L1044 683.9L1044.4 698.3L1044.9 688L1045.3 696.7L1045.8 688.7L1046.2 698.1L1046.7 687.8L1047.1 699.9L1047.6 688.5L1048 697.9L1048.5 685.7L1048.9 697.7L1049.4 686.4L1049.8 697.3L1050.3 682.3L1050.7 697.9L1051.2 686.2L1051.6 699.1L1052.1 687.8L1052.5 701.7L1053 686.3L1053.4 700.1L1053.9 688.1L1054.3 695.7L1054.8 689.3L1055.2 702L1055.7 691.1L1056.1 707L1056.6 706L1057 702L1057.5 690.7L1057.9 700.3" stroke="#00f" stroke-width="2.15" fill="none" stroke-linejoin="round" />
<path d="M307.6 781V821.5M307.6 844V887.5M307.6 914V953.5M328 782.2L329.6 781.7L331.2 782.3L332.8 781.6L334.4 782.4L336 781.7L337.6 780.2L339.2 779.7L340.8 780L342.4 780.7L344 781L345.6 781.7L347.2 782.9L348.8 782.7L350.4 782.7L352 782.2L353.6 782.4L355.2 781.7L356.8 781.7L358.4 781.2L360 780.8L361.6 780.3L363.2 780.9M388.2 782.1L389.8 781.2L391.4 782.8L393 782.5L394.6 782.4L396.2 781.9L397.8 782.4L399.4 781.2L401 781.1L402.6 780.4L404.2 780.8L405.8 781.1L407.4 781.2L409 782.2L410.6 782.8L412.2 782.5L413.8 782.1L415.4 782.2L417 782.8L418.6 783.1L420.2 783.3L421.8 783.3L423.4 783.9M446.1 782.4L447.7 782.8L449.3 782.4L450.9 782.6L452.5 781L454.1 781L455.7 780.3L457.3 780.9L458.9 781.1L460.5 781.3L462.1 781.8L463.7 781.7L465.3 782.2L466.9 782.2L468.5 782.4L470.1 781.6L471.7 782L473.3 781.8L474.9 783.9L476.5 783.2L478.1 783.1L479.7 781.3L481.3 780.2M505.2 782.5L506.8 781.3L508.4 781.7L510 781.4L511.6 782.7L513.2 781.5L514.8 781.7L516.4 780.9L518 781.9L519.6 781.9L521.2 781L522.8 781.2L524.4 780.6L526 780.9L527.6 780.4L529.2 780.7L530.8 780.4L532.4 780.6L534 780.9L535.6 782L537.2 783.1L538.8 783.7L540.4 782.5L542 781.5L543.6 780M567.3 783.2L568.9 782.6L570.5 781.3L572.1 780.4L573.7 780.2L575.3 780.8L576.9 781.3L578.5 782L580.1 782L581.7 782L583.3 781.3L584.9 782.2L586.5 782.7L588.1 783.1L589.7 782.3L591.3 782.1L592.9 781.9L594.5 782.4L596.1 782.1L597.7 781.1L599.3 779.9L600.9 780.2L602.5 781.1L604.1 781.3M628.2 782.3L629.8 782.1L631.4 782.2L633 782.6L634.6 781L636.2 781.2L637.8 781.4L639.4 784L641 783.7L642.6 782.6L644.2 780.9L645.8 780L647.4 780.9L649 782.1L650.6 781.8L652.2 781.4L653.8 780.2L655.4 781.5L657 782.1L658.6 782L660.2 781.8L661.8 781.6L663.4 781.9L665 782.8L666.6 782.2M682.2 762.5L683.2 745L684.2 742L685 756L685.6 725L686.2 741.5L687.2 740L694 739M718.9 740L720.5 739.3L722.1 738.4L723.7 738L725.3 738.6L726.9 739.2L728.5 739.2L730.1 739.4L731.7 739.1L733.3 739.6L734.9 739.3L736.5 740.3L738.1 739.8L739.7 739.5L741.3 739.2L742.9 738.8L744.5 739.7L746.1 739.9L747.7 740.5L749.3 741.1L750.9 741.4L752.5 741.2L754.1 740.2L755.7 739.3L757.3 739.5L758.9 739.8M783.4 739.2L785 738.7L786.6 737.9L788.2 738.1L789.8 738L791.4 738L793 737.9L794.6 738.5L796.2 739.6L797.8 739.9L799.4 740.3L801 739.8L802.6 740L804.2 739.6L805.8 738.8L807.4 738.4L809 738.2L810.6 739.1L812.2 740.3L813.8 740L815.4 740L817 738.5L818.6 739.2L820.2 738.9M845.1 739.7L846.7 740.1L848.3 739.9L849.9 739.9L851.5 739.7L853.1 740.6L854.7 739.5L856.3 739L857.9 737.8L859.5 739L861.1 739.1L862.7 738.9L864.3 738.6L865.9 738.4L867.5 738.6L869.1 738.5L870.7 740.4L872.3 740.3L873.9 740.6L875.5 739.5L877.1 739.9L878.7 740L880.3 741M903.4 739L905 738.8L906.6 738.9L908.2 738L909.8 737.7L911.4 737.7L913 739L914.6 739.9L916.2 740.4L917.8 740.1L919.4 739.7L921 739.4L922.6 739.5L924.2 739.3L925.8 739.8L927.4 740.5L929 740.6L930.6 740L932.2 739.4L933.8 739.4L935.4 740.1L937 740.4L938.6 739.9L940.2 739.5M961.3 739.9L962.9 740.3L964.5 739.8L966.1 739L967.7 738.8L969.3 739.5L970.9 740.9L972.5 740.8L974.1 740.9L975.7 740.3L977.3 739.8L978.9 739.4L980.5 739.3L982.1 739.7L983.7 740.9L985.3 740.8L986.9 740.4L988.5 739L990.1 738.6L991.7 738.5L993.3 738.7M1016.7 739.5L1018.3 739.6L1019.9 739.9L1021.5 738.9L1023.1 738.9L1024.7 738.1L1026.3 738L1027.9 737.5L1029.5 737.4L1031.1 737.7L1032.7 738.1L1034.3 737.7L1035.9 737.5L1037.5 736.1L1039.1 735.9L1040.7 734.3L1042.3 733.9L1043.9 733.2L1045.5 734.7L1047.1 736L1048.7 737.1" stroke="#f0f" stroke-width="2.15" fill="none" stroke-linejoin="round" />
<rect x="512.6" y="838.1" width="529" height="120.1" fill="none" stroke="#262626" stroke-width="2.1"/>
<path d="M529.6 871.4h125" stroke="#00f" stroke-width="2.2" fill="none"/>
<text x="667" y="883.7" font-size="37.45" fill="#000">Pitch (degrees)</text>
<path d="M529.6 924.4h41.7m25 0h41.7" stroke="#f0f" stroke-width="2.2" fill="none"/>
<text x="667" y="936.7" font-size="37.45" fill="#000">Pitch Control (mm)</text>
</g>
<g id="ax4">
<path d="M1590.5 654.5V990.3M1851.5 654.5V990.3M2112.5 654.5V990.3" stroke="#262626" stroke-opacity="0.14" stroke-width="2.2" fill="none"/>
<path d="M1338.1 1000.6H2112.5M1338.1 971.8H2112.5M1338.1 942.9H2112.5M1338.1 914.1H2112.5M1338.1 885.2H2112.5M1338.1 856.4H2112.5M1338.1 827.5H2112.5M1338.1 798.7H2112.5M1338.1 769.9H2112.5M1338.1 741H2112.5M1338.1 712.2H2112.5M1338.1 683.3H2112.5M1338.1 654.5H2112.5" stroke="#262626" stroke-opacity="0.17" stroke-width="2.2" fill="none"/>
<path d="M1328.5 1000.6H2112.5" stroke="#262626" stroke-width="2.2" fill="none" stroke-linecap="round"/>
<path d="M1328.5 654.5V1000.6" stroke="#000000" stroke-width="2.2" fill="none" stroke-linecap="round"/>
<path d="M1328.5 1000.6v-8.1M1590.5 1000.6v-8.1M1851.5 1000.6v-8.1M2112.5 1000.6v-8.1" stroke="#262626" stroke-width="2.2" fill="none" stroke-linecap="round"/>
<path d="M1328.5 1000.6h7.0M1328.5 971.8h7.0M1328.5 942.9h7.0M1328.5 914.1h7.0M1328.5 885.2h7.0M1328.5 856.4h7.0M1328.5 827.5h7.0M1328.5 798.7h7.0M1328.5 769.9h7.0M1328.5 741h7.0M1328.5 712.2h7.0M1328.5 683.3h7.0M1328.5 654.5h7.0" stroke="#000000" stroke-width="2.2" fill="none" stroke-linecap="round"/>
<g font-size="41.75" fill="#262626" text-anchor="middle">
<text x="1327.2" y="1058.2">0</text>
<text x="1589.2" y="1058.2">100</text>
<text x="1850.2" y="1058.2">200</text>
<text x="2111.2" y="1058.2">300</text>
<text x="1718.5" y="1117.4">Time (minutes)</text>
<text transform="translate(1216 827.5) rotate(-90)" fill="#000000">Roll</text>
</g>
<g font-size="41.75" fill="#000000" text-anchor="end">
<text x="1309.6" y="1015.5">-80</text>
<text x="1309.6" y="986.7">-70</text>
<text x="1309.6" y="957.8">-60</text>
<text x="1309.6" y="929">-50</text>
<text x="1309.6" y="900.1">-40</text>
<text x="1309.6" y="871.3">-30</text>
<text x="1309.6" y="842.4">-20</text>
<text x="1309.6" y="813.6">-10</text>
<text x="1310.6" y="784.8">0</text>
<text x="1310.6" y="755.9">10</text>
<text x="1310.6" y="727.1">20</text>
<text x="1310.6" y="698.2">30</text>
<text x="1310.6" y="669.4">40</text>
</g>
<path d="M1329.9 654.5L1331.2 655.8L1329.9 657.1L1331.2 658.4L1329.9 659.7L1331.2 661L1329.9 662.3L1331.2 663.6L1329.9 664.9L1331.2 666.2L1329.9 667.5L1331.2 668.8L1329.9 670.1L1331.2 671.4L1329.9 672.7L1331.2 674L1329.9 675.3L1331.2 676.6L1329.9 677.9L1331.2 679.2L1329.9 680.5L1331.2 681.8L1329.9 683.1L1331.2 684.4L1329.9 685.6L1331.2 686.9L1329.9 688.2L1331.2 689.5L1329.9 690.8L1331.2 692.1L1329.9 693.4L1331.2 694.7L1329.9 696L1331.2 697.3L1329.9 698.6L1331.2 699.9L1329.9 701.2L1331.2 702.5L1329.9 703.8L1331.2 705.1L1329.9 706.4L1331.2 707.7L1329.9 709L1331.2 710.3L1329.9 711.6L1331.2 712.9L1329.9 714.2L1331.2 715.5L1329.9 716.8L1331.2 718.1L1329.9 719.4L1331.2 720.7L1329.9 722L1331.2 723.3L1329.9 724.6L1331.2 725.9L1329.9 727.2L1331.2 728.5L1329.9 729.8L1331.2 731.1L1329.9 732.4L1331.2 733.7L1329.9 735L1331.2 736.3L1329.9 737.6L1331.2 738.9L1329.9 740.2L1331.2 741.5L1329.9 742.8L1331.2 744.1L1329.9 745.4L1331.2 746.6L1329.9 747.9L1331.2 749.2L1329.9 750.5L1331.2 751.8L1329.9 753.1L1331.2 754.4L1329.9 755.7L1331.2 757L1329.9 758.3L1331.2 759.6L1329.9 760.9L1331.2 762.2L1329.9 763.5L1331.2 764.8L1329.9 766.1L1331.2 767.4L1329.9 768.7L1331.2 770L1329.9 771.3L1331.2 772.6L1329.9 773.9L1331.2 775.2L1329.9 776.5L1331.2 777.8L1329.9 779.1L1331.2 780.4L1329.9 781.7L1331.2 783L1329.9 784.3L1331.2 785.6L1329.9 786.9L1331.2 788.2L1329.9 789.5L1331.2 790.8L1329.9 792.1L1331.2 793.4L1329.9 794.7L1331.2 796L1329.9 797.3L1331.2 798.6L1329.9 799.9L1331.2 801.2L1329.9 802.5L1331.2 803.8L1329.9 805.1L1331.2 806.4L1329.9 807.6L1331.2 808.9L1329.9 810.2L1331.2 811.5L1329.9 812.8L1331.2 814.1L1329.9 815.4L1331.2 816.7L1329.9 818L1331.2 819.3L1329.9 820.6L1331.2 821.9L1329.9 823.2L1331.2 824.5L1329.9 825.8L1331.2 827.1L1329.9 828.4L1331.2 829.7L1329.9 831L1331.2 832.3L1329.9 833.6L1331.2 834.9L1329.9 836.2L1331.2 837.5L1329.9 838.8L1331.2 840.1L1329.9 841.4L1331.2 842.7L1329.9 844L1331.2 845.3L1329.9 846.6L1331.2 847.9L1329.9 849.2L1331.2 850.5L1329.9 851.8L1331.2 853.1L1329.9 854.4L1331.2 855.7L1329.9 857L1331.2 858.3L1329.9 859.6L1331.2 860.9L1329.9 862.2L1331.2 863.5L1329.9 864.8L1331.2 866.1L1329.9 867.4L1331.2 868.6L1329.9 869.9L1331.2 871.2L1329.9 872.5L1331.2 873.8L1329.9 875.1L1331.2 876.4L1329.9 877.7L1331.2 879L1329.9 880.3L1331.2 881.6L1329.9 882.9L1331.2 884.2L1329.9 885.5L1331.2 886.8L1329.9 888.1L1331.2 889.4L1329.9 890.7L1331.2 892L1329.9 893.3L1331.2 894.6L1329.9 895.9L1331.2 897.2L1329.9 898.5L1331.2 899.8L1329.9 901.1L1331.2 902.4L1329.9 903.7L1331.2 905L1329.9 906.3L1331.2 907.6L1329.9 908.9L1331.2 910.2L1329.9 911.5L1331.2 912.8L1329.9 914.1L1331.2 915.4L1329.9 916.7L1331.2 918L1329.9 919.3L1331.2 920.6L1329.9 921.9L1331.2 923.2L1329.9 924.5L1331.2 925.8L1329.9 927.1L1331.2 928.4L1329.9 929.6L1331.2 930.9L1329.9 932.2L1331.2 933.5L1329.9 934.8L1331.2 936.1L1329.9 937.4L1331.2 938.7L1329.9 940L1331.2 941.3L1329.9 942.6L1331.2 943.9L1329.9 945.2L1331.2 946.5L1329.9 947.8L1331.2 949.1L1329.9 950.4L1331.2 951.7L1329.9 953L1331.2 954.3L1329.9 955.6L1331.2 956.9L1329.9 958.2L1331.2 959.5L1329.9 960.8L1331.2 962.1L1329.9 963.4L1331.2 964.7L1329.9 966L1331.2 967.3L1329.9 968.6L1331.2 969.9L1329.9 971.2L1331.2 972.5L1329.9 973.8L1331.2 975.1L1329.9 976.4L1331.2 977.7L1329.9 979L1331.2 980.3L1329.9 981.6L1331.2 982.9L1329.9 984.2L1331.2 985.5L1329.9 986.8L1331.2 988.1L1329.9 989.4L1331.2 990.6L1329.9 991.9L1331.2 993.2L1329.9 994.5L1331.2 995.8L1329.9 997.1L1331.2 998.4L1329.9 999.7L1330.2 1000.6L1330.6 657.4L1330.4 657.4L1332 658.8L1330.4 660.3L1332.3 661.7L1330.4 663.2L1332.5 664.6L1330.4 666L1331.6 666.4L1332.8 667.5L1330.4 668.9L1331.6 669.4L1332.8 670.6L1333 670.4L1330.4 671.8L1331.6 672.6L1332.8 674.3L1333.2 673.2L1330.4 674.7L1331.6 675.9L1332.8 676.6L1333.5 676.1L1330.4 677.6L1331.6 677L1332.8 679.4L1333.7 679L1330.4 680.5L1331.6 680.9L1332.8 682.3L1333.9 681.9L1330.4 683.3L1331.6 683L1332.8 685.3L1334 683.7L1334 684.8L1330.4 686.2L1331.6 687.1L1332.8 686L1334 687.4L1334.2 687.7L1330.4 689.1L1331.6 689.4L1332.8 690.2L1334 690.2L1334.4 690.6L1330.4 692L1331.6 692.6L1332.8 691.9L1334 692.8L1334.6 693.4L1330.4 694.9L1331.6 695.8L1332.8 695.8L1334 696.2L1334.7 696.3L1330.4 697.8L1331.6 697.3L1332.8 699.7L1334 698.6L1334.9 699.2L1330.4 700.6L1331.6 701L1332.8 702L1334 702.6L1335 702.1L1330.4 703.5L1331.6 703.3L1332.8 704.6L1334 703.6L1335.1 705L1330.4 706.4L1331.6 706.5L1332.8 707.4L1334 709.8L1335.1 707.9L1330.4 709.3L1331.6 708.3L1332.8 709.7L1334 710.3L1335.1 710.7L1330.4 712.2L1331.6 712.7L1332.8 712.5L1334 713.3L1335.2 713.6L1330.4 715.1L1331.6 713.9L1332.8 716.6L1334 716.1L1335.2 716.5L1330.4 718L1331.6 717.8L1332.8 719.3L1334 719.4L1335.2 719.4L1335.2 719.4L1330.4 720.8L1331.6 721.9L1332.8 720.9L1334 721.5L1335.2 721.9L1335.2 722.3L1330.4 723.7L1331.6 724.4L1332.8 724.3L1334 725L1335.2 724.4L1335.3 725.2L1330.4 726.6L1331.6 727.1L1332.8 726.7L1334 727.3L1335.2 728L1335.3 728L1330.4 729.5L1331.6 729.4L1332.8 730L1334 729.7L1335.2 731.1L1335.4 730.9L1330.4 732.4L1331.6 731.8L1332.8 734.2L1334 734L1335.2 733.5L1335.4 733.8L1330.4 735.3L1331.6 735.7L1332.8 734.2L1334 736.2L1335.2 736.4L1335.4 736.7L1330.4 738.1L1331.6 737.7L1332.8 740.3L1334 739.5L1335.2 739.4L1335.3 739.6L1330.4 741L1331.6 740.8L1332.8 742L1334 742.7L1335.2 743.6L1335.2 742.5L1330.4 743.9L1331.6 745.9L1332.8 743.8L1334 744.8L1335.2 745.4L1330.4 746.8L1331.6 748.7L1332.8 748.6L1334 748.4L1335.1 748.2L1330.4 749.7L1331.6 749.9L1332.8 750L1334 750.4L1335.1 751.1L1330.4 752.6L1331.6 752.3L1332.8 753L1334 754L1335 754L1330.4 755.4L1331.6 757.5L1332.8 756.7L1334 755.8L1334.9 756.9L1330.4 758.3L1331.6 758.3L1332.8 758.3L1334 759.3L1334.7 759.8L1330.4 761.2L1331.6 761.3L1332.8 762.3L1334 761.5L1334.3 762.7L1330.4 764.1L1331.6 763.7L1332.8 765.3L1334 765.5L1330.4 767L1331.6 767.5L1332.8 768.3L1333.6 768.4L1333 792.9L1333.6 778.5L1334.4 769.9L1332.7 772.8L1333.6 766.4L1334.8 741L1335.6 755.4L1336.4 763.5L1337.4 768.4L1338.3 769.9L1336 769.9L1336.9 786L1338.1 850.6L1338.9 810.2L1339.7 773.6L1340.7 771.3L1341.6 771.3L1342.8 772.1L1344 770.4L1345.2 771.8L1345.2 771.3L1346.1 783.7L1347.3 833.3L1348.1 801.6L1348.9 773.6L1349.9 771.3L1350.8 771.3L1348.1 771.3L1349 756.6L1350.2 697.8L1351 733.8L1351.8 763.5L1352.8 768.4L1353.7 769.9L1351.9 769.9L1352.8 777.9L1354 810.2L1354.8 790.1L1355.6 773.6L1356.6 771.3L1357.5 771.3L1354.9 771.3L1355.8 756.6L1357 697.8L1357.8 733.8L1358.6 763.5L1359.6 768.4L1360.5 769.9L1359.9 769.9L1360.8 781.4L1362 827.5L1362.8 798.7L1363.6 773.6L1364.6 771.3L1365.5 771.3L1364.5 771.3L1365.4 756.6L1366.6 697.8L1367.4 733.8L1368.2 763.5L1369.2 768.4L1370.1 769.9L1371.3 769.6L1372.5 769.3L1373.7 769.2L1374.9 770.2L1376.1 769.1L1377.3 770L1378.5 768L1379.7 769.9L1380.9 769.4L1382.1 769.8L1382.9 769.9L1383.8 783.7L1385 839.1L1385.8 804.5L1386.6 777.1L1387.6 774.8L1388.5 774.8L1389.7 775L1390.9 773.1L1392.1 773.8L1393.3 774.8L1394.5 774.8L1395.7 774.4L1396.9 774.2L1398.1 775.3L1399.3 773.9L1400.5 775.2L1401.7 774.1L1402.9 775.1L1404.1 773.7L1405.3 776L1406.5 775.9L1407.7 773.9L1408.9 774.6L1410.1 774.1L1411.3 775.8L1412.5 775.4L1413.7 775.9L1414.9 773.9L1416.1 774.6L1417.3 774.1L1418.5 774.6L1418.8 774.8L1419.7 759.1L1420.9 696.3L1421.7 733.1L1422.5 762.9L1423.5 767.8L1424.4 769.3L1425.7 769.3L1426.6 785L1427.8 847.7L1428.6 808.8L1429.4 777.1L1430.4 774.8L1431.3 774.8L1433.3 774.8L1434.2 759.1L1435.4 696.3L1436.2 733.1L1437 762.9L1438 767.8L1438.9 769.3L1440.7 769.3L1441.6 785L1442.8 847.7L1443.6 808.8L1444.4 777.1L1445.4 774.8L1446.3 774.8L1447.5 774.1L1448.7 774.3L1448.7 774.8L1449.6 759.1L1450.8 696.3L1451.6 733.1L1452.4 762.9L1453.4 767.8L1454.3 769.3L1456.3 769.3L1457.2 785L1458.4 847.7L1459.2 808.8L1460 777.1L1461 774.8L1461.9 774.8L1463.1 775.2L1464.1 774.8L1465 759.1L1466.2 696.3L1467 733.1L1467.8 762.9L1468.8 767.8L1469.7 769.3L1470.9 769L1471.9 769.3L1472.8 785L1474 847.7L1474.8 808.8L1475.6 777.1L1476.6 774.8L1477.5 774.8L1478.7 773.7L1479.7 774.8L1480.6 759.1L1481.8 696.3L1482.6 733.1L1483.4 762.9L1484.4 767.8L1485.3 769.3L1486.5 770.1L1487.5 769.3L1488.4 785L1489.6 847.7L1490.4 808.8L1491.2 777.1L1492.2 774.8L1493.1 774.8L1494.7 774.8L1495.6 759.1L1496.8 696.3L1497.6 733.1L1498.4 762.9L1499.4 767.8L1500.3 769.3L1502 769.3L1502.9 785L1504.1 847.7L1504.9 808.8L1505.7 777.1L1506.7 774.8L1507.6 774.8L1509.4 774.8L1510.3 759.1L1511.5 696.3L1512.3 733.1L1513.1 762.9L1514.1 767.8L1515 769.3L1516.2 770.3L1517.4 769.4L1517.6 769.3L1518.5 785L1519.7 847.7L1520.5 808.8L1521.3 777.1L1522.3 774.8L1523.2 774.8L1524.4 775.1L1525.5 774.8L1526.4 759.1L1527.6 696.3L1528.4 733.1L1529.2 762.9L1530.2 767.8L1531.1 769.3L1532.8 769.3L1533.7 785L1534.9 847.7L1535.7 808.8L1536.5 777.1L1537.5 774.8L1538.4 774.8L1539.6 774.3L1540.6 774.8L1541.5 759.1L1542.7 696.3L1543.5 733.1L1544.3 762.9L1545.3 767.8L1546.2 769.3L1547.4 768.9L1548.6 769.2L1549.8 768.7L1551 770L1552.2 769.2L1553.4 769.4L1554 769.3L1554.9 785L1556.1 847.7L1556.9 808.8L1557.7 777.1L1558.7 774.8L1559.6 774.8L1560.8 774.4L1562 775L1563.2 775.3L1564.4 774L1565.6 774.6L1566.8 775.7L1567.2 774.8L1568.1 759.1L1569.3 696.3L1570.1 733.1L1570.9 762.9L1571.9 767.8L1572.8 769.3L1574 769.5L1575.2 769.1L1576.4 769.6L1577.6 767.6L1578.8 768.2L1580 769.2L1580.6 769.3L1581.5 785L1582.7 847.7L1583.5 808.8L1584.3 777.1L1585.3 774.8L1586.2 774.8L1587.4 775.4L1588.6 774.6L1589.8 775.1L1591 775.3L1592.2 774.7L1593.4 775.7L1593.6 774.8L1594.5 759.1L1595.7 696.3L1596.5 733.1L1597.3 762.9L1598.3 767.8L1599.2 769.3L1600.4 769.4L1601.6 769.8L1602.8 768.2L1604 771L1605.2 769.8L1606.4 768.6L1606.7 769.3L1607.6 785L1608.8 847.7L1609.6 808.8L1610.4 777.1L1611.4 774.8L1612.3 774.8L1613.5 774.3L1614.7 775.2L1615.9 774.3L1617.1 774.8L1618.3 774.5L1619.5 774.4L1620 774.8L1620.9 759.1L1622.1 696.3L1622.9 733.1L1623.7 762.9L1624.7 767.8L1625.6 769.3L1626.8 769.8L1628 770.6L1629.2 768.5L1630.4 770.6L1631.6 768.9L1632.8 769.4L1632.9 769.3L1633.8 785L1635 847.7L1635.8 808.8L1636.6 777.1L1637.6 774.8L1638.5 774.8L1639.7 775.6L1640.9 774.3L1642.1 773L1643.3 775.1L1644.5 774.7L1645.7 775.7L1646.2 774.8L1647.1 759.1L1648.3 696.3L1649.1 733.1L1649.9 762.9L1650.9 767.8L1651.8 769.3L1653 770.9L1654.2 769.9L1655.4 768.3L1656.6 769.4L1657.8 768.9L1659 769.3L1659.9 785L1661.1 847.7L1661.9 808.8L1662.7 777.1L1663.7 774.8L1664.6 774.8L1665.8 775.3L1667 774.9L1668.2 775.4L1669.4 773.7L1670.6 775.7L1671.8 775L1672.5 774.8L1673.4 759.1L1674.6 696.3L1675.4 733.1L1676.2 762.9L1677.2 767.8L1678.1 769.3L1679.3 768.1L1680.5 769.3L1681.7 768L1682.9 767.9L1684.1 769.6L1685.3 769.3L1686.2 769.3L1687.1 785L1688.3 847.7L1689.1 808.8L1689.9 777.1L1690.9 774.8L1691.8 774.8L1693 774.1L1694.2 775.2L1695.4 774.2L1696.6 774.9L1697.8 774.3L1699 774.8L1699.9 759.1L1701.1 696.3L1701.9 733.1L1702.7 762.9L1703.7 767.8L1704.6 769.3L1705.8 769.6L1707 769.2L1708.2 769L1709.4 770L1710.6 768.9L1711.8 769.4L1713 768.7L1714.2 769.7L1715.4 768.8L1715.6 769.3L1716.5 754.7L1717.7 696.3L1718.5 733.1L1719.3 756.9L1720.3 761.8L1721.2 763.2L1722.4 764.1L1723.6 763.6L1724.8 763.1L1726 763.7L1727.2 764.6L1728.2 763.2L1729.1 780.1L1730.3 847.7L1731.1 808.8L1731.9 773L1732.9 770.7L1733.8 770.7L1735 771.5L1736.2 769.6L1737.4 770.3L1738.6 771.3L1739.8 771.1L1741 771.4L1741.5 770.7L1742.4 755.8L1743.6 696.3L1744.4 733.1L1745.2 756.9L1746.2 761.8L1747.1 763.2L1748.3 763.6L1749.5 763.4L1750.7 763L1751.9 762.2L1753.1 764.1L1754.3 763.1L1755.1 763.2L1756 780.1L1757.2 847.7L1758 808.8L1758.8 773L1759.8 770.7L1760.7 770.7L1761.9 771L1763.1 770.3L1764.3 769.9L1765.5 771.1L1766.7 770.9L1767.9 770.3L1768.4 770.7L1769.3 755.8L1770.5 696.3L1771.3 733.1L1772.1 756.9L1773.1 761.8L1774 763.2L1775.2 763.4L1776.4 763.7L1777.6 762.7L1778.8 764.4L1780 762.6L1781.2 762.8L1782.4 762.5L1782.5 763.2L1783.4 780.1L1784.6 847.7L1785.4 808.8L1786.2 773L1787.2 770.7L1788.1 770.7L1789.3 769.6L1790.5 769.6L1791.7 771.5L1792.9 771.4L1794.1 771.1L1795.3 770L1796.5 770.8L1796.7 770.7L1797.6 755.8L1798.8 696.3L1799.6 733.1L1800.4 756.9L1801.4 761.8L1802.3 763.2L1803.5 764L1804.7 763.1L1805.9 764L1807.1 765L1808.3 764.2L1809.5 762.2L1810.4 763.2L1811.3 780.1L1812.5 847.7L1813.3 808.8L1814.1 773L1815.1 770.7L1816 770.7L1817.2 771.6L1818.4 771.4L1819.6 770.4L1820.8 771L1822 770.6L1823.2 770.6L1823.3 770.7L1824.2 755.8L1825.4 696.3L1826.2 733.1L1827 756.9L1828 761.8L1828.9 763.2L1830.1 762L1831.3 762.3L1832.5 762.1L1833.7 763.4L1834.9 762.2L1836.1 762.4L1837.3 764.9L1837.4 763.2L1838.3 780.1L1839.5 847.7L1840.3 808.8L1841.1 773L1842.1 770.7L1843 770.7L1844.2 770.9L1845.4 770.1L1846.6 771.2L1847.8 771.4L1849 770.1L1850.2 770.8L1850.7 770.7L1851.6 755.8L1852.8 696.3L1853.6 733.1L1854.4 756.9L1855.4 761.8L1856.3 763.2L1857.5 763.4L1858.7 764.2L1859.9 762L1861.1 762.9L1862.3 763.9L1863.5 763.3L1864.5 763.2L1865.4 780.1L1866.6 847.7L1867.4 808.8L1868.2 773L1869.2 770.7L1870.1 770.7L1871.3 770.4L1872.5 771L1872.5 770.7L1873.4 755.8L1874.6 696.3L1875.4 733.1L1876.2 756.9L1877.2 761.8L1878.1 763.2L1879.9 763.2L1880.8 780.1L1882 847.7L1882.8 808.8L1883.6 773L1884.6 770.7L1885.5 770.7L1886.7 770L1887.9 770.3L1888.1 770.7L1889 755.8L1890.2 696.3L1891 733.1L1891.8 756.9L1892.8 761.8L1893.7 763.2L1894.9 762.6L1895.9 763.2L1896.8 780.1L1898 847.7L1898.8 808.8L1899.6 773L1900.6 770.7L1901.5 770.7L1903.5 770.7L1904.4 755.8L1905.6 696.3L1906.4 733.1L1907.2 756.9L1908.2 761.8L1909.1 763.2L1910.3 763.7L1911.5 763L1911.8 763.2L1912.7 780.1L1913.9 847.7L1914.7 808.8L1915.5 773L1916.5 770.7L1917.4 770.7L1919.1 770.7L1920 755.8L1921.2 696.3L1922 733.1L1922.8 756.9L1923.8 761.8L1924.7 763.2L1926.7 763.2L1927.6 780.1L1928.8 847.7L1929.6 808.8L1930.4 773L1931.4 770.7L1932.3 770.7L1934.3 770.7L1935.2 755.8L1936.4 696.3L1937.2 733.1L1938 756.9L1939 761.8L1939.9 763.2L1941.1 762.6L1942.3 763.5L1942.6 763.2L1943.5 780.1L1944.7 847.7L1945.5 808.8L1946.3 773L1947.3 770.7L1948.2 770.7L1950.2 770.7L1951.1 755.8L1952.3 696.3L1953.1 733.1L1953.9 756.9L1954.9 761.8L1955.8 763.2L1957 763.6L1958.2 764.6L1959.1 763.2L1960 780.1L1961.2 847.7L1962 808.8L1962.8 773L1963.8 770.7L1964.7 770.7L1966.2 770.7L1967.1 755.8L1968.3 696.3L1969.1 733.1L1969.9 756.9L1970.9 761.8L1971.8 763.2L1973 762.9L1974 763.2L1974.9 780.1L1976.1 847.7L1976.9 808.8L1977.7 773L1978.7 770.7L1979.6 770.7L1978.4 770.7L1979.3 755.8L1980.5 696.3L1981.3 733.1L1982.1 756.9L1983.1 761.8L1984 763.2L1983.4 763.2L1984.3 780.1L1985.5 847.7L1986.3 808.8L1987.1 773L1988.1 770.7L1989 770.7L1988.1 770.7L1989 755.8L1990.2 696.3L1991 733.1L1991.8 756.9L1992.8 761.8L1993.7 763.2L1993.1 763.2L1994 780.1L1995.2 847.7L1996 808.8L1996.8 773L1997.8 770.7L1998.7 770.7L1997.5 770.7L1998.4 755.8L1999.6 696.3L2000.4 733.1L2001.2 756.9L2002.2 761.8L2003.1 763.2L2003 763.2L2003.9 780.1L2005.1 847.7L2005.9 808.8L2006.7 773L2007.7 770.7L2008.6 770.7L2007.2 770.7L2008.1 755.8L2009.3 696.3L2010.1 733.1L2010.9 756.9L2011.9 761.8L2012.8 763.2L2012.4 763.2L2013.3 780.1L2014.5 847.7L2015.3 808.8L2016.1 773L2017.1 770.7L2018 770.7L2017.1 770.7L2018 755.8L2019.2 696.3L2020 733.1L2020.8 756.9L2021.8 761.8L2022.7 763.2L2021.8 763.2L2022.7 780.1L2023.9 847.7L2024.7 808.8L2025.5 773L2026.5 770.7L2027.4 770.7L2026.5 770.7L2027.4 755.8L2028.6 696.3L2029.4 733.1L2030.2 756.9L2031.2 761.8L2032.1 763.2L2031.7 763.2L2032.6 780.1L2033.8 847.7L2034.6 808.8L2035.4 773L2036.4 770.7L2037.3 770.7L2036.4 770.7L2037.3 755.8L2038.5 696.3L2039.3 733.1L2040.1 756.9L2041.1 761.8L2042 763.2L2043.2 763.1L2044.4 761.7L2045.3 763.2L2046.2 780.1L2047.4 847.7L2048.2 808.8L2049 773L2050 770.7L2050.9 770.7L2049.5 770.7L2050.4 755.8L2051.6 696.3L2052.4 733.1L2053.2 756.9L2054.2 761.8L2055.1 763.2L2054.2 763.2L2055.1 780.1L2056.3 847.7L2057.1 808.8L2057.9 773L2058.9 770.7L2059.8 770.7L2057.1 770.7L2058 755.8L2059.2 696.3L2060 733.1L2060.8 756.9L2061.8 761.8L2062.7 763.2L2061.8 763.2L2062.7 780.1L2063.9 847.7L2064.7 808.8L2065.5 773L2066.5 770.7L2067.4 770.7L2065.7 770.7L2066.6 755.8L2067.8 696.3L2068.6 733.1L2069.4 756.9L2070.4 761.8L2071.3 763.2L2069.9 763.2L2070.8 780.1L2072 847.7L2072.8 808.8L2073.6 773L2074.6 770.7L2075.5 770.7L2074 770.7L2074.9 755.8L2076.1 696.3L2076.9 733.1L2077.7 756.9L2078.7 761.8L2079.6 763.2L2079.8 763.2L2080.7 780.1L2081.9 847.7L2082.7 808.8L2083.5 773L2084.5 770.7L2085.4 770.7L2083.4 770.7L2084.3 755.8L2085.5 696.3L2086.3 733.1L2087.1 756.9L2088.1 761.8L2089 763.2L2086.6 690.6" stroke="#00f" stroke-width="2.15" fill="none" stroke-linejoin="round" stroke-linejoin="miter"/>
<path d="M1329.5 769.9L1333.2 769.9L1334 666L1335.2 666L1336 769.9L1336.5 769.9L1337.2 885.2L1338.5 885.2L1339.2 769.9L1345.8 769.9L1346.5 873.7L1347.8 873.7L1348.5 769.9L1348.6 769.9L1349.3 654.5L1350.6 654.5L1351.3 769.9L1352.5 769.9L1353.2 873.7L1354.5 873.7L1355.2 769.9L1355.5 769.9L1356.2 654.5L1357.5 654.5L1358.2 769.9L1360.5 769.9L1361.2 873.7L1362.5 873.7L1363.2 769.9L1365 769.9L1365.8 654.5L1367 654.5L1367.8 769.9L1383.5 769.9L1384.2 879.5L1385.5 879.5L1386.2 769.9L1419.3 769.9L1420 654.5L1421.3 654.5L1422 769.9L1426.2 769.9L1427 885.2L1428.2 885.2L1429 769.9L1433.8 769.9L1434.5 654.5L1435.8 654.5L1436.5 769.9L1441.2 769.9L1442 885.2L1443.2 885.2L1444 769.9L1449.2 769.9L1450 654.5L1451.2 654.5L1452 769.9L1456.8 769.9L1457.5 885.2L1458.8 885.2L1459.5 769.9L1464.6 769.9L1465.3 654.5L1466.6 654.5L1467.3 769.9L1472.5 769.9L1473.2 885.2L1474.5 885.2L1475.2 769.9L1480.2 769.9L1481 654.5L1482.2 654.5L1483 769.9L1488 769.9L1488.8 885.2L1490 885.2L1490.8 769.9L1495.2 769.9L1496 654.5L1497.2 654.5L1498 769.9L1502.5 769.9L1503.2 885.2L1504.5 885.2L1505.2 769.9L1510 769.9L1510.7 654.5L1512 654.5L1512.7 769.9L1518.1 769.9L1518.8 885.2L1520.1 885.2L1520.8 769.9L1526 769.9L1526.8 654.5L1528 654.5L1528.8 769.9L1533.3 769.9L1534 885.2L1535.3 885.2L1536 769.9L1541.1 769.9L1541.8 654.5L1543.1 654.5L1543.8 769.9L1554.5 769.9L1555.2 885.2L1556.5 885.2L1557.2 769.9L1567.8 769.9L1568.5 654.5L1569.8 654.5L1570.5 769.9L1581.1 769.9L1581.8 885.2L1583.1 885.2L1583.8 769.9L1594.1 769.9L1594.8 654.5L1596.1 654.5L1596.8 769.9L1607.2 769.9L1608 885.2L1609.2 885.2L1610 769.9L1620.5 769.9L1621.2 654.5L1622.5 654.5L1623.2 769.9L1633.5 769.9L1634.2 885.2L1635.5 885.2L1636.2 769.9L1646.8 769.9L1647.5 654.5L1648.8 654.5L1649.5 769.9L1659.5 769.9L1660.2 885.2L1661.5 885.2L1662.2 769.9L1673 769.9L1673.8 654.5L1675 654.5L1675.8 769.9L1686.8 769.9L1687.5 885.2L1688.8 885.2L1689.5 769.9L1699.5 769.9L1700.2 654.5L1701.5 654.5L1702.2 769.9L1716.1 769.9L1716.8 654.5L1718.1 654.5L1718.8 769.9L1728.8 769.9L1729.5 885.2L1730.8 885.2L1731.5 769.9L1742 769.9L1742.8 654.5L1744 654.5L1744.8 769.9L1755.6 769.9L1756.3 885.2L1757.6 885.2L1758.3 769.9L1769 769.9L1769.7 654.5L1771 654.5L1771.7 769.9L1783 769.9L1783.8 885.2L1785 885.2L1785.8 769.9L1797.2 769.9L1798 654.5L1799.2 654.5L1800 769.9L1811 769.9L1811.7 885.2L1813 885.2L1813.7 769.9L1823.8 769.9L1824.5 654.5L1825.8 654.5L1826.5 769.9L1838 769.9L1838.7 885.2L1840 885.2L1840.7 769.9L1851.2 769.9L1852 654.5L1853.2 654.5L1854 769.9L1865 769.9L1865.8 885.2L1867 885.2L1867.8 769.9L1873 769.9L1873.8 654.5L1875 654.5L1875.8 769.9L1880.5 769.9L1881.2 885.2L1882.5 885.2L1883.2 769.9L1888.6 769.9L1889.3 654.5L1890.6 654.5L1891.3 769.9L1896.5 769.9L1897.2 885.2L1898.5 885.2L1899.2 769.9L1904 769.9L1904.8 654.5L1906 654.5L1906.8 769.9L1912.3 769.9L1913 885.2L1914.3 885.2L1915 769.9L1919.6 769.9L1920.3 654.5L1921.6 654.5L1922.3 769.9L1927.2 769.9L1928 885.2L1929.2 885.2L1930 769.9L1934.8 769.9L1935.5 654.5L1936.8 654.5L1937.5 769.9L1943.1 769.9L1943.8 885.2L1945.1 885.2L1945.8 769.9L1950.8 769.9L1951.5 654.5L1952.8 654.5L1953.5 769.9L1959.6 769.9L1960.3 885.2L1961.6 885.2L1962.3 769.9L1966.8 769.9L1967.5 654.5L1968.8 654.5L1969.5 769.9L1974.5 769.9L1975.2 885.2L1976.5 885.2L1977.2 769.9L1979 769.9L1979.7 654.5L1981 654.5L1981.7 769.9L1984 769.9L1984.7 885.2L1986 885.2L1986.7 769.9L1988.6 769.9L1989.3 654.5L1990.6 654.5L1991.3 769.9L1993.6 769.9L1994.3 885.2L1995.6 885.2L1996.3 769.9L1998 769.9L1998.8 654.5L2000 654.5L2000.8 769.9L2003.5 769.9L2004.2 885.2L2005.5 885.2L2006.2 769.9L2007.8 769.9L2008.5 654.5L2009.8 654.5L2010.5 769.9L2013 769.9L2013.7 885.2L2015 885.2L2015.7 769.9L2017.6 769.9L2018.3 654.5L2019.6 654.5L2020.3 769.9L2022.3 769.9L2023 885.2L2024.3 885.2L2025 769.9L2027 769.9L2027.8 654.5L2029 654.5L2029.8 769.9L2032.2 769.9L2033 885.2L2034.2 885.2L2035 769.9L2037 769.9L2037.7 654.5L2039 654.5L2039.7 769.9L2045.8 769.9L2046.5 885.2L2047.8 885.2L2048.6 769.9L2050.1 769.9L2050.8 654.5L2052.1 654.5L2052.8 769.9L2054.8 769.9L2055.4 885.2L2056.8 885.2L2057.4 769.9L2057.7 769.9L2058.3 654.5L2059.7 654.5L2060.3 769.9L2062.4 769.9L2063.1 885.2L2064.4 885.2L2065.1 769.9L2066.2 769.9L2066.9 654.5L2068.2 654.5L2068.9 769.9L2070.5 769.9L2071.2 885.2L2072.5 885.2L2073.2 769.9L2074.6 769.9L2075.2 654.5L2076.6 654.5L2077.2 769.9L2080.4 769.9L2081.1 885.2L2082.4 885.2L2083.1 769.9L2084 769.9L2084.7 654.5L2086 654.5L2086.7 769.9L2086.5 769.9" stroke="#f0f" stroke-width="2.4" fill="none" stroke-linejoin="round" stroke-dasharray="41.7 25" stroke-dashoffset="0"/>
<rect x="1487.3" y="838.1" width="583.5" height="120.1" fill="none" stroke="#262626" stroke-width="2.1"/>
<path d="M1504.3 871.4h125" stroke="#00f" stroke-width="2.2" fill="none"/>
<text x="1641.7" y="883.7" font-size="37.45" fill="#000">Roll (degrees)</text>
<path d="M1504.3 924.4h41.7m25 0h41.7" stroke="#f0f" stroke-width="2.2" fill="none"/>
<text x="1641.7" y="936.7" font-size="37.45" fill="#000">Roll Control (degrees)</text>
</g>
<g id="ax5">
<path d="M563.6 1179.4V1510.2M823.5 1179.4V1510.2M1083.4 1179.4V1510.2" stroke="#262626" stroke-opacity="0.14" stroke-width="2.2" fill="none"/>
<path d="M314.1 1520.5H1083.4M314.1 1501.5H1083.4M314.1 1482.6H1083.4M314.1 1463.7H1083.4M314.1 1444.7H1083.4M314.1 1425.8H1083.4M314.1 1406.8H1083.4M314.1 1387.9H1083.4M314.1 1368.9H1083.4M314.1 1350H1083.4M314.1 1331H1083.4M314.1 1312H1083.4M314.1 1293.1H1083.4M314.1 1274.2H1083.4M314.1 1255.2H1083.4M314.1 1236.2H1083.4M314.1 1217.3H1083.4M314.1 1198.4H1083.4M314.1 1179.4H1083.4" stroke="#262626" stroke-opacity="0.17" stroke-width="2.2" fill="none"/>
<path d="M304.5 1520.5H1083.4" stroke="#262626" stroke-width="2.2" fill="none" stroke-linecap="round"/>
<path d="M304.5 1179.4V1520.5" stroke="#000000" stroke-width="2.2" fill="none" stroke-linecap="round"/>
<path d="M304.5 1520.5v-8.1M563.6 1520.5v-8.1M823.5 1520.5v-8.1M1083.4 1520.5v-8.1" stroke="#262626" stroke-width="2.2" fill="none" stroke-linecap="round"/>
<path d="M304.5 1520.5h7.0M304.5 1501.5h7.0M304.5 1482.6h7.0M304.5 1463.7h7.0M304.5 1444.7h7.0M304.5 1425.8h7.0M304.5 1406.8h7.0M304.5 1387.9h7.0M304.5 1368.9h7.0M304.5 1350h7.0M304.5 1331h7.0M304.5 1312h7.0M304.5 1293.1h7.0M304.5 1274.2h7.0M304.5 1255.2h7.0M304.5 1236.2h7.0M304.5 1217.3h7.0M304.5 1198.4h7.0M304.5 1179.4h7.0" stroke="#000000" stroke-width="2.2" fill="none" stroke-linecap="round"/>
<g font-size="41.75" fill="#262626" text-anchor="middle">
<text x="303.6" y="1578.1">0</text>
<text x="562.7" y="1578.1">100</text>
<text x="822.6" y="1578.1">200</text>
<text x="1082.5" y="1578.1">300</text>
<text x="692" y="1637.3">Time (minutes)</text>
<text transform="translate(166.9 1350) rotate(-90)" fill="#000000">VBD</text>
</g>
<g font-size="41.75" fill="#000000" text-anchor="end">
<text x="284.2" y="1535.4">-100</text>
<text x="284.2" y="1516.5">-90</text>
<text x="284.2" y="1497.5">-80</text>
<text x="284.2" y="1478.6">-70</text>
<text x="284.2" y="1459.6">-60</text>
<text x="284.2" y="1440.7">-50</text>
<text x="284.2" y="1421.7">-40</text>
<text x="284.2" y="1402.8">-30</text>
<text x="284.2" y="1383.8">-20</text>
<text x="284.2" y="1364.9">-10</text>
<text x="286.6" y="1345.9">0</text>
<text x="286.6" y="1327">10</text>
<text x="286.6" y="1308">20</text>
<text x="286.6" y="1289.1">30</text>
<text x="286.6" y="1270.1">40</text>
<text x="286.6" y="1251.2">50</text>
<text x="286.6" y="1232.2">60</text>
<text x="286.6" y="1213.3">70</text>
<text x="286.6" y="1194.3">80</text>
</g>
<path d="M305.2 1325L305.8 1340L306.4 1362L307 1374L307.6 1365.1L308.6 1367.4L309.6 1366.6L310.6 1366.4L311.6 1363.3L312.6 1363.4L313.6 1368.4L314.6 1368.8L315.6 1367.5L316.6 1362.7L317.6 1367.5L318.6 1364.6L319.6 1364.7L320.6 1362.1L321.6 1365.2L322.6 1359.9L323.6 1361.5L324.6 1362.8L325.6 1370L326.6 1367.4L327.6 1370.3L328.6 1370L329.6 1367L330.6 1359.3L331.6 1357.4L332.6 1356.2L333.6 1364.8L334.6 1366L335.6 1370L336.6 1364.3L337.6 1361L338.6 1357.3L339.6 1359.9L340.6 1358.6L341.6 1360.2L342.6 1357.1L343.6 1357.5L344.6 1355.4L345.6 1354.5L346.6 1353.2L347.6 1352L348.6 1352.4L349.6 1352.2L350.6 1353L351.6 1352L352.6 1352.8L353.6 1352.6L354.6 1353L355.6 1352.6L356.6 1353.3L357.6 1353.4L358.6 1353L359.6 1352.8L360.6 1353.3L361.6 1354.2L362.6 1354.1L363.6 1353.8L364.6 1353.8L365.6 1353.7L366.6 1354L367.6 1354.6L368.6 1355.3L369.6 1354.6L370.6 1354.4L371.6 1354.3L372.6 1354.8L373.6 1354.1L374.6 1354.5L375.6 1354.4L376.6 1354.6L377.6 1354.4L378.6 1355.3L379.6 1355.5L380.6 1355.2L381.6 1354.5L382.6 1355.2L383.6 1355.7L384.6 1355.7L385.6 1355.2L386.6 1355.4L387.6 1355.1L388.6 1354.5L389.6 1354L390.6 1354.5L391.6 1355L392.6 1355.2L393.6 1354.5L394.6 1354.4L395.6 1354.1L396.6 1354.6L397.6 1355L398.6 1355.5L399.6 1355.8L400.6 1355.7L401.6 1354.4L402.6 1354.3L403.6 1353.9L404.6 1354.7L405.6 1354.2L406.6 1354.6L407.6 1354.2L408.6 1354.6L409.6 1354.5L410.6 1354.6L411.6 1354L412.6 1353.9L413.6 1354.2L414.6 1354.1L415.6 1353.9L416.6 1353.9L417.6 1354.3L418.6 1354.3L419.6 1354.4L420.6 1354.2L421.6 1354.5L422.6 1354.7L423.6 1355.3L424.6 1355.3L425.6 1355.2L426.6 1354.8L427.6 1354.2L428.6 1354L429.6 1353.8L430.6 1354.3L431.6 1353.7L432.6 1353.6L433.6 1353.6L434.6 1354.3L435.6 1353.7L436.6 1353.1L437.6 1352.3L438.6 1352.8L439.6 1353.3L440.6 1354.1L441.6 1354.4L442.6 1354.7L443.6 1354.5L444.6 1354.4L445.6 1354L446.6 1353.7L447.6 1353.4L448.6 1353.4L449.6 1353.6L450.6 1353.6L451.6 1353.3L452.6 1352.7L453.6 1353.1L454.6 1353.1L455.6 1353.9L456.6 1353.2L457.6 1353.2L458.6 1353.5L459.6 1354L460.6 1354.1L461.6 1353.5L462.6 1353.8L463.6 1354.5L464.6 1355.1L465.6 1354.9L466.6 1354.2L467.6 1353.4L468.6 1353.3L469.6 1353.1L470.6 1353.5L471.6 1353.2L472.6 1353.8L473.6 1353.5L474.6 1354L475.6 1353.6L476.6 1353.6L477.6 1353.7L478.6 1353.4L479.6 1352.9L480.6 1351.7L481.6 1351.3L482.6 1351.8L483.6 1352.7L484.6 1353.7L485.6 1353.9L486.6 1353.7L487.6 1352.8L488.6 1352.5L489.6 1351.8L490.6 1352.1L491.6 1352.2L492.6 1352.9L493.6 1353.1L494.6 1353.9L495.6 1353.6L496.6 1353.8L497.6 1352.5L498.6 1352.9L499.6 1352.3L500.6 1353.3L501.6 1353L502.6 1353.7L503.6 1353.1L504.6 1353.7L505.6 1352.7L506.6 1352.5L507.6 1351.3L508.6 1352.1L509.6 1352.1L510.6 1352.6L511.6 1352.3L512.6 1352.4L513.6 1352.4L514.6 1352.9L515.6 1352.8L516.6 1352.6L517.6 1351.8L518.6 1351.9L519.6 1352.8L520.6 1352.6L521.6 1353.1L522.6 1353.1L523.6 1353.2L524.6 1353L525.6 1353.3L526.6 1353.4L527.6 1352.5L528.6 1351.5L529.6 1351.9L530.6 1351.5L531.6 1351.8L532.6 1351.4L533.6 1351.9L534.6 1352.3L535.6 1351.5L536.6 1352.4L537.6 1352.5L538.6 1352.9L539.6 1352.1L540.6 1352L541.6 1352.8L542.6 1353.2L543.6 1352.6L544.6 1352L545.6 1351.2L546.6 1351.8L547.6 1351.6L548.6 1352.4L549.6 1352L550.6 1352.1L551.6 1352.2L552.6 1352.8L553.6 1352.6L554.6 1351.6L555.6 1351.3L556.6 1351L557.6 1352.1L558.6 1351.8L559.6 1352.1L560.6 1352.1L561.6 1352.2L562.6 1352L563.6 1351.3L564.6 1351.3L565.6 1351.4L566.6 1351.8L567.6 1351.4L568.6 1351.8L569.6 1351.7L570.6 1352.3L571.6 1351.9L572.6 1351.5L573.6 1351.1L574.6 1351.4L575.6 1351.4L576.6 1351.1L577.6 1351.2L578.6 1351.2L579.6 1351.5L580.6 1351.1L581.6 1350.9L582.6 1351.3L583.6 1351.3L584.6 1351.7L585.6 1352.1L586.6 1351.7L587.6 1351L588.6 1350.2L589.6 1351.1L590.6 1350.9L591.6 1350.9L592.6 1350.8L593.6 1351.8L594.6 1351.7L595.6 1351L596.6 1350.2L597.6 1350.3L598.6 1350.8L599.6 1351.5L600.6 1351.3L601.6 1351.2L602.6 1350.9L603.6 1351.2L604.6 1352L605.6 1351.7L606.6 1351.8L607.6 1351.2L608.6 1351.3L609.6 1351.7L610.6 1351.1L611.6 1351.1L612.6 1350.8L613.6 1351.1L614.6 1351.9L615.6 1350.9L616.6 1351.5L617.6 1350.7L618.6 1351.1L619.6 1351L620.6 1351L621.6 1351.3L622.6 1350.9L623.6 1350.9L624.6 1350.3L625.6 1350.8L626.6 1350.9L627.6 1351.4L628.6 1350.6L629.6 1350.5L630.6 1350.6L631.6 1351.2L632.6 1351.2L633.6 1350.5L634.6 1350.3L635.6 1350L636.6 1350.8L637.6 1350.6L638.6 1350.7L639.6 1350.4L640.6 1350.7L641.6 1351.6L642.6 1351.4L643.6 1350.9L644.6 1349.6L645.6 1349.8L646.6 1350.1L647.6 1350.6L648.6 1350.7L649.6 1350.9L650.6 1350.4L651.6 1350.1L652.6 1349.8L653.6 1349.9L654.6 1349.9L655.6 1350.7L656.6 1351.2L657.6 1350.4L658.6 1348.4L659.6 1348L660.6 1349.2L661.6 1349.7L662.6 1349.4L663.6 1348.7L664.6 1349.9L665.6 1350.2L666.6 1351.1L667.6 1351.4L668.6 1352L669.6 1350.8L670.6 1349.8L671.6 1348.7L672.6 1348.4L673.6 1349.2L674.6 1347.7L675.6 1348.7L676.6 1347.9L677.6 1350.9L678.6 1351.2L679.6 1351.3L680.6 1351.1L681.6 1349.4L682.6 1350L683.4 1348L684.6 1340L686 1328L687.6 1316L689.3 1309L690.6 1307.5L691.5 1306.2L692 1305.9L693 1306.3L694 1306.4L695 1306.4L696 1306.1L697 1306.5L698 1306.3L699 1306.5L700 1306.8L701 1307.2L702 1307.1L703 1306.6L704 1307L705 1306.8L706 1307.1L707 1306.7L708 1307.2L709 1306.7L710 1307.1L711 1307.2L712 1307.4L713 1307.3L714 1307.2L715 1306.7L716 1306.4L717 1306.1L718 1306.8L719 1307.5L720 1307.6L721 1307.9L722 1307.9L723 1308.1L724 1307.9L725 1307.6L726 1307.6L727 1307L728 1306.8L729 1306.4L730 1306.8L731 1306.7L732 1306.7L733 1306.6L734 1307.1L735 1307.6L736 1307.7L737 1307.6L738 1307.9L739 1308L740 1308.1L741 1307.8L742 1308.1L743 1307.6L744 1307.7L745 1307.5L746 1307.4L747 1307.4L748 1306.9L749 1306.9L750 1306.8L751 1307.4L752 1307.4L753 1306.9L754 1306.6L755 1306.6L756 1307L757 1307.3L758 1307.4L759 1307.6L760 1307.3L761 1307L762 1306.8L763 1306.9L764 1307.6L765 1307.4L766 1307.9L767 1308.3L768 1307.8L769 1307.1L770 1306.7L771 1307L772 1307.5L773 1307.2L774 1307.4L775 1306.8L776 1306.8L777 1306.7L778 1306.8L779 1307.1L780 1307.4L781 1308.1L782 1307.6L783 1307.6L784 1306.9L785 1307.4L786 1307.5L787 1307.8L788 1307.6L789 1307L790 1307.3L791 1306.7L792 1307.2L793 1306.9L794 1307.6L795 1307.6L796 1307.4L797 1307.1L798 1307.3L799 1307.3L800 1307.2L801 1307.5L802 1307.4L803 1306.9L804 1306.3L805 1306.3L806 1306.6L807 1306.9L808 1306.8L809 1306.8L810 1306.7L811 1307.3L812 1307.6L813 1308.1L814 1308.1L815 1308.4L816 1308L817 1307.6L818 1307.3L819 1307.2L820 1308L821 1307.8L822 1308L823 1307.7L824 1307.5L825 1308L826 1307.8L827 1307.6L828 1307.6L829 1307.5L830 1307.7L831 1307.2L832 1307.9L833 1308L834 1307.9L835 1307.5L836 1307.9L837 1308.2L838 1307.9L839 1308.3L840 1308.2L841 1308.1L842 1307.3L843 1307.6L844 1308L845 1308.1L846 1307.8L847 1307.3L848 1307L849 1306.6L850 1306.6L851 1306.9L852 1306.8L853 1307.2L854 1308.3L855 1309.3L856 1309.2L857 1308.3L858 1308.1L859 1308.1L860 1307.8L861 1307.4L862 1307.1L863 1307.2L864 1307.6L865 1307.6L866 1307.8L867 1307.8L868 1308L869 1308.1L870 1308.1L871 1307.9L872 1307.9L873 1308.2L874 1308.7L875 1309L876 1308.6L877 1308.7L878 1309.1L879 1309.1L880 1309.6L881 1308.4L882 1308.8L883 1307.8L884 1309L885 1309.6L886 1310.2L887 1309.8L888 1309.1L889 1308.8L890 1308L891 1308.2L892 1307.4L893 1308.1L894 1307.2L895 1308.5L896 1308.4L897 1308.4L898 1307.7L899 1307.8L900 1308.5L901 1309.1L902 1309.1L903 1308.8L904 1309.2L905 1309.7L906 1309.1L907 1308.9L908 1308.6L909 1309.9L910 1309.5L911 1309.7L912 1309.4L913 1309.3L914 1308.3L915 1308.2L916 1307.6L917 1308.6L918 1308.2L919 1308.6L920 1309L921 1309.6L922 1310.2L923 1309.1L924 1308.7L925 1308.9L926 1309.1L927 1308.8L928 1308.5L929 1308.5L930 1309.2L931 1309.3L932 1309.3L933 1309.4L934 1308.8L935 1309.1L936 1309.3L937 1310.5L938 1309.9L939 1310L940 1309L941 1308.7L942 1308.2L943 1308.2L944 1309.1L945 1308.4L946 1308.5L947 1308.9L948 1310L949 1310.5L950 1309.4L951 1308.9L952 1308.2L953 1308.8L954 1309.3L955 1309.8L956 1310.1L957 1310.1L958 1309.7L959 1309L960 1308L961 1308.1L962 1307.7L963 1308.5L964 1309.1L965 1309.9L966 1310L967 1310.3L968 1310.5L969 1309.9L970 1308.9L971 1308.8L972 1309.6L973 1310.4L974 1309.1L975 1308.6L976 1308L977 1307.6L978 1308.1L979 1309.7L980 1311.2L981 1309.6L982 1308.5L983 1307.7L984 1309L985 1308.8L986 1310.2L987 1310.9L988 1310.1L989 1309.4L990 1307.7L991 1307.6L992 1307.7L993 1309.4L994 1309L995 1309.7L996 1310.2L997 1311.9L998 1311.9L999 1309.9L1000 1309.4L1001 1308.5L1002 1309.6L1003 1309.6L1004 1308.9L1005 1309.3L1006 1310.9L1007 1312.1L1008 1312.2L1009 1313.4L1010 1314.4L1011 1315.1L1012 1314.3L1013 1316.5L1014 1317.5L1015 1315.9L1016 1312L1017 1309.4L1018 1306.4L1019 1304.8L1020 1303.3L1021 1302.5L1022 1302.8L1023 1302.9L1024 1303.4L1025 1301.7L1026 1303.4L1027 1303.5L1028 1307.7L1029 1310.1L1030 1314.6L1031 1316.1L1032 1321.8L1033 1323.3L1034 1319.5L1035 1314.5L1036 1310L1037 1310.7L1038 1307.5L1039 1307.4L1040 1302.8L1041 1305.4L1042 1305.9L1043 1307.1L1044 1306.4L1045 1305.3L1046 1302L1047 1301.2L1048 1297.4L1049 1299.3L1050 1296.9L1051 1297.9L1052 1293.7L1053 1298.2L1054 1299L1055 1300.9L1056 1302.4L1057 1304.3" stroke="#00f" stroke-width="2.15" fill="none" stroke-linejoin="round" />
<path d="M307.2 1351L308 1352.6L318 1352.2L325 1350.6L335 1348.4L345 1347.4L400 1347.2L520 1346.6L683 1346L685 1338L688 1322L690.5 1313.8L692 1312.8L1015.8 1312.8L1016.5 1306L1033.2 1306L1036.2 1296.8L1057.5 1296.8" stroke="#f0f" stroke-width="2.15" fill="none" stroke-linejoin="round" />
<path d="M304.3 1296.3L305.4 1312L306.6 1336L307.8 1347.6L683 1347.6L685 1340L688 1323L690.5 1314L692 1312.8L1015.8 1312.8L1016.5 1306L1033.2 1306L1036.2 1296.8L1057.5 1296.8" stroke="#0ff" stroke-width="2.35" fill="none" stroke-linejoin="round" />
<rect x="549.3" y="1308.2" width="492.3" height="171.3" fill="none" stroke="#262626" stroke-width="2.1"/>
<path d="M566.3 1341.5h125" stroke="#00f" stroke-width="2.2" fill="none"/>
<text x="703.7" y="1354" font-size="37.45" fill="#000">W = dz/dt (cm/s)</text>
<path d="M566.3 1393.5h125" stroke="#f0f" stroke-width="2.2" fill="none"/>
<text x="703.7" y="1406" font-size="37.45" fill="#000">Buoyancy (10g)</text>
<path d="M566.3 1445.5h125" stroke="#0ff" stroke-width="2.2" fill="none"/>
<text x="703.7" y="1458" font-size="37.45" fill="#000">VBD (10 cc)</text>
</g>
<g id="ax6">
<path d="M1590.5 1179.4V1510.2M1851.5 1179.4V1510.2M2112.5 1179.4V1510.2" stroke="#262626" stroke-opacity="0.14" stroke-width="2.2" fill="none"/>
<path d="M1338.1 1520.5H2112.5M1338.1 1501.5H2112.5M1338.1 1482.6H2112.5M1338.1 1463.7H2112.5M1338.1 1444.7H2112.5M1338.1 1425.8H2112.5M1338.1 1406.8H2112.5M1338.1 1387.9H2112.5M1338.1 1368.9H2112.5M1338.1 1350H2112.5M1338.1 1331H2112.5M1338.1 1312H2112.5M1338.1 1293.1H2112.5M1338.1 1274.2H2112.5M1338.1 1255.2H2112.5M1338.1 1236.2H2112.5M1338.1 1217.3H2112.5M1338.1 1198.4H2112.5M1338.1 1179.4H2112.5" stroke="#262626" stroke-opacity="0.17" stroke-width="2.2" fill="none"/>
<path d="M1328.5 1520.5H2112.5" stroke="#262626" stroke-width="2.2" fill="none" stroke-linecap="round"/>
<path d="M1328.5 1179.4V1520.5" stroke="#000000" stroke-width="2.2" fill="none" stroke-linecap="round"/>
<path d="M1328.5 1520.5v-8.1M1590.5 1520.5v-8.1M1851.5 1520.5v-8.1M2112.5 1520.5v-8.1" stroke="#262626" stroke-width="2.2" fill="none" stroke-linecap="round"/>
<path d="M1328.5 1520.5h7.0M1328.5 1501.5h7.0M1328.5 1482.6h7.0M1328.5 1463.7h7.0M1328.5 1444.7h7.0M1328.5 1425.8h7.0M1328.5 1406.8h7.0M1328.5 1387.9h7.0M1328.5 1368.9h7.0M1328.5 1350h7.0M1328.5 1331h7.0M1328.5 1312h7.0M1328.5 1293.1h7.0M1328.5 1274.2h7.0M1328.5 1255.2h7.0M1328.5 1236.2h7.0M1328.5 1217.3h7.0M1328.5 1198.4h7.0M1328.5 1179.4h7.0" stroke="#000000" stroke-width="2.2" fill="none" stroke-linecap="round"/>
<g font-size="41.75" fill="#262626" text-anchor="middle">
<text x="1327.2" y="1578.1">0</text>
<text x="1589.2" y="1578.1">100</text>
<text x="1850.2" y="1578.1">200</text>
<text x="2111.2" y="1578.1">300</text>
<text x="1718.5" y="1637.3">Time (minutes)</text>
<text transform="translate(1191.5 1350) rotate(-90)" fill="#000000">Speed</text>
</g>
<g font-size="41.75" fill="#000000" text-anchor="end">
<text x="1309.4" y="1535.4">-100</text>
<text x="1309.4" y="1516.5">-90</text>
<text x="1309.4" y="1497.5">-80</text>
<text x="1309.4" y="1478.6">-70</text>
<text x="1309.4" y="1459.6">-60</text>
<text x="1309.4" y="1440.7">-50</text>
<text x="1309.4" y="1421.7">-40</text>
<text x="1309.4" y="1402.8">-30</text>
<text x="1309.4" y="1383.8">-20</text>
<text x="1309.4" y="1364.9">-10</text>
<text x="1311.2" y="1345.9">0</text>
<text x="1311.2" y="1327">10</text>
<text x="1311.2" y="1308">20</text>
<text x="1311.2" y="1289.1">30</text>
<text x="1311.2" y="1270.1">40</text>
<text x="1311.2" y="1251.2">50</text>
<text x="1311.2" y="1232.2">60</text>
<text x="1311.2" y="1213.3">70</text>
<text x="1311.2" y="1194.3">80</text>
</g>
<path d="M1332.6 1369.1V1409.6M1334.4 1355.5L1335.2 1360L1336.2 1358.2L1337.4 1361.5L1339 1360.4L1341 1361.2L1344.3 1360.2M1351.1 1359.4L1352.9 1359.3L1354.7 1358.7L1356.5 1356.9L1358.3 1356.9L1360.1 1355.8L1361.9 1356.5L1363.7 1355.4L1365.5 1356L1367.3 1355M1387.1 1353.9L1388.9 1354.2L1390.7 1354.6L1392.5 1353.9L1394.3 1353.9L1396.1 1352.4L1397.9 1352.6L1399.7 1352.8L1401.5 1353.2L1403.3 1353.1L1405.1 1353.2L1406.9 1352.8L1408.7 1353.1L1410.5 1352.4L1412.3 1353.7L1414.1 1353.6L1415.9 1353.7L1417.7 1353L1419.5 1353.6L1421.3 1353.7L1423.1 1353.2M1443.4 1354.7L1445.2 1354.2L1447 1353.2L1448.8 1352.7L1450.6 1353.8L1452.4 1354.1L1454.2 1353.6L1456 1352.6L1457.8 1352.1L1459.6 1353.1L1461.4 1353L1463.2 1353.4L1465 1352.8L1466.8 1352.7L1468.6 1352.8L1470.4 1353.3L1472.2 1353L1474 1353.4M1495.9 1352.9L1497.7 1352L1499.5 1352.7L1501.3 1352.1L1503.1 1351.8L1504.9 1351L1506.7 1351.3L1508.5 1351.6L1510.3 1350.9L1512.1 1350.8L1513.9 1351.4L1515.7 1352.2L1517.5 1352.5L1519.3 1351.4L1521.1 1351L1522.9 1350.3L1524.7 1351.4L1526.5 1351.2M1547.8 1351.2L1549.6 1351.2L1551.4 1351.2L1553.2 1350.6L1555 1350L1556.8 1350L1558.6 1350.2L1560.4 1350.6L1562.2 1350.8L1564 1351.3L1565.8 1350.5L1567.6 1350.3L1569.4 1349L1571.2 1349.8L1573 1350.7L1574.8 1351.1L1576.6 1351.4L1578.4 1350.9L1580.2 1351L1582 1350.5L1583.8 1350.2M1609.7 1350L1611.5 1350.5L1613.3 1351L1615.1 1350.6L1616.9 1350.1L1618.7 1350.2L1620.5 1350.6L1622.3 1350.3L1624.1 1351L1625.9 1351.4L1627.7 1351.9L1629.5 1350.9L1631.3 1351L1633.1 1351.1L1634.9 1350.9L1636.7 1350.1L1638.5 1349.3L1640.3 1349.8L1642.1 1349.9L1643.9 1350.6L1645.7 1349.9L1647.5 1349.4M1670.3 1350.6L1672.1 1350.3L1673.9 1349.4L1675.7 1349.1L1677.5 1349.2L1679.3 1349.3L1681.1 1348.9L1682.9 1348.4L1684.7 1348.2L1686.5 1348.9L1688.3 1349.7L1690.1 1350L1691.9 1349.9L1693.7 1350.4L1695.5 1350L1697.3 1349.4L1699.1 1349.1L1700.9 1349.5L1702.7 1349.9L1704.5 1349.7L1706.3 1349.3L1708.1 1349" stroke="#00f" stroke-width="2.15" fill="none" stroke-linejoin="round" />
<path d="M1332.6 1307.9V1279.5L1333.6 1278.6L1335.6 1280.3M1349.5 1284.4L1351.5 1284.5L1353.5 1284.3L1355.5 1284.2L1357.5 1284L1359.5 1284.6L1361.5 1284.9L1363.5 1285.5L1365.5 1286.2L1367.5 1287L1369.5 1287.7L1371.5 1288.3L1373.5 1289.1L1375.5 1289.7L1377.5 1290.2L1379.5 1290.8L1381.5 1291.3L1383.5 1291.8M1408.5 1291.3L1410.5 1291.4L1412.5 1291.1L1414.5 1291.5L1416.5 1291.6L1418.5 1291.6L1420.5 1291.6L1422.5 1291.2L1424.5 1291.7L1426.5 1291.9L1428.5 1292L1430.5 1291.8L1432.5 1291.8L1434.5 1292.4L1436.5 1292.3L1438.5 1292.6L1440.5 1292.4L1442.5 1292.6L1444.5 1292.2L1446.5 1292M1471.6 1292.1L1473.6 1292.1L1475.6 1292.1L1477.6 1292.3L1479.6 1292.4L1481.6 1292.5L1483.6 1292.7L1485.6 1293L1487.6 1293.1L1489.6 1292.9L1491.6 1293.1L1493.6 1292.9L1495.6 1292.5L1497.6 1292.1L1499.6 1292.1L1501.6 1292.5L1503.6 1292.6L1505.6 1292.5L1507.6 1292.3M1533.3 1292.6L1535.3 1292.6L1537.3 1293.4L1539.3 1293.3L1541.3 1293.2L1543.3 1292.9L1545.3 1293.1L1547.3 1292.6L1549.3 1292.7L1551.3 1292.2L1553.3 1293.2L1555.3 1292.8L1557.3 1293.6L1559.3 1293.4L1561.3 1293.4L1563.3 1293.5L1565.3 1293.4L1567.3 1293.4L1569.3 1293.5L1571.3 1293.7L1573.3 1293.8M1598.4 1294L1600.4 1293.4L1602.4 1293L1604.4 1292.7L1606.4 1292.8L1608.4 1293.4L1610.4 1293.5L1612.4 1293.8L1614.4 1293.8L1616.4 1293.9L1618.4 1293.9L1620.4 1293.9L1622.4 1293.8L1624.4 1294.1L1626.4 1293.9L1628.4 1293.9L1630.4 1293.8L1632.4 1294.1L1634.4 1294.2L1636.4 1293.8L1638.4 1293.8M1663.7 1293.5L1665.7 1293.7L1667.7 1293.8L1669.7 1293.5L1671.7 1293.5L1673.7 1293.5L1675.7 1294.1L1677.7 1294.1L1679.7 1293.7L1681.7 1293.2L1683.7 1293L1685.7 1293.5L1687.7 1293.9L1689.7 1294L1691.7 1294.1L1693.7 1294.1L1695.7 1294.4L1697.7 1294.5L1699.7 1294.2L1701.7 1294.2L1703.7 1293.8" stroke="#0ff" stroke-width="2.15" fill="none" stroke-linejoin="round" />
<rect x="1445.6" y="1357.9" width="625.2" height="121.3" fill="none" stroke="#262626" stroke-width="2.1"/>
<path d="M1462.6 1392.5h41.7m25 0h41.7" stroke="#00f" stroke-width="2.2" fill="none"/>
<text x="1600" y="1405" font-size="37.45" fill="#000">Vert Speed(buoy,pitch)</text>
<path d="M1462.6 1445.5h41.7m25 0h41.7" stroke="#0ff" stroke-width="2.2" fill="none"/>
<text x="1600" y="1458" font-size="37.45" fill="#000">Horiz Speed(buoy,pitch)</text>
</g>
</svg></body></html>
